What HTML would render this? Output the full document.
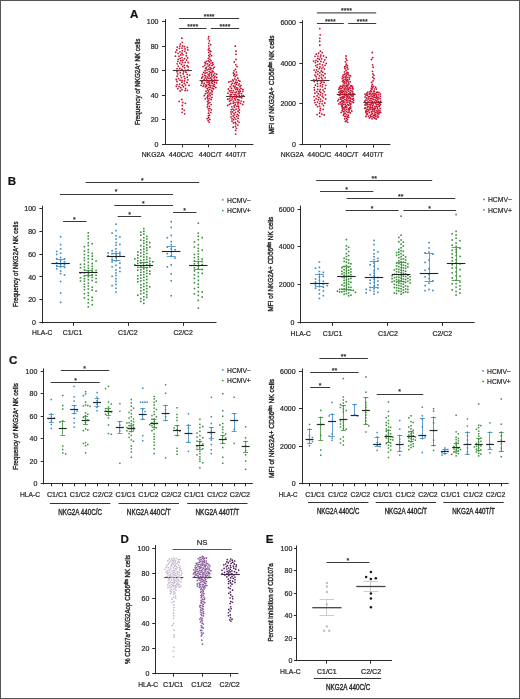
<!DOCTYPE html>
<html><head><meta charset="utf-8"><title>Figure</title>
<style>
html,body{margin:0;padding:0;background:#fff;}
svg{display:block;will-change:transform;font-family:"Liberation Sans", sans-serif;}
text{stroke:#2a2a2a;stroke-width:0.22px;}
text.v{stroke-width:0.4px;}
text.g{stroke-width:0.38px;}
text.b{stroke-width:0.1px;}
</style></head>
<body>
<svg width="520" height="699" viewBox="0 0 520 699">
<rect x="0" y="0" width="520" height="699" fill="#fff"/>
<text x="134.1" y="17.53" font-size="11.6" font-weight="bold" fill="#111" text-anchor="middle">A</text>
<line x1="165.5" y1="19" x2="165.5" y2="144.8" stroke="#2b2b2b" stroke-width="1"/>
<line x1="162" y1="144.5" x2="165" y2="144.5" stroke="#2b2b2b" stroke-width="1"/>
<text x="158.5" y="146.62" font-size="7" fill="#2a2a2a" text-anchor="end">0</text>
<line x1="162" y1="119.5" x2="165" y2="119.5" stroke="#2b2b2b" stroke-width="1"/>
<text x="158.5" y="122.18" font-size="7" fill="#2a2a2a" text-anchor="end">20</text>
<line x1="162" y1="95.5" x2="165" y2="95.5" stroke="#2b2b2b" stroke-width="1"/>
<text x="158.5" y="97.74" font-size="7" fill="#2a2a2a" text-anchor="end">40</text>
<line x1="162" y1="70.5" x2="165" y2="70.5" stroke="#2b2b2b" stroke-width="1"/>
<text x="158.5" y="73.3" font-size="7" fill="#2a2a2a" text-anchor="end">60</text>
<line x1="162" y1="46.5" x2="165" y2="46.5" stroke="#2b2b2b" stroke-width="1"/>
<text x="158.5" y="48.86" font-size="7" fill="#2a2a2a" text-anchor="end">80</text>
<line x1="162" y1="21.5" x2="165" y2="21.5" stroke="#2b2b2b" stroke-width="1"/>
<text x="158.5" y="24.42" font-size="7" fill="#2a2a2a" text-anchor="end">100</text>
<line x1="164.5" y1="144.5" x2="253.3" y2="144.5" stroke="#2b2b2b" stroke-width="1"/>
<line x1="182.5" y1="144.3" x2="182.5" y2="147.3" stroke="#2b2b2b" stroke-width="1"/>
<line x1="208.5" y1="144.3" x2="208.5" y2="147.3" stroke="#2b2b2b" stroke-width="1"/>
<line x1="235.5" y1="144.3" x2="235.5" y2="147.3" stroke="#2b2b2b" stroke-width="1"/>
<text x="141.7" y="157.25" font-size="6.8" font-weight="normal" fill="#2a2a2a" textLength="23.1" lengthAdjust="spacingAndGlyphs">NKG2A</text>
<text x="168.8" y="157.25" font-size="6.8" font-weight="normal" fill="#2a2a2a" textLength="24.5" lengthAdjust="spacingAndGlyphs">440C/C</text>
<text x="198.7" y="157.25" font-size="6.8" font-weight="normal" fill="#2a2a2a" textLength="23.3" lengthAdjust="spacingAndGlyphs">440C/T</text>
<text x="225.3" y="157.25" font-size="6.8" font-weight="normal" fill="#2a2a2a" textLength="21" lengthAdjust="spacingAndGlyphs">440T/T</text>
<text class="v" transform="translate(140.31,81.85) rotate(-90)" x="0" y="0" font-size="7.8" fill="#2a2a2a" text-anchor="middle" textLength="86.5" lengthAdjust="spacingAndGlyphs">Frequency of NKG2A<tspan font-size="4.5" dy="-2.2">+</tspan><tspan dy="2.2"> NK cells</tspan></text>
<line x1="179.1" y1="18.5" x2="239.2" y2="18.5" stroke="#3a3a3a" stroke-width="1"/>
<text x="209.15" y="18.66" font-size="7" fill="#2a2a2a" text-anchor="middle">****</text>
<line x1="179.1" y1="28.5" x2="206.5" y2="28.5" stroke="#3a3a3a" stroke-width="1"/>
<text x="192.8" y="29.26" font-size="7" fill="#2a2a2a" text-anchor="middle">****</text>
<line x1="210.8" y1="28.5" x2="239.2" y2="28.5" stroke="#3a3a3a" stroke-width="1"/>
<text x="225" y="29.26" font-size="7" fill="#2a2a2a" text-anchor="middle">****</text>
<line x1="172.8" y1="70.5" x2="191.8" y2="70.5" stroke="#3a4038" stroke-width="1.1"/>
<circle cx="179.9" cy="51.78" r="0.9" fill="#c4102e"/>
<circle cx="182.04" cy="57.55" r="0.9" fill="#c4102e"/>
<circle cx="181.92" cy="69.49" r="0.9" fill="#c4102e"/>
<circle cx="189.56" cy="75.22" r="0.9" fill="#c4102e"/>
<circle cx="181.95" cy="89.7" r="0.9" fill="#c4102e"/>
<circle cx="182.3" cy="50.83" r="0.9" fill="#c4102e"/>
<circle cx="181.83" cy="38.15" r="0.9" fill="#c4102e"/>
<circle cx="184.67" cy="67.79" r="0.9" fill="#c4102e"/>
<circle cx="182.31" cy="42.29" r="0.9" fill="#c4102e"/>
<circle cx="180.18" cy="72.72" r="0.9" fill="#c4102e"/>
<circle cx="179.19" cy="101.31" r="0.9" fill="#c4102e"/>
<circle cx="176.93" cy="81.49" r="0.9" fill="#c4102e"/>
<circle cx="188.29" cy="66.95" r="0.9" fill="#c4102e"/>
<circle cx="175.7" cy="52.18" r="0.9" fill="#c4102e"/>
<circle cx="176.84" cy="50" r="0.9" fill="#c4102e"/>
<circle cx="181.88" cy="53.21" r="0.9" fill="#c4102e"/>
<circle cx="180.08" cy="91" r="0.9" fill="#c4102e"/>
<circle cx="177.14" cy="76.19" r="0.9" fill="#c4102e"/>
<circle cx="186.39" cy="53.2" r="0.9" fill="#c4102e"/>
<circle cx="184.58" cy="113.78" r="0.9" fill="#c4102e"/>
<circle cx="181.44" cy="64.46" r="0.9" fill="#c4102e"/>
<circle cx="177.74" cy="73.92" r="0.9" fill="#c4102e"/>
<circle cx="185.95" cy="72.22" r="0.9" fill="#c4102e"/>
<circle cx="188.14" cy="62.49" r="0.9" fill="#c4102e"/>
<circle cx="182.64" cy="45.96" r="0.9" fill="#c4102e"/>
<circle cx="177.15" cy="84.62" r="0.9" fill="#c4102e"/>
<circle cx="177.83" cy="61.34" r="0.9" fill="#c4102e"/>
<circle cx="182.27" cy="85.2" r="0.9" fill="#c4102e"/>
<circle cx="178.97" cy="56.14" r="0.9" fill="#c4102e"/>
<circle cx="182.75" cy="66.54" r="0.9" fill="#c4102e"/>
<circle cx="183.2" cy="73.74" r="0.9" fill="#c4102e"/>
<circle cx="178.56" cy="78.53" r="0.9" fill="#c4102e"/>
<circle cx="187.32" cy="77.25" r="0.9" fill="#c4102e"/>
<circle cx="185.41" cy="103.31" r="0.9" fill="#c4102e"/>
<circle cx="178.26" cy="66.09" r="0.9" fill="#c4102e"/>
<circle cx="182.49" cy="62.3" r="0.9" fill="#c4102e"/>
<circle cx="179.4" cy="48.39" r="0.9" fill="#c4102e"/>
<circle cx="179.04" cy="86.59" r="0.9" fill="#c4102e"/>
<circle cx="186.32" cy="55.75" r="0.9" fill="#c4102e"/>
<circle cx="184.18" cy="110.29" r="0.9" fill="#c4102e"/>
<circle cx="182.28" cy="108.98" r="0.9" fill="#c4102e"/>
<circle cx="180.76" cy="87.7" r="0.9" fill="#c4102e"/>
<circle cx="184.51" cy="80.9" r="0.9" fill="#c4102e"/>
<circle cx="181.82" cy="82.13" r="0.9" fill="#c4102e"/>
<circle cx="184.89" cy="51.28" r="0.9" fill="#c4102e"/>
<circle cx="180.88" cy="60.76" r="0.9" fill="#c4102e"/>
<circle cx="182.06" cy="112.34" r="0.9" fill="#c4102e"/>
<circle cx="179.19" cy="70.46" r="0.9" fill="#c4102e"/>
<circle cx="184.53" cy="58.69" r="0.9" fill="#c4102e"/>
<circle cx="187.43" cy="47.39" r="0.9" fill="#c4102e"/>
<circle cx="180.38" cy="44.1" r="0.9" fill="#c4102e"/>
<circle cx="177.11" cy="68.72" r="0.9" fill="#c4102e"/>
<circle cx="187.69" cy="49.93" r="0.9" fill="#c4102e"/>
<circle cx="187.14" cy="74.34" r="0.9" fill="#c4102e"/>
<circle cx="181.52" cy="77.55" r="0.9" fill="#c4102e"/>
<circle cx="186.58" cy="60.13" r="0.9" fill="#c4102e"/>
<circle cx="185.59" cy="88.36" r="0.9" fill="#c4102e"/>
<circle cx="181.87" cy="99.52" r="0.9" fill="#c4102e"/>
<circle cx="180.14" cy="58.41" r="0.9" fill="#c4102e"/>
<circle cx="183.58" cy="71.81" r="0.9" fill="#c4102e"/>
<circle cx="184.28" cy="65.44" r="0.9" fill="#c4102e"/>
<circle cx="187.37" cy="90.37" r="0.9" fill="#c4102e"/>
<circle cx="184.88" cy="78.53" r="0.9" fill="#c4102e"/>
<circle cx="184.09" cy="76.51" r="0.9" fill="#c4102e"/>
<circle cx="179.87" cy="63.04" r="0.9" fill="#c4102e"/>
<circle cx="179.93" cy="46.06" r="0.9" fill="#c4102e"/>
<circle cx="182.95" cy="60.22" r="0.9" fill="#c4102e"/>
<circle cx="185.37" cy="70.43" r="0.9" fill="#c4102e"/>
<circle cx="182.12" cy="80.49" r="0.9" fill="#c4102e"/>
<circle cx="176.28" cy="79.52" r="0.9" fill="#c4102e"/>
<circle cx="185.25" cy="62.43" r="0.9" fill="#c4102e"/>
<circle cx="182.28" cy="105.48" r="0.9" fill="#c4102e"/>
<circle cx="177.18" cy="47.09" r="0.9" fill="#c4102e"/>
<circle cx="177.8" cy="88.67" r="0.9" fill="#c4102e"/>
<circle cx="182.67" cy="102.38" r="0.9" fill="#c4102e"/>
<circle cx="179.85" cy="68.37" r="0.9" fill="#c4102e"/>
<circle cx="185.21" cy="90.46" r="0.9" fill="#c4102e"/>
<circle cx="184.58" cy="46.69" r="0.9" fill="#c4102e"/>
<circle cx="181.95" cy="48.05" r="0.9" fill="#c4102e"/>
<circle cx="187.08" cy="82.49" r="0.9" fill="#c4102e"/>
<circle cx="178.21" cy="59.29" r="0.9" fill="#c4102e"/>
<circle cx="185.06" cy="49.02" r="0.9" fill="#c4102e"/>
<circle cx="185.46" cy="85.08" r="0.9" fill="#c4102e"/>
<circle cx="184.32" cy="83.46" r="0.9" fill="#c4102e"/>
<circle cx="187.84" cy="79.85" r="0.9" fill="#c4102e"/>
<circle cx="182.97" cy="54.84" r="0.9" fill="#c4102e"/>
<circle cx="180.07" cy="80.17" r="0.9" fill="#c4102e"/>
<circle cx="180.52" cy="75.56" r="0.9" fill="#c4102e"/>
<circle cx="189.06" cy="85.43" r="0.9" fill="#c4102e"/>
<circle cx="178" cy="53.35" r="0.9" fill="#c4102e"/>
<circle cx="179.55" cy="84.06" r="0.9" fill="#c4102e"/>
<circle cx="188.05" cy="69.9" r="0.9" fill="#c4102e"/>
<circle cx="176.25" cy="86.34" r="0.9" fill="#c4102e"/>
<circle cx="187.6" cy="57.92" r="0.9" fill="#c4102e"/>
<circle cx="177.25" cy="63.78" r="0.9" fill="#c4102e"/>
<circle cx="175.5" cy="56.13" r="0.9" fill="#c4102e"/>
<circle cx="183.48" cy="86.76" r="0.9" fill="#c4102e"/>
<circle cx="187.08" cy="65.75" r="0.9" fill="#c4102e"/>
<circle cx="180.82" cy="54.91" r="0.9" fill="#c4102e"/>
<circle cx="177.03" cy="71.76" r="0.9" fill="#c4102e"/>
<line x1="199.5" y1="80.5" x2="218.5" y2="80.5" stroke="#3a4038" stroke-width="1.1"/>
<circle cx="208.76" cy="52.45" r="0.9" fill="#c4102e"/>
<circle cx="208.32" cy="38.79" r="0.9" fill="#c4102e"/>
<circle cx="213.18" cy="71.69" r="0.9" fill="#c4102e"/>
<circle cx="205.77" cy="63.71" r="0.9" fill="#c4102e"/>
<circle cx="211.92" cy="65.6" r="0.9" fill="#c4102e"/>
<circle cx="208.14" cy="120.48" r="0.9" fill="#c4102e"/>
<circle cx="208.33" cy="103.14" r="0.9" fill="#c4102e"/>
<circle cx="204.91" cy="62.48" r="0.9" fill="#c4102e"/>
<circle cx="205.35" cy="93.77" r="0.9" fill="#c4102e"/>
<circle cx="206.16" cy="80.86" r="0.9" fill="#c4102e"/>
<circle cx="207.13" cy="82.38" r="0.9" fill="#c4102e"/>
<circle cx="210.36" cy="87.43" r="0.9" fill="#c4102e"/>
<circle cx="216.61" cy="74.2" r="0.9" fill="#c4102e"/>
<circle cx="202.51" cy="81.13" r="0.9" fill="#c4102e"/>
<circle cx="208.79" cy="117.77" r="0.9" fill="#c4102e"/>
<circle cx="213.25" cy="68.61" r="0.9" fill="#c4102e"/>
<circle cx="208.88" cy="87.6" r="0.9" fill="#c4102e"/>
<circle cx="214.53" cy="82.25" r="0.9" fill="#c4102e"/>
<circle cx="208.3" cy="80.96" r="0.9" fill="#c4102e"/>
<circle cx="208.35" cy="115.8" r="0.9" fill="#c4102e"/>
<circle cx="211.03" cy="60.63" r="0.9" fill="#c4102e"/>
<circle cx="211.73" cy="79.2" r="0.9" fill="#c4102e"/>
<circle cx="211.15" cy="104.56" r="0.9" fill="#c4102e"/>
<circle cx="209.46" cy="73.8" r="0.9" fill="#c4102e"/>
<circle cx="209.17" cy="94.02" r="0.9" fill="#c4102e"/>
<circle cx="209.3" cy="85.52" r="0.9" fill="#c4102e"/>
<circle cx="209.04" cy="48.27" r="0.9" fill="#c4102e"/>
<circle cx="213.6" cy="75.18" r="0.9" fill="#c4102e"/>
<circle cx="209.37" cy="61.76" r="0.9" fill="#c4102e"/>
<circle cx="212.77" cy="81.43" r="0.9" fill="#c4102e"/>
<circle cx="210.74" cy="51.51" r="0.9" fill="#c4102e"/>
<circle cx="214.2" cy="67.13" r="0.9" fill="#c4102e"/>
<circle cx="205.26" cy="73.13" r="0.9" fill="#c4102e"/>
<circle cx="211.41" cy="74.94" r="0.9" fill="#c4102e"/>
<circle cx="208.32" cy="49.85" r="0.9" fill="#c4102e"/>
<circle cx="201.99" cy="83.34" r="0.9" fill="#c4102e"/>
<circle cx="208.93" cy="110.79" r="0.9" fill="#c4102e"/>
<circle cx="205.11" cy="70.65" r="0.9" fill="#c4102e"/>
<circle cx="209.63" cy="98.38" r="0.9" fill="#c4102e"/>
<circle cx="203.74" cy="72.45" r="0.9" fill="#c4102e"/>
<circle cx="206.05" cy="91.19" r="0.9" fill="#c4102e"/>
<circle cx="210.03" cy="67.52" r="0.9" fill="#c4102e"/>
<circle cx="208.81" cy="69.17" r="0.9" fill="#c4102e"/>
<circle cx="203.06" cy="66.6" r="0.9" fill="#c4102e"/>
<circle cx="216.99" cy="80.41" r="0.9" fill="#c4102e"/>
<circle cx="207.95" cy="96.62" r="0.9" fill="#c4102e"/>
<circle cx="216.48" cy="82.92" r="0.9" fill="#c4102e"/>
<circle cx="209.62" cy="83.68" r="0.9" fill="#c4102e"/>
<circle cx="207.65" cy="104.7" r="0.9" fill="#c4102e"/>
<circle cx="209.42" cy="40.93" r="0.9" fill="#c4102e"/>
<circle cx="210.64" cy="93.06" r="0.9" fill="#c4102e"/>
<circle cx="208.85" cy="43.35" r="0.9" fill="#c4102e"/>
<circle cx="209.42" cy="106.37" r="0.9" fill="#c4102e"/>
<circle cx="209.53" cy="56.83" r="0.9" fill="#c4102e"/>
<circle cx="210.71" cy="112.4" r="0.9" fill="#c4102e"/>
<circle cx="211.36" cy="109.83" r="0.9" fill="#c4102e"/>
<circle cx="207.52" cy="101.56" r="0.9" fill="#c4102e"/>
<circle cx="208" cy="90.25" r="0.9" fill="#c4102e"/>
<circle cx="204.82" cy="65.33" r="0.9" fill="#c4102e"/>
<circle cx="205.85" cy="84.85" r="0.9" fill="#c4102e"/>
<circle cx="207.12" cy="69.93" r="0.9" fill="#c4102e"/>
<circle cx="208.92" cy="78.3" r="0.9" fill="#c4102e"/>
<circle cx="205.21" cy="77.81" r="0.9" fill="#c4102e"/>
<circle cx="209.87" cy="119.36" r="0.9" fill="#c4102e"/>
<circle cx="212.16" cy="88.14" r="0.9" fill="#c4102e"/>
<circle cx="209.67" cy="65.02" r="0.9" fill="#c4102e"/>
<circle cx="207.4" cy="106.91" r="0.9" fill="#c4102e"/>
<circle cx="209.62" cy="80.75" r="0.9" fill="#c4102e"/>
<circle cx="212.12" cy="70.97" r="0.9" fill="#c4102e"/>
<circle cx="211" cy="63.08" r="0.9" fill="#c4102e"/>
<circle cx="214.2" cy="86.44" r="0.9" fill="#c4102e"/>
<circle cx="211.37" cy="82.11" r="0.9" fill="#c4102e"/>
<circle cx="213.05" cy="85.89" r="0.9" fill="#c4102e"/>
<circle cx="204.3" cy="95.67" r="0.9" fill="#c4102e"/>
<circle cx="209.42" cy="115.15" r="0.9" fill="#c4102e"/>
<circle cx="207" cy="72.63" r="0.9" fill="#c4102e"/>
<circle cx="214.65" cy="73.47" r="0.9" fill="#c4102e"/>
<circle cx="208.91" cy="55.46" r="0.9" fill="#c4102e"/>
<circle cx="206.36" cy="61.4" r="0.9" fill="#c4102e"/>
<circle cx="204.13" cy="79.47" r="0.9" fill="#c4102e"/>
<circle cx="203.01" cy="86.34" r="0.9" fill="#c4102e"/>
<circle cx="208.21" cy="84.28" r="0.9" fill="#c4102e"/>
<circle cx="208.21" cy="60.66" r="0.9" fill="#c4102e"/>
<circle cx="208.5" cy="100.51" r="0.9" fill="#c4102e"/>
<circle cx="213.53" cy="89" r="0.9" fill="#c4102e"/>
<circle cx="204.22" cy="83.14" r="0.9" fill="#c4102e"/>
<circle cx="209.98" cy="59.28" r="0.9" fill="#c4102e"/>
<circle cx="208.98" cy="82.44" r="0.9" fill="#c4102e"/>
<circle cx="208.16" cy="66.09" r="0.9" fill="#c4102e"/>
<circle cx="208.75" cy="91.79" r="0.9" fill="#c4102e"/>
<circle cx="206.46" cy="67.48" r="0.9" fill="#c4102e"/>
<circle cx="202.75" cy="76.74" r="0.9" fill="#c4102e"/>
<circle cx="208.72" cy="45.81" r="0.9" fill="#c4102e"/>
<circle cx="207.18" cy="92.9" r="0.9" fill="#c4102e"/>
<circle cx="208.24" cy="74.68" r="0.9" fill="#c4102e"/>
<circle cx="211.11" cy="68.46" r="0.9" fill="#c4102e"/>
<circle cx="209.13" cy="122.04" r="0.9" fill="#c4102e"/>
<circle cx="210.2" cy="95.77" r="0.9" fill="#c4102e"/>
<circle cx="209.88" cy="108.61" r="0.9" fill="#c4102e"/>
<circle cx="209.76" cy="89.57" r="0.9" fill="#c4102e"/>
<circle cx="207.79" cy="95.44" r="0.9" fill="#c4102e"/>
<circle cx="214.04" cy="84.5" r="0.9" fill="#c4102e"/>
<circle cx="207.18" cy="88.5" r="0.9" fill="#c4102e"/>
<circle cx="214.72" cy="79.82" r="0.9" fill="#c4102e"/>
<circle cx="212.63" cy="62.77" r="0.9" fill="#c4102e"/>
<circle cx="208.51" cy="113.19" r="0.9" fill="#c4102e"/>
<circle cx="205.58" cy="68.52" r="0.9" fill="#c4102e"/>
<circle cx="210.24" cy="69.56" r="0.9" fill="#c4102e"/>
<circle cx="200.97" cy="85.34" r="0.9" fill="#c4102e"/>
<circle cx="209.63" cy="50.6" r="0.9" fill="#c4102e"/>
<circle cx="208.35" cy="58.3" r="0.9" fill="#c4102e"/>
<circle cx="211.9" cy="97.28" r="0.9" fill="#c4102e"/>
<circle cx="207.12" cy="118.61" r="0.9" fill="#c4102e"/>
<circle cx="207.74" cy="98.85" r="0.9" fill="#c4102e"/>
<circle cx="215.83" cy="87.53" r="0.9" fill="#c4102e"/>
<circle cx="203.85" cy="85.08" r="0.9" fill="#c4102e"/>
<circle cx="201.71" cy="78" r="0.9" fill="#c4102e"/>
<circle cx="210.62" cy="78" r="0.9" fill="#c4102e"/>
<circle cx="207.58" cy="77.24" r="0.9" fill="#c4102e"/>
<circle cx="210.66" cy="44.66" r="0.9" fill="#c4102e"/>
<circle cx="205.28" cy="98.83" r="0.9" fill="#c4102e"/>
<circle cx="214.95" cy="76.52" r="0.9" fill="#c4102e"/>
<circle cx="213.01" cy="64.4" r="0.9" fill="#c4102e"/>
<circle cx="211.69" cy="90.47" r="0.9" fill="#c4102e"/>
<circle cx="204.69" cy="75.3" r="0.9" fill="#c4102e"/>
<circle cx="208.27" cy="108.84" r="0.9" fill="#c4102e"/>
<circle cx="212" cy="76.5" r="0.9" fill="#c4102e"/>
<circle cx="212.15" cy="91.77" r="0.9" fill="#c4102e"/>
<circle cx="216.68" cy="77.51" r="0.9" fill="#c4102e"/>
<circle cx="211.18" cy="99.51" r="0.9" fill="#c4102e"/>
<circle cx="213.99" cy="77.94" r="0.9" fill="#c4102e"/>
<circle cx="205.89" cy="76.12" r="0.9" fill="#c4102e"/>
<circle cx="210.72" cy="72.43" r="0.9" fill="#c4102e"/>
<circle cx="208.69" cy="36.76" r="0.9" fill="#c4102e"/>
<circle cx="212.17" cy="83.49" r="0.9" fill="#c4102e"/>
<circle cx="211.87" cy="72.93" r="0.9" fill="#c4102e"/>
<circle cx="210.88" cy="85.58" r="0.9" fill="#c4102e"/>
<circle cx="212.01" cy="94.45" r="0.9" fill="#c4102e"/>
<circle cx="207.74" cy="63.95" r="0.9" fill="#c4102e"/>
<circle cx="210.14" cy="54.05" r="0.9" fill="#c4102e"/>
<circle cx="201.73" cy="81.78" r="0.9" fill="#c4102e"/>
<circle cx="206.72" cy="78.9" r="0.9" fill="#c4102e"/>
<circle cx="205.38" cy="86.91" r="0.9" fill="#c4102e"/>
<circle cx="209.22" cy="75.99" r="0.9" fill="#c4102e"/>
<circle cx="207.13" cy="97.37" r="0.9" fill="#c4102e"/>
<circle cx="202.55" cy="74.34" r="0.9" fill="#c4102e"/>
<circle cx="206.64" cy="85.98" r="0.9" fill="#c4102e"/>
<circle cx="211.57" cy="55.65" r="0.9" fill="#c4102e"/>
<circle cx="209.23" cy="71.61" r="0.9" fill="#c4102e"/>
<circle cx="209.82" cy="102.6" r="0.9" fill="#c4102e"/>
<line x1="226.1" y1="96.5" x2="245.1" y2="96.5" stroke="#3a4038" stroke-width="1.1"/>
<circle cx="235.25" cy="46.22" r="0.9" fill="#c4102e"/>
<circle cx="237.18" cy="82.45" r="0.9" fill="#c4102e"/>
<circle cx="229.41" cy="101.21" r="0.9" fill="#c4102e"/>
<circle cx="230.98" cy="81.28" r="0.9" fill="#c4102e"/>
<circle cx="236.07" cy="51.26" r="0.9" fill="#c4102e"/>
<circle cx="227.75" cy="99.15" r="0.9" fill="#c4102e"/>
<circle cx="237.84" cy="78.13" r="0.9" fill="#c4102e"/>
<circle cx="234.64" cy="83.5" r="0.9" fill="#c4102e"/>
<circle cx="239.83" cy="81.14" r="0.9" fill="#c4102e"/>
<circle cx="240.25" cy="91.16" r="0.9" fill="#c4102e"/>
<circle cx="228.41" cy="88.99" r="0.9" fill="#c4102e"/>
<circle cx="235.56" cy="112.28" r="0.9" fill="#c4102e"/>
<circle cx="234.52" cy="107.2" r="0.9" fill="#c4102e"/>
<circle cx="240.96" cy="88.39" r="0.9" fill="#c4102e"/>
<circle cx="235.37" cy="104.72" r="0.9" fill="#c4102e"/>
<circle cx="236.44" cy="72.11" r="0.9" fill="#c4102e"/>
<circle cx="235.28" cy="99.92" r="0.9" fill="#c4102e"/>
<circle cx="237.04" cy="66.71" r="0.9" fill="#c4102e"/>
<circle cx="243.69" cy="101.84" r="0.9" fill="#c4102e"/>
<circle cx="234.67" cy="74.21" r="0.9" fill="#c4102e"/>
<circle cx="229.63" cy="98.65" r="0.9" fill="#c4102e"/>
<circle cx="237.38" cy="114.33" r="0.9" fill="#c4102e"/>
<circle cx="234.54" cy="87.74" r="0.9" fill="#c4102e"/>
<circle cx="230.19" cy="94.92" r="0.9" fill="#c4102e"/>
<circle cx="236.26" cy="97.53" r="0.9" fill="#c4102e"/>
<circle cx="238.98" cy="122.3" r="0.9" fill="#c4102e"/>
<circle cx="232.91" cy="109.05" r="0.9" fill="#c4102e"/>
<circle cx="237.99" cy="111.15" r="0.9" fill="#c4102e"/>
<circle cx="242.88" cy="89.45" r="0.9" fill="#c4102e"/>
<circle cx="241.5" cy="93.67" r="0.9" fill="#c4102e"/>
<circle cx="231.35" cy="109.58" r="0.9" fill="#c4102e"/>
<circle cx="236.82" cy="74.96" r="0.9" fill="#c4102e"/>
<circle cx="241.21" cy="101.05" r="0.9" fill="#c4102e"/>
<circle cx="242.86" cy="91.39" r="0.9" fill="#c4102e"/>
<circle cx="237.13" cy="102.07" r="0.9" fill="#c4102e"/>
<circle cx="240.04" cy="86.64" r="0.9" fill="#c4102e"/>
<circle cx="239.62" cy="92.93" r="0.9" fill="#c4102e"/>
<circle cx="238.2" cy="93.68" r="0.9" fill="#c4102e"/>
<circle cx="239.28" cy="112.61" r="0.9" fill="#c4102e"/>
<circle cx="228" cy="93.17" r="0.9" fill="#c4102e"/>
<circle cx="241.04" cy="85.35" r="0.9" fill="#c4102e"/>
<circle cx="233.47" cy="122.98" r="0.9" fill="#c4102e"/>
<circle cx="236.48" cy="128.3" r="0.9" fill="#c4102e"/>
<circle cx="236.66" cy="116.35" r="0.9" fill="#c4102e"/>
<circle cx="237.25" cy="89.67" r="0.9" fill="#c4102e"/>
<circle cx="242.71" cy="104.49" r="0.9" fill="#c4102e"/>
<circle cx="232.69" cy="79.85" r="0.9" fill="#c4102e"/>
<circle cx="238.94" cy="99.99" r="0.9" fill="#c4102e"/>
<circle cx="235.81" cy="64.85" r="0.9" fill="#c4102e"/>
<circle cx="234.08" cy="105.58" r="0.9" fill="#c4102e"/>
<circle cx="234.2" cy="61.95" r="0.9" fill="#c4102e"/>
<circle cx="238.46" cy="85.3" r="0.9" fill="#c4102e"/>
<circle cx="236.67" cy="95.88" r="0.9" fill="#c4102e"/>
<circle cx="237.92" cy="103.88" r="0.9" fill="#c4102e"/>
<circle cx="241.75" cy="97.97" r="0.9" fill="#c4102e"/>
<circle cx="231.35" cy="84.87" r="0.9" fill="#c4102e"/>
<circle cx="239.46" cy="89.67" r="0.9" fill="#c4102e"/>
<circle cx="232.28" cy="83.18" r="0.9" fill="#c4102e"/>
<circle cx="232.03" cy="121.14" r="0.9" fill="#c4102e"/>
<circle cx="235.64" cy="130.4" r="0.9" fill="#c4102e"/>
<circle cx="237.49" cy="99.71" r="0.9" fill="#c4102e"/>
<circle cx="233.2" cy="127.23" r="0.9" fill="#c4102e"/>
<circle cx="231.34" cy="114.04" r="0.9" fill="#c4102e"/>
<circle cx="231.1" cy="90.6" r="0.9" fill="#c4102e"/>
<circle cx="235.11" cy="92.29" r="0.9" fill="#c4102e"/>
<circle cx="238.05" cy="96.96" r="0.9" fill="#c4102e"/>
<circle cx="233.28" cy="90.65" r="0.9" fill="#c4102e"/>
<circle cx="236.17" cy="79.88" r="0.9" fill="#c4102e"/>
<circle cx="238.53" cy="80.35" r="0.9" fill="#c4102e"/>
<circle cx="241.83" cy="95.91" r="0.9" fill="#c4102e"/>
<circle cx="229.44" cy="90.92" r="0.9" fill="#c4102e"/>
<circle cx="235.3" cy="76.47" r="0.9" fill="#c4102e"/>
<circle cx="231.03" cy="116.84" r="0.9" fill="#c4102e"/>
<circle cx="231.98" cy="118.66" r="0.9" fill="#c4102e"/>
<circle cx="231.49" cy="94.63" r="0.9" fill="#c4102e"/>
<circle cx="234.78" cy="96.33" r="0.9" fill="#c4102e"/>
<circle cx="232.72" cy="92.66" r="0.9" fill="#c4102e"/>
<circle cx="238.76" cy="102.26" r="0.9" fill="#c4102e"/>
<circle cx="243.29" cy="95.69" r="0.9" fill="#c4102e"/>
<circle cx="233.81" cy="113.36" r="0.9" fill="#c4102e"/>
<circle cx="234.04" cy="70.82" r="0.9" fill="#c4102e"/>
<circle cx="239.93" cy="97.19" r="0.9" fill="#c4102e"/>
<circle cx="230.94" cy="92.46" r="0.9" fill="#c4102e"/>
<circle cx="233.95" cy="110.19" r="0.9" fill="#c4102e"/>
<circle cx="237.71" cy="88.1" r="0.9" fill="#c4102e"/>
<circle cx="235.97" cy="59.49" r="0.9" fill="#c4102e"/>
<circle cx="236.08" cy="109.13" r="0.9" fill="#c4102e"/>
<circle cx="235.23" cy="86.04" r="0.9" fill="#c4102e"/>
<circle cx="235.29" cy="122.37" r="0.9" fill="#c4102e"/>
<circle cx="233.88" cy="75.43" r="0.9" fill="#c4102e"/>
<circle cx="232.08" cy="98.92" r="0.9" fill="#c4102e"/>
<circle cx="237.74" cy="121.05" r="0.9" fill="#c4102e"/>
<circle cx="233.16" cy="116" r="0.9" fill="#c4102e"/>
<circle cx="238.62" cy="91.48" r="0.9" fill="#c4102e"/>
<circle cx="239.37" cy="109.93" r="0.9" fill="#c4102e"/>
<circle cx="235.64" cy="134.12" r="0.9" fill="#c4102e"/>
<circle cx="230.21" cy="86.87" r="0.9" fill="#c4102e"/>
<circle cx="235.69" cy="89.36" r="0.9" fill="#c4102e"/>
<circle cx="232.71" cy="97" r="0.9" fill="#c4102e"/>
<circle cx="234.7" cy="114.87" r="0.9" fill="#c4102e"/>
<circle cx="227.66" cy="105.39" r="0.9" fill="#c4102e"/>
<circle cx="235.92" cy="123.95" r="0.9" fill="#c4102e"/>
<circle cx="236.3" cy="87.8" r="0.9" fill="#c4102e"/>
<circle cx="235.96" cy="54.28" r="0.9" fill="#c4102e"/>
<circle cx="233.38" cy="80.89" r="0.9" fill="#c4102e"/>
<circle cx="230.85" cy="96.78" r="0.9" fill="#c4102e"/>
<circle cx="228.94" cy="82.02" r="0.9" fill="#c4102e"/>
<circle cx="237.88" cy="125.04" r="0.9" fill="#c4102e"/>
<circle cx="233.29" cy="101.03" r="0.9" fill="#c4102e"/>
<circle cx="236.36" cy="84.26" r="0.9" fill="#c4102e"/>
<circle cx="235.47" cy="69.43" r="0.9" fill="#c4102e"/>
<circle cx="230.9" cy="100.35" r="0.9" fill="#c4102e"/>
<circle cx="234.7" cy="98.52" r="0.9" fill="#c4102e"/>
<circle cx="240.53" cy="103.45" r="0.9" fill="#c4102e"/>
<circle cx="233.64" cy="119.64" r="0.9" fill="#c4102e"/>
<circle cx="234.39" cy="117.68" r="0.9" fill="#c4102e"/>
<circle cx="229.39" cy="104.28" r="0.9" fill="#c4102e"/>
<circle cx="235.43" cy="126.51" r="0.9" fill="#c4102e"/>
<circle cx="233.45" cy="73.01" r="0.9" fill="#c4102e"/>
<circle cx="234.93" cy="102.67" r="0.9" fill="#c4102e"/>
<circle cx="234.05" cy="94.6" r="0.9" fill="#c4102e"/>
<circle cx="236.95" cy="106.16" r="0.9" fill="#c4102e"/>
<circle cx="238.5" cy="106.27" r="0.9" fill="#c4102e"/>
<circle cx="230.92" cy="111.9" r="0.9" fill="#c4102e"/>
<circle cx="238.55" cy="115.67" r="0.9" fill="#c4102e"/>
<circle cx="233.45" cy="86" r="0.9" fill="#c4102e"/>
<circle cx="230.76" cy="103.48" r="0.9" fill="#c4102e"/>
<circle cx="232.52" cy="111.87" r="0.9" fill="#c4102e"/>
<circle cx="235.8" cy="119.05" r="0.9" fill="#c4102e"/>
<circle cx="231.91" cy="106.78" r="0.9" fill="#c4102e"/>
<circle cx="238.64" cy="108.04" r="0.9" fill="#c4102e"/>
<circle cx="239.26" cy="83.89" r="0.9" fill="#c4102e"/>
<circle cx="239.25" cy="95.15" r="0.9" fill="#c4102e"/>
<circle cx="238.01" cy="118.14" r="0.9" fill="#c4102e"/>
<circle cx="236.48" cy="91.93" r="0.9" fill="#c4102e"/>
<circle cx="231.52" cy="88.43" r="0.9" fill="#c4102e"/>
<circle cx="234.64" cy="78.81" r="0.9" fill="#c4102e"/>
<circle cx="235.74" cy="82.2" r="0.9" fill="#c4102e"/>
<circle cx="233.14" cy="103.14" r="0.9" fill="#c4102e"/>
<circle cx="235.75" cy="94.42" r="0.9" fill="#c4102e"/>
<line x1="302.5" y1="20.2" x2="302.5" y2="145.1" stroke="#2b2b2b" stroke-width="1"/>
<line x1="299.4" y1="144.5" x2="302.4" y2="144.5" stroke="#2b2b2b" stroke-width="1"/>
<text x="296" y="146.92" font-size="7" fill="#2a2a2a" text-anchor="end">0</text>
<line x1="299.4" y1="103.5" x2="302.4" y2="103.5" stroke="#2b2b2b" stroke-width="1"/>
<text x="296" y="106.39" font-size="7" fill="#2a2a2a" text-anchor="end">2000</text>
<line x1="299.4" y1="63.5" x2="302.4" y2="63.5" stroke="#2b2b2b" stroke-width="1"/>
<text x="296" y="65.85" font-size="7" fill="#2a2a2a" text-anchor="end">4000</text>
<line x1="299.4" y1="22.5" x2="302.4" y2="22.5" stroke="#2b2b2b" stroke-width="1"/>
<text x="296" y="25.32" font-size="7" fill="#2a2a2a" text-anchor="end">6000</text>
<line x1="301.9" y1="144.5" x2="390.4" y2="144.5" stroke="#2b2b2b" stroke-width="1"/>
<line x1="320.5" y1="144.6" x2="320.5" y2="147.6" stroke="#2b2b2b" stroke-width="1"/>
<line x1="346.5" y1="144.6" x2="346.5" y2="147.6" stroke="#2b2b2b" stroke-width="1"/>
<line x1="373.5" y1="144.6" x2="373.5" y2="147.6" stroke="#2b2b2b" stroke-width="1"/>
<text x="280.8" y="157.05" font-size="6.8" font-weight="normal" fill="#2a2a2a" textLength="23" lengthAdjust="spacingAndGlyphs">NKG2A</text>
<text x="307.3" y="157.05" font-size="6.8" font-weight="normal" fill="#2a2a2a" textLength="24.2" lengthAdjust="spacingAndGlyphs">440C/C</text>
<text x="334.5" y="157.05" font-size="6.8" font-weight="normal" fill="#2a2a2a" textLength="24" lengthAdjust="spacingAndGlyphs">440C/T</text>
<text x="362.2" y="157.05" font-size="6.8" font-weight="normal" fill="#2a2a2a" textLength="21.3" lengthAdjust="spacingAndGlyphs">440T/T</text>
<text class="v" transform="translate(274.41,84.9) rotate(-90)" x="0" y="0" font-size="7.8" fill="#2a2a2a" text-anchor="middle" textLength="99.2" lengthAdjust="spacingAndGlyphs">MFI of NKG2A+ CD56<tspan font-size="4.5" dy="-2.2">dim</tspan><tspan dy="2.2"> NK cells</tspan></text>
<line x1="316.9" y1="12.8" x2="376.2" y2="12.8" stroke="#555" stroke-width="1.3"/>
<text x="346.55" y="12.96" font-size="7" fill="#2a2a2a" text-anchor="middle">****</text>
<line x1="316.9" y1="23.5" x2="343.8" y2="23.5" stroke="#3a3a3a" stroke-width="1"/>
<text x="330.35" y="23.76" font-size="7" fill="#2a2a2a" text-anchor="middle">****</text>
<line x1="348.2" y1="23.5" x2="376.2" y2="23.5" stroke="#3a3a3a" stroke-width="1"/>
<text x="362.2" y="23.76" font-size="7" fill="#2a2a2a" text-anchor="middle">****</text>
<line x1="310.5" y1="80.5" x2="329.5" y2="80.5" stroke="#3a4038" stroke-width="1.1"/>
<circle cx="315.4" cy="62.51" r="0.9" fill="#c4102e"/>
<circle cx="323.1" cy="109.41" r="0.9" fill="#c4102e"/>
<circle cx="325.43" cy="94.97" r="0.9" fill="#c4102e"/>
<circle cx="320.35" cy="108.42" r="0.9" fill="#c4102e"/>
<circle cx="325.04" cy="88.46" r="0.9" fill="#c4102e"/>
<circle cx="322.32" cy="86.82" r="0.9" fill="#c4102e"/>
<circle cx="322.37" cy="64.83" r="0.9" fill="#c4102e"/>
<circle cx="320.17" cy="110.45" r="0.9" fill="#c4102e"/>
<circle cx="320.56" cy="99.05" r="0.9" fill="#c4102e"/>
<circle cx="325.76" cy="98.98" r="0.9" fill="#c4102e"/>
<circle cx="319.5" cy="103.62" r="0.9" fill="#c4102e"/>
<circle cx="317.68" cy="106.65" r="0.9" fill="#c4102e"/>
<circle cx="320.42" cy="51.2" r="0.9" fill="#c4102e"/>
<circle cx="319.58" cy="91.27" r="0.9" fill="#c4102e"/>
<circle cx="317.75" cy="89.44" r="0.9" fill="#c4102e"/>
<circle cx="314.13" cy="96.53" r="0.9" fill="#c4102e"/>
<circle cx="316.28" cy="54.15" r="0.9" fill="#c4102e"/>
<circle cx="322.7" cy="84.59" r="0.9" fill="#c4102e"/>
<circle cx="323.48" cy="62.12" r="0.9" fill="#c4102e"/>
<circle cx="320.83" cy="55.03" r="0.9" fill="#c4102e"/>
<circle cx="315.85" cy="65.67" r="0.9" fill="#c4102e"/>
<circle cx="314.23" cy="87.61" r="0.9" fill="#c4102e"/>
<circle cx="315.99" cy="60.3" r="0.9" fill="#c4102e"/>
<circle cx="313.91" cy="79.98" r="0.9" fill="#c4102e"/>
<circle cx="323.47" cy="55.97" r="0.9" fill="#c4102e"/>
<circle cx="326.26" cy="57.47" r="0.9" fill="#c4102e"/>
<circle cx="317.13" cy="95.95" r="0.9" fill="#c4102e"/>
<circle cx="319.89" cy="72.8" r="0.9" fill="#c4102e"/>
<circle cx="320.19" cy="34.8" r="0.9" fill="#c4102e"/>
<circle cx="317.37" cy="81.35" r="0.9" fill="#c4102e"/>
<circle cx="322.68" cy="72.19" r="0.9" fill="#c4102e"/>
<circle cx="319.56" cy="75.83" r="0.9" fill="#c4102e"/>
<circle cx="322.23" cy="52.67" r="0.9" fill="#c4102e"/>
<circle cx="315.03" cy="56.36" r="0.9" fill="#c4102e"/>
<circle cx="316.14" cy="76.63" r="0.9" fill="#c4102e"/>
<circle cx="317.57" cy="74.15" r="0.9" fill="#c4102e"/>
<circle cx="324.08" cy="82.44" r="0.9" fill="#c4102e"/>
<circle cx="323.41" cy="75.77" r="0.9" fill="#c4102e"/>
<circle cx="316.46" cy="79.12" r="0.9" fill="#c4102e"/>
<circle cx="319.59" cy="113.01" r="0.9" fill="#c4102e"/>
<circle cx="320.25" cy="94.96" r="0.9" fill="#c4102e"/>
<circle cx="324.47" cy="69.1" r="0.9" fill="#c4102e"/>
<circle cx="319.88" cy="116.4" r="0.9" fill="#c4102e"/>
<circle cx="324.96" cy="73.67" r="0.9" fill="#c4102e"/>
<circle cx="319.28" cy="68.67" r="0.9" fill="#c4102e"/>
<circle cx="321.39" cy="77.28" r="0.9" fill="#c4102e"/>
<circle cx="317.1" cy="114.58" r="0.9" fill="#c4102e"/>
<circle cx="319.78" cy="38.35" r="0.9" fill="#c4102e"/>
<circle cx="317.98" cy="56.03" r="0.9" fill="#c4102e"/>
<circle cx="317.72" cy="86.33" r="0.9" fill="#c4102e"/>
<circle cx="315.74" cy="72.24" r="0.9" fill="#c4102e"/>
<circle cx="323.43" cy="97.57" r="0.9" fill="#c4102e"/>
<circle cx="321.69" cy="68.54" r="0.9" fill="#c4102e"/>
<circle cx="316.08" cy="104.76" r="0.9" fill="#c4102e"/>
<circle cx="323.5" cy="105.59" r="0.9" fill="#c4102e"/>
<circle cx="319.3" cy="59.25" r="0.9" fill="#c4102e"/>
<circle cx="314.97" cy="102.58" r="0.9" fill="#c4102e"/>
<circle cx="320.42" cy="80.8" r="0.9" fill="#c4102e"/>
<circle cx="319.81" cy="28.58" r="0.9" fill="#c4102e"/>
<circle cx="318.96" cy="97.41" r="0.9" fill="#c4102e"/>
<circle cx="318.39" cy="99.66" r="0.9" fill="#c4102e"/>
<circle cx="322.11" cy="78.87" r="0.9" fill="#c4102e"/>
<circle cx="320.79" cy="92.44" r="0.9" fill="#c4102e"/>
<circle cx="314.47" cy="89.98" r="0.9" fill="#c4102e"/>
<circle cx="319.8" cy="63.94" r="0.9" fill="#c4102e"/>
<circle cx="316.87" cy="91.8" r="0.9" fill="#c4102e"/>
<circle cx="324.77" cy="103" r="0.9" fill="#c4102e"/>
<circle cx="319.71" cy="106.12" r="0.9" fill="#c4102e"/>
<circle cx="325.03" cy="65.28" r="0.9" fill="#c4102e"/>
<circle cx="323.19" cy="80.6" r="0.9" fill="#c4102e"/>
<circle cx="326.25" cy="63.42" r="0.9" fill="#c4102e"/>
<circle cx="316.11" cy="98.81" r="0.9" fill="#c4102e"/>
<circle cx="317.25" cy="67.28" r="0.9" fill="#c4102e"/>
<circle cx="317.44" cy="83.67" r="0.9" fill="#c4102e"/>
<circle cx="322.09" cy="103.84" r="0.9" fill="#c4102e"/>
<circle cx="322.5" cy="100.92" r="0.9" fill="#c4102e"/>
<circle cx="316.58" cy="69.8" r="0.9" fill="#c4102e"/>
<circle cx="317.81" cy="61.48" r="0.9" fill="#c4102e"/>
<circle cx="320.42" cy="83.54" r="0.9" fill="#c4102e"/>
<circle cx="318.25" cy="93.75" r="0.9" fill="#c4102e"/>
<circle cx="321.55" cy="82.13" r="0.9" fill="#c4102e"/>
<circle cx="317.68" cy="58.38" r="0.9" fill="#c4102e"/>
<circle cx="322.59" cy="93.83" r="0.9" fill="#c4102e"/>
<circle cx="323.1" cy="67.08" r="0.9" fill="#c4102e"/>
<circle cx="320.27" cy="89.35" r="0.9" fill="#c4102e"/>
<circle cx="313.59" cy="61.06" r="0.9" fill="#c4102e"/>
<circle cx="314.93" cy="93.25" r="0.9" fill="#c4102e"/>
<circle cx="319.82" cy="45.27" r="0.9" fill="#c4102e"/>
<circle cx="317.59" cy="102.09" r="0.9" fill="#c4102e"/>
<circle cx="317.55" cy="64.53" r="0.9" fill="#c4102e"/>
<circle cx="315.44" cy="85.24" r="0.9" fill="#c4102e"/>
<circle cx="324.22" cy="114.98" r="0.9" fill="#c4102e"/>
<circle cx="324.76" cy="59.9" r="0.9" fill="#c4102e"/>
<circle cx="324.24" cy="91.83" r="0.9" fill="#c4102e"/>
<circle cx="321.21" cy="70.99" r="0.9" fill="#c4102e"/>
<circle cx="321.58" cy="74.56" r="0.9" fill="#c4102e"/>
<circle cx="320.32" cy="101.47" r="0.9" fill="#c4102e"/>
<circle cx="323.02" cy="89.97" r="0.9" fill="#c4102e"/>
<circle cx="319.71" cy="41.27" r="0.9" fill="#c4102e"/>
<circle cx="318.01" cy="71.38" r="0.9" fill="#c4102e"/>
<circle cx="325.12" cy="77.79" r="0.9" fill="#c4102e"/>
<circle cx="314.28" cy="81.6" r="0.9" fill="#c4102e"/>
<circle cx="321.54" cy="58.92" r="0.9" fill="#c4102e"/>
<circle cx="314.13" cy="70.04" r="0.9" fill="#c4102e"/>
<circle cx="325.68" cy="85.37" r="0.9" fill="#c4102e"/>
<circle cx="314.39" cy="100.36" r="0.9" fill="#c4102e"/>
<circle cx="320.49" cy="56.81" r="0.9" fill="#c4102e"/>
<circle cx="320.36" cy="85.89" r="0.9" fill="#c4102e"/>
<circle cx="318.61" cy="53.27" r="0.9" fill="#c4102e"/>
<circle cx="322.29" cy="96.27" r="0.9" fill="#c4102e"/>
<circle cx="321.85" cy="114.19" r="0.9" fill="#c4102e"/>
<circle cx="318.89" cy="78.32" r="0.9" fill="#c4102e"/>
<circle cx="320.84" cy="61.47" r="0.9" fill="#c4102e"/>
<circle cx="315.01" cy="75.23" r="0.9" fill="#c4102e"/>
<circle cx="320.03" cy="66.89" r="0.9" fill="#c4102e"/>
<line x1="336.7" y1="94.5" x2="355.7" y2="94.5" stroke="#3a4038" stroke-width="1.1"/>
<circle cx="348.02" cy="96.08" r="0.9" fill="#c4102e"/>
<circle cx="346.25" cy="80.21" r="0.9" fill="#c4102e"/>
<circle cx="342.53" cy="98.62" r="0.9" fill="#c4102e"/>
<circle cx="343.88" cy="96.5" r="0.9" fill="#c4102e"/>
<circle cx="352.71" cy="91.94" r="0.9" fill="#c4102e"/>
<circle cx="350.7" cy="106.9" r="0.9" fill="#c4102e"/>
<circle cx="340.35" cy="86.26" r="0.9" fill="#c4102e"/>
<circle cx="352.56" cy="86.99" r="0.9" fill="#c4102e"/>
<circle cx="342.46" cy="81.22" r="0.9" fill="#c4102e"/>
<circle cx="346.67" cy="96.36" r="0.9" fill="#c4102e"/>
<circle cx="348.8" cy="98.24" r="0.9" fill="#c4102e"/>
<circle cx="348.33" cy="94" r="0.9" fill="#c4102e"/>
<circle cx="347.14" cy="67.5" r="0.9" fill="#c4102e"/>
<circle cx="348.37" cy="109.97" r="0.9" fill="#c4102e"/>
<circle cx="345.92" cy="78.01" r="0.9" fill="#c4102e"/>
<circle cx="346.49" cy="114.61" r="0.9" fill="#c4102e"/>
<circle cx="343.81" cy="91.69" r="0.9" fill="#c4102e"/>
<circle cx="349.55" cy="87.63" r="0.9" fill="#c4102e"/>
<circle cx="352.07" cy="101.97" r="0.9" fill="#c4102e"/>
<circle cx="347.44" cy="119.5" r="0.9" fill="#c4102e"/>
<circle cx="345.72" cy="116.53" r="0.9" fill="#c4102e"/>
<circle cx="349.76" cy="100.55" r="0.9" fill="#c4102e"/>
<circle cx="342.66" cy="76.34" r="0.9" fill="#c4102e"/>
<circle cx="353.86" cy="93.82" r="0.9" fill="#c4102e"/>
<circle cx="353.17" cy="95.8" r="0.9" fill="#c4102e"/>
<circle cx="353.47" cy="102.49" r="0.9" fill="#c4102e"/>
<circle cx="350.53" cy="86" r="0.9" fill="#c4102e"/>
<circle cx="344.71" cy="118.92" r="0.9" fill="#c4102e"/>
<circle cx="353.66" cy="100.08" r="0.9" fill="#c4102e"/>
<circle cx="346.39" cy="75.77" r="0.9" fill="#c4102e"/>
<circle cx="349.32" cy="79.3" r="0.9" fill="#c4102e"/>
<circle cx="349.59" cy="96.96" r="0.9" fill="#c4102e"/>
<circle cx="347.47" cy="116.82" r="0.9" fill="#c4102e"/>
<circle cx="342.12" cy="110.56" r="0.9" fill="#c4102e"/>
<circle cx="344.99" cy="68.56" r="0.9" fill="#c4102e"/>
<circle cx="351.79" cy="110.99" r="0.9" fill="#c4102e"/>
<circle cx="341.27" cy="90.94" r="0.9" fill="#c4102e"/>
<circle cx="343.14" cy="102.31" r="0.9" fill="#c4102e"/>
<circle cx="345.12" cy="104.2" r="0.9" fill="#c4102e"/>
<circle cx="347.87" cy="100.12" r="0.9" fill="#c4102e"/>
<circle cx="352.92" cy="88.99" r="0.9" fill="#c4102e"/>
<circle cx="347.29" cy="97.32" r="0.9" fill="#c4102e"/>
<circle cx="343.42" cy="111.61" r="0.9" fill="#c4102e"/>
<circle cx="340.19" cy="91.19" r="0.9" fill="#c4102e"/>
<circle cx="345.37" cy="107.35" r="0.9" fill="#c4102e"/>
<circle cx="339.01" cy="92.24" r="0.9" fill="#c4102e"/>
<circle cx="339.43" cy="87.69" r="0.9" fill="#c4102e"/>
<circle cx="341.15" cy="112.46" r="0.9" fill="#c4102e"/>
<circle cx="343.62" cy="77.59" r="0.9" fill="#c4102e"/>
<circle cx="348.48" cy="82.94" r="0.9" fill="#c4102e"/>
<circle cx="352.31" cy="99.25" r="0.9" fill="#c4102e"/>
<circle cx="345.46" cy="61.93" r="0.9" fill="#c4102e"/>
<circle cx="349.77" cy="103.01" r="0.9" fill="#c4102e"/>
<circle cx="347" cy="102.72" r="0.9" fill="#c4102e"/>
<circle cx="347.06" cy="89.95" r="0.9" fill="#c4102e"/>
<circle cx="344.77" cy="81.75" r="0.9" fill="#c4102e"/>
<circle cx="346.17" cy="105.75" r="0.9" fill="#c4102e"/>
<circle cx="346.01" cy="88.79" r="0.9" fill="#c4102e"/>
<circle cx="350.95" cy="103.9" r="0.9" fill="#c4102e"/>
<circle cx="352.39" cy="88.32" r="0.9" fill="#c4102e"/>
<circle cx="343.43" cy="74.97" r="0.9" fill="#c4102e"/>
<circle cx="340.05" cy="88.69" r="0.9" fill="#c4102e"/>
<circle cx="347.14" cy="84.88" r="0.9" fill="#c4102e"/>
<circle cx="343.65" cy="94.31" r="0.9" fill="#c4102e"/>
<circle cx="352.47" cy="94" r="0.9" fill="#c4102e"/>
<circle cx="346.12" cy="73.79" r="0.9" fill="#c4102e"/>
<circle cx="344.15" cy="88.87" r="0.9" fill="#c4102e"/>
<circle cx="341.71" cy="106.23" r="0.9" fill="#c4102e"/>
<circle cx="344.14" cy="111.82" r="0.9" fill="#c4102e"/>
<circle cx="346.42" cy="120.92" r="0.9" fill="#c4102e"/>
<circle cx="340.38" cy="94.74" r="0.9" fill="#c4102e"/>
<circle cx="343.34" cy="107.59" r="0.9" fill="#c4102e"/>
<circle cx="343.5" cy="80.24" r="0.9" fill="#c4102e"/>
<circle cx="351.77" cy="86.01" r="0.9" fill="#c4102e"/>
<circle cx="344.12" cy="86.02" r="0.9" fill="#c4102e"/>
<circle cx="350.73" cy="98.12" r="0.9" fill="#c4102e"/>
<circle cx="339.18" cy="95.15" r="0.9" fill="#c4102e"/>
<circle cx="346.8" cy="92.24" r="0.9" fill="#c4102e"/>
<circle cx="342.36" cy="92.42" r="0.9" fill="#c4102e"/>
<circle cx="341.38" cy="88.63" r="0.9" fill="#c4102e"/>
<circle cx="345.37" cy="121.39" r="0.9" fill="#c4102e"/>
<circle cx="346.8" cy="107.14" r="0.9" fill="#c4102e"/>
<circle cx="350.56" cy="90.53" r="0.9" fill="#c4102e"/>
<circle cx="341.06" cy="104.36" r="0.9" fill="#c4102e"/>
<circle cx="346.07" cy="85.35" r="0.9" fill="#c4102e"/>
<circle cx="346.86" cy="95.11" r="0.9" fill="#c4102e"/>
<circle cx="345.96" cy="58.42" r="0.9" fill="#c4102e"/>
<circle cx="348.71" cy="91.2" r="0.9" fill="#c4102e"/>
<circle cx="338.73" cy="99.4" r="0.9" fill="#c4102e"/>
<circle cx="347.67" cy="74.22" r="0.9" fill="#c4102e"/>
<circle cx="340.18" cy="102.52" r="0.9" fill="#c4102e"/>
<circle cx="347.91" cy="87.99" r="0.9" fill="#c4102e"/>
<circle cx="346.74" cy="98.88" r="0.9" fill="#c4102e"/>
<circle cx="346.83" cy="60.21" r="0.9" fill="#c4102e"/>
<circle cx="344.56" cy="89.65" r="0.9" fill="#c4102e"/>
<circle cx="346.78" cy="86.5" r="0.9" fill="#c4102e"/>
<circle cx="343.07" cy="85.17" r="0.9" fill="#c4102e"/>
<circle cx="350.22" cy="104.8" r="0.9" fill="#c4102e"/>
<circle cx="352.1" cy="96.2" r="0.9" fill="#c4102e"/>
<circle cx="344.88" cy="116.3" r="0.9" fill="#c4102e"/>
<circle cx="338.89" cy="103.91" r="0.9" fill="#c4102e"/>
<circle cx="337.84" cy="100.84" r="0.9" fill="#c4102e"/>
<circle cx="346.57" cy="111.57" r="0.9" fill="#c4102e"/>
<circle cx="340.35" cy="93.31" r="0.9" fill="#c4102e"/>
<circle cx="348.83" cy="105.18" r="0.9" fill="#c4102e"/>
<circle cx="346.28" cy="64.24" r="0.9" fill="#c4102e"/>
<circle cx="351.96" cy="90.92" r="0.9" fill="#c4102e"/>
<circle cx="350.16" cy="81.75" r="0.9" fill="#c4102e"/>
<circle cx="349.21" cy="111.91" r="0.9" fill="#c4102e"/>
<circle cx="344.86" cy="93.24" r="0.9" fill="#c4102e"/>
<circle cx="342.24" cy="108.01" r="0.9" fill="#c4102e"/>
<circle cx="348.67" cy="108.54" r="0.9" fill="#c4102e"/>
<circle cx="347.43" cy="77.36" r="0.9" fill="#c4102e"/>
<circle cx="347.86" cy="101.98" r="0.9" fill="#c4102e"/>
<circle cx="344.71" cy="74.19" r="0.9" fill="#c4102e"/>
<circle cx="340.96" cy="99.15" r="0.9" fill="#c4102e"/>
<circle cx="346.1" cy="55.99" r="0.9" fill="#c4102e"/>
<circle cx="342.37" cy="94.26" r="0.9" fill="#c4102e"/>
<circle cx="343.43" cy="82.52" r="0.9" fill="#c4102e"/>
<circle cx="345.15" cy="76.76" r="0.9" fill="#c4102e"/>
<circle cx="345.98" cy="70.13" r="0.9" fill="#c4102e"/>
<circle cx="348.25" cy="115.13" r="0.9" fill="#c4102e"/>
<circle cx="349.49" cy="109.63" r="0.9" fill="#c4102e"/>
<circle cx="344.98" cy="99.58" r="0.9" fill="#c4102e"/>
<circle cx="349" cy="75.43" r="0.9" fill="#c4102e"/>
<circle cx="349.33" cy="77.69" r="0.9" fill="#c4102e"/>
<circle cx="338.71" cy="89.35" r="0.9" fill="#c4102e"/>
<circle cx="342.74" cy="90.64" r="0.9" fill="#c4102e"/>
<circle cx="343.42" cy="115.26" r="0.9" fill="#c4102e"/>
<circle cx="349.01" cy="94.64" r="0.9" fill="#c4102e"/>
<circle cx="344.79" cy="102.08" r="0.9" fill="#c4102e"/>
<circle cx="350.36" cy="101.2" r="0.9" fill="#c4102e"/>
<circle cx="340.28" cy="97.69" r="0.9" fill="#c4102e"/>
<circle cx="350.74" cy="93.05" r="0.9" fill="#c4102e"/>
<circle cx="349.73" cy="107.55" r="0.9" fill="#c4102e"/>
<circle cx="350.92" cy="95.23" r="0.9" fill="#c4102e"/>
<circle cx="346.45" cy="94.08" r="0.9" fill="#c4102e"/>
<circle cx="349.89" cy="92.74" r="0.9" fill="#c4102e"/>
<circle cx="348.04" cy="81.05" r="0.9" fill="#c4102e"/>
<circle cx="348.54" cy="89.23" r="0.9" fill="#c4102e"/>
<circle cx="342.3" cy="105.75" r="0.9" fill="#c4102e"/>
<circle cx="343.49" cy="104.41" r="0.9" fill="#c4102e"/>
<circle cx="346.91" cy="72.19" r="0.9" fill="#c4102e"/>
<circle cx="345.42" cy="91.05" r="0.9" fill="#c4102e"/>
<circle cx="342.84" cy="109.55" r="0.9" fill="#c4102e"/>
<circle cx="346.6" cy="109.37" r="0.9" fill="#c4102e"/>
<circle cx="346.17" cy="82.95" r="0.9" fill="#c4102e"/>
<circle cx="348.62" cy="117.22" r="0.9" fill="#c4102e"/>
<circle cx="343.5" cy="97.96" r="0.9" fill="#c4102e"/>
<circle cx="350.54" cy="75.92" r="0.9" fill="#c4102e"/>
<circle cx="344.33" cy="108.65" r="0.9" fill="#c4102e"/>
<circle cx="345.2" cy="113.35" r="0.9" fill="#c4102e"/>
<circle cx="346.37" cy="100.65" r="0.9" fill="#c4102e"/>
<circle cx="342.91" cy="101" r="0.9" fill="#c4102e"/>
<circle cx="347.47" cy="65.61" r="0.9" fill="#c4102e"/>
<circle cx="350.5" cy="98.73" r="0.9" fill="#c4102e"/>
<circle cx="345.1" cy="79.31" r="0.9" fill="#c4102e"/>
<circle cx="345.31" cy="87.38" r="0.9" fill="#c4102e"/>
<circle cx="341.54" cy="101.25" r="0.9" fill="#c4102e"/>
<circle cx="344.5" cy="71.84" r="0.9" fill="#c4102e"/>
<circle cx="344.65" cy="67.01" r="0.9" fill="#c4102e"/>
<circle cx="342.39" cy="96.93" r="0.9" fill="#c4102e"/>
<circle cx="341.88" cy="86.32" r="0.9" fill="#c4102e"/>
<circle cx="345.74" cy="66.04" r="0.9" fill="#c4102e"/>
<circle cx="347.34" cy="79.67" r="0.9" fill="#c4102e"/>
<circle cx="344.57" cy="83.69" r="0.9" fill="#c4102e"/>
<circle cx="341.36" cy="92.46" r="0.9" fill="#c4102e"/>
<circle cx="344.71" cy="97.36" r="0.9" fill="#c4102e"/>
<circle cx="353.31" cy="98.33" r="0.9" fill="#c4102e"/>
<circle cx="348.03" cy="69.03" r="0.9" fill="#c4102e"/>
<circle cx="343.47" cy="100.71" r="0.9" fill="#c4102e"/>
<circle cx="347.78" cy="104.64" r="0.9" fill="#c4102e"/>
<circle cx="347.98" cy="112.45" r="0.9" fill="#c4102e"/>
<circle cx="348.88" cy="84.06" r="0.9" fill="#c4102e"/>
<circle cx="345.08" cy="110.12" r="0.9" fill="#c4102e"/>
<circle cx="350.35" cy="112.96" r="0.9" fill="#c4102e"/>
<circle cx="342.26" cy="78.49" r="0.9" fill="#c4102e"/>
<circle cx="343.97" cy="113.93" r="0.9" fill="#c4102e"/>
<circle cx="348.08" cy="72.95" r="0.9" fill="#c4102e"/>
<circle cx="350.22" cy="88.32" r="0.9" fill="#c4102e"/>
<circle cx="350.7" cy="108.53" r="0.9" fill="#c4102e"/>
<circle cx="346.5" cy="118.29" r="0.9" fill="#c4102e"/>
<circle cx="341.04" cy="97.44" r="0.9" fill="#c4102e"/>
<circle cx="342.77" cy="87.48" r="0.9" fill="#c4102e"/>
<circle cx="347.6" cy="122.33" r="0.9" fill="#c4102e"/>
<circle cx="347.06" cy="81.27" r="0.9" fill="#c4102e"/>
<circle cx="345.1" cy="95.19" r="0.9" fill="#c4102e"/>
<circle cx="347.97" cy="85.83" r="0.9" fill="#c4102e"/>
<circle cx="342.03" cy="103.7" r="0.9" fill="#c4102e"/>
<circle cx="345.19" cy="106.51" r="0.9" fill="#c4102e"/>
<line x1="363.3" y1="102.5" x2="382.3" y2="102.5" stroke="#3a4038" stroke-width="1.1"/>
<circle cx="375.81" cy="116.54" r="0.9" fill="#c4102e"/>
<circle cx="372.49" cy="110.94" r="0.9" fill="#c4102e"/>
<circle cx="372.93" cy="73.9" r="0.9" fill="#c4102e"/>
<circle cx="374.64" cy="102.01" r="0.9" fill="#c4102e"/>
<circle cx="374.06" cy="78.69" r="0.9" fill="#c4102e"/>
<circle cx="372.1" cy="103.32" r="0.9" fill="#c4102e"/>
<circle cx="369.73" cy="107.93" r="0.9" fill="#c4102e"/>
<circle cx="374.87" cy="106.36" r="0.9" fill="#c4102e"/>
<circle cx="376.45" cy="89.07" r="0.9" fill="#c4102e"/>
<circle cx="372.64" cy="96.39" r="0.9" fill="#c4102e"/>
<circle cx="377.79" cy="117.36" r="0.9" fill="#c4102e"/>
<circle cx="376.76" cy="98.23" r="0.9" fill="#c4102e"/>
<circle cx="379.89" cy="110.71" r="0.9" fill="#c4102e"/>
<circle cx="372.04" cy="89.5" r="0.9" fill="#c4102e"/>
<circle cx="366.11" cy="105.17" r="0.9" fill="#c4102e"/>
<circle cx="367.19" cy="111.54" r="0.9" fill="#c4102e"/>
<circle cx="379.42" cy="112.32" r="0.9" fill="#c4102e"/>
<circle cx="377.83" cy="111.15" r="0.9" fill="#c4102e"/>
<circle cx="371.67" cy="114.31" r="0.9" fill="#c4102e"/>
<circle cx="370.23" cy="98.45" r="0.9" fill="#c4102e"/>
<circle cx="365.97" cy="116.49" r="0.9" fill="#c4102e"/>
<circle cx="367.85" cy="92.26" r="0.9" fill="#c4102e"/>
<circle cx="373.14" cy="109.41" r="0.9" fill="#c4102e"/>
<circle cx="368.37" cy="116.03" r="0.9" fill="#c4102e"/>
<circle cx="376.14" cy="119.01" r="0.9" fill="#c4102e"/>
<circle cx="373.73" cy="115.44" r="0.9" fill="#c4102e"/>
<circle cx="370" cy="109.51" r="0.9" fill="#c4102e"/>
<circle cx="373.94" cy="75.32" r="0.9" fill="#c4102e"/>
<circle cx="377.04" cy="113" r="0.9" fill="#c4102e"/>
<circle cx="371.34" cy="88.29" r="0.9" fill="#c4102e"/>
<circle cx="368.25" cy="98.81" r="0.9" fill="#c4102e"/>
<circle cx="374.59" cy="95.43" r="0.9" fill="#c4102e"/>
<circle cx="379.47" cy="103.47" r="0.9" fill="#c4102e"/>
<circle cx="380.41" cy="93.93" r="0.9" fill="#c4102e"/>
<circle cx="371.48" cy="59.52" r="0.9" fill="#c4102e"/>
<circle cx="374.24" cy="111.51" r="0.9" fill="#c4102e"/>
<circle cx="376.28" cy="110.8" r="0.9" fill="#c4102e"/>
<circle cx="377.66" cy="92.27" r="0.9" fill="#c4102e"/>
<circle cx="369.37" cy="112.62" r="0.9" fill="#c4102e"/>
<circle cx="378.74" cy="101.28" r="0.9" fill="#c4102e"/>
<circle cx="371.57" cy="102.28" r="0.9" fill="#c4102e"/>
<circle cx="378.92" cy="113.98" r="0.9" fill="#c4102e"/>
<circle cx="370.9" cy="107.73" r="0.9" fill="#c4102e"/>
<circle cx="365.61" cy="107.91" r="0.9" fill="#c4102e"/>
<circle cx="369.15" cy="96.62" r="0.9" fill="#c4102e"/>
<circle cx="377.97" cy="97.15" r="0.9" fill="#c4102e"/>
<circle cx="379.14" cy="106.61" r="0.9" fill="#c4102e"/>
<circle cx="380.17" cy="98.67" r="0.9" fill="#c4102e"/>
<circle cx="368.06" cy="106.32" r="0.9" fill="#c4102e"/>
<circle cx="375.62" cy="87.13" r="0.9" fill="#c4102e"/>
<circle cx="374.01" cy="97.26" r="0.9" fill="#c4102e"/>
<circle cx="375.29" cy="108.26" r="0.9" fill="#c4102e"/>
<circle cx="377.39" cy="107.05" r="0.9" fill="#c4102e"/>
<circle cx="368.31" cy="96.77" r="0.9" fill="#c4102e"/>
<circle cx="367.01" cy="100.11" r="0.9" fill="#c4102e"/>
<circle cx="372.7" cy="57.62" r="0.9" fill="#c4102e"/>
<circle cx="373.16" cy="67.25" r="0.9" fill="#c4102e"/>
<circle cx="375.26" cy="97.62" r="0.9" fill="#c4102e"/>
<circle cx="371.55" cy="98.29" r="0.9" fill="#c4102e"/>
<circle cx="367.36" cy="94.98" r="0.9" fill="#c4102e"/>
<circle cx="365.69" cy="111.14" r="0.9" fill="#c4102e"/>
<circle cx="378.93" cy="92.7" r="0.9" fill="#c4102e"/>
<circle cx="376.66" cy="104.66" r="0.9" fill="#c4102e"/>
<circle cx="364.75" cy="101.3" r="0.9" fill="#c4102e"/>
<circle cx="366.08" cy="95.16" r="0.9" fill="#c4102e"/>
<circle cx="365.08" cy="94.12" r="0.9" fill="#c4102e"/>
<circle cx="372.26" cy="105.74" r="0.9" fill="#c4102e"/>
<circle cx="377.86" cy="99.58" r="0.9" fill="#c4102e"/>
<circle cx="375.51" cy="103.58" r="0.9" fill="#c4102e"/>
<circle cx="364.74" cy="108.14" r="0.9" fill="#c4102e"/>
<circle cx="377.35" cy="108.79" r="0.9" fill="#c4102e"/>
<circle cx="366.68" cy="114.48" r="0.9" fill="#c4102e"/>
<circle cx="376.33" cy="106.3" r="0.9" fill="#c4102e"/>
<circle cx="374.7" cy="109.86" r="0.9" fill="#c4102e"/>
<circle cx="372.53" cy="87.49" r="0.9" fill="#c4102e"/>
<circle cx="376.1" cy="102.38" r="0.9" fill="#c4102e"/>
<circle cx="370.29" cy="102.34" r="0.9" fill="#c4102e"/>
<circle cx="371.98" cy="94.14" r="0.9" fill="#c4102e"/>
<circle cx="372.78" cy="77.16" r="0.9" fill="#c4102e"/>
<circle cx="374.55" cy="93.38" r="0.9" fill="#c4102e"/>
<circle cx="378.21" cy="104.49" r="0.9" fill="#c4102e"/>
<circle cx="370.69" cy="90.54" r="0.9" fill="#c4102e"/>
<circle cx="373.51" cy="86.35" r="0.9" fill="#c4102e"/>
<circle cx="366.64" cy="109.74" r="0.9" fill="#c4102e"/>
<circle cx="367.51" cy="107.38" r="0.9" fill="#c4102e"/>
<circle cx="366" cy="112.64" r="0.9" fill="#c4102e"/>
<circle cx="375.42" cy="112.57" r="0.9" fill="#c4102e"/>
<circle cx="369.85" cy="91.81" r="0.9" fill="#c4102e"/>
<circle cx="374.59" cy="115.57" r="0.9" fill="#c4102e"/>
<circle cx="367.99" cy="109.33" r="0.9" fill="#c4102e"/>
<circle cx="376.59" cy="92.31" r="0.9" fill="#c4102e"/>
<circle cx="374.74" cy="118.21" r="0.9" fill="#c4102e"/>
<circle cx="378.73" cy="110.08" r="0.9" fill="#c4102e"/>
<circle cx="377.17" cy="115.09" r="0.9" fill="#c4102e"/>
<circle cx="365.98" cy="103.58" r="0.9" fill="#c4102e"/>
<circle cx="371.09" cy="95.99" r="0.9" fill="#c4102e"/>
<circle cx="376.58" cy="96.59" r="0.9" fill="#c4102e"/>
<circle cx="370.56" cy="116.73" r="0.9" fill="#c4102e"/>
<circle cx="380.61" cy="104.31" r="0.9" fill="#c4102e"/>
<circle cx="366.55" cy="97.98" r="0.9" fill="#c4102e"/>
<circle cx="369.6" cy="100.38" r="0.9" fill="#c4102e"/>
<circle cx="370.12" cy="105.99" r="0.9" fill="#c4102e"/>
<circle cx="374.33" cy="91.25" r="0.9" fill="#c4102e"/>
<circle cx="370.95" cy="100.35" r="0.9" fill="#c4102e"/>
<circle cx="372.33" cy="52.51" r="0.9" fill="#c4102e"/>
<circle cx="372.4" cy="101.31" r="0.9" fill="#c4102e"/>
<circle cx="375.85" cy="93.99" r="0.9" fill="#c4102e"/>
<circle cx="375.22" cy="114.8" r="0.9" fill="#c4102e"/>
<circle cx="369.42" cy="117.94" r="0.9" fill="#c4102e"/>
<circle cx="371.59" cy="82.44" r="0.9" fill="#c4102e"/>
<circle cx="373.74" cy="99.71" r="0.9" fill="#c4102e"/>
<circle cx="370.42" cy="115.08" r="0.9" fill="#c4102e"/>
<circle cx="373.57" cy="117.36" r="0.9" fill="#c4102e"/>
<circle cx="367.58" cy="113.83" r="0.9" fill="#c4102e"/>
<circle cx="373.63" cy="102.94" r="0.9" fill="#c4102e"/>
<circle cx="368.12" cy="102.02" r="0.9" fill="#c4102e"/>
<circle cx="376.68" cy="100.99" r="0.9" fill="#c4102e"/>
<circle cx="373.71" cy="95.04" r="0.9" fill="#c4102e"/>
<circle cx="377.59" cy="102.38" r="0.9" fill="#c4102e"/>
<circle cx="371.32" cy="91.8" r="0.9" fill="#c4102e"/>
<circle cx="366.88" cy="93.24" r="0.9" fill="#c4102e"/>
<circle cx="370.2" cy="93.75" r="0.9" fill="#c4102e"/>
<circle cx="380.61" cy="101.23" r="0.9" fill="#c4102e"/>
<circle cx="367.3" cy="103.06" r="0.9" fill="#c4102e"/>
<circle cx="374.16" cy="108.22" r="0.9" fill="#c4102e"/>
<circle cx="372.6" cy="64.81" r="0.9" fill="#c4102e"/>
<circle cx="372.34" cy="84.45" r="0.9" fill="#c4102e"/>
<circle cx="372.15" cy="109.18" r="0.9" fill="#c4102e"/>
<circle cx="372.43" cy="113.37" r="0.9" fill="#c4102e"/>
<circle cx="373.04" cy="80.91" r="0.9" fill="#c4102e"/>
<circle cx="375.54" cy="99.9" r="0.9" fill="#c4102e"/>
<circle cx="380.19" cy="108.34" r="0.9" fill="#c4102e"/>
<circle cx="370.97" cy="104.26" r="0.9" fill="#c4102e"/>
<circle cx="374.67" cy="114.13" r="0.9" fill="#c4102e"/>
<circle cx="378.66" cy="97.97" r="0.9" fill="#c4102e"/>
<circle cx="372.04" cy="116.49" r="0.9" fill="#c4102e"/>
<circle cx="376.58" cy="94.96" r="0.9" fill="#c4102e"/>
<circle cx="379.7" cy="105.58" r="0.9" fill="#c4102e"/>
<circle cx="371.72" cy="86.23" r="0.9" fill="#c4102e"/>
<circle cx="373.16" cy="104.9" r="0.9" fill="#c4102e"/>
<circle cx="378.28" cy="116.37" r="0.9" fill="#c4102e"/>
<circle cx="372.04" cy="118.67" r="0.9" fill="#c4102e"/>
<circle cx="380.23" cy="96.24" r="0.9" fill="#c4102e"/>
<circle cx="372.49" cy="71.29" r="0.9" fill="#c4102e"/>
<circle cx="371.36" cy="111.97" r="0.9" fill="#c4102e"/>
<circle cx="378.46" cy="94.72" r="0.9" fill="#c4102e"/>
<circle cx="380.71" cy="112.45" r="0.9" fill="#c4102e"/>
<circle cx="365.46" cy="100.04" r="0.9" fill="#c4102e"/>
<circle cx="373.03" cy="93.29" r="0.9" fill="#c4102e"/>
<circle cx="368.66" cy="110.8" r="0.9" fill="#c4102e"/>
<circle cx="367.58" cy="104.59" r="0.9" fill="#c4102e"/>
<circle cx="372.62" cy="107.33" r="0.9" fill="#c4102e"/>
<circle cx="372.64" cy="98.85" r="0.9" fill="#c4102e"/>
<circle cx="377.99" cy="112.95" r="0.9" fill="#c4102e"/>
<circle cx="369.24" cy="104.33" r="0.9" fill="#c4102e"/>
<circle cx="373.63" cy="91.43" r="0.9" fill="#c4102e"/>
<circle cx="364.97" cy="105.02" r="0.9" fill="#c4102e"/>
<circle cx="374.61" cy="88.8" r="0.9" fill="#c4102e"/>
<circle cx="369.33" cy="94.17" r="0.9" fill="#c4102e"/>
<circle cx="365.09" cy="96.94" r="0.9" fill="#c4102e"/>
<text x="12" y="185.43" font-size="11.6" font-weight="bold" fill="#111" text-anchor="middle">B</text>
<line x1="42.5" y1="205.7" x2="42.5" y2="323.4" stroke="#2b2b2b" stroke-width="1"/>
<line x1="39.4" y1="322.5" x2="42.4" y2="322.5" stroke="#2b2b2b" stroke-width="1"/>
<text x="36" y="325.22" font-size="7" fill="#2a2a2a" text-anchor="end">0</text>
<line x1="39.4" y1="299.5" x2="42.4" y2="299.5" stroke="#2b2b2b" stroke-width="1"/>
<text x="36" y="302.36" font-size="7" fill="#2a2a2a" text-anchor="end">20</text>
<line x1="39.4" y1="276.5" x2="42.4" y2="276.5" stroke="#2b2b2b" stroke-width="1"/>
<text x="36" y="279.5" font-size="7" fill="#2a2a2a" text-anchor="end">40</text>
<line x1="39.4" y1="254.5" x2="42.4" y2="254.5" stroke="#2b2b2b" stroke-width="1"/>
<text x="36" y="256.64" font-size="7" fill="#2a2a2a" text-anchor="end">60</text>
<line x1="39.4" y1="231.5" x2="42.4" y2="231.5" stroke="#2b2b2b" stroke-width="1"/>
<text x="36" y="233.78" font-size="7" fill="#2a2a2a" text-anchor="end">80</text>
<line x1="39.4" y1="208.5" x2="42.4" y2="208.5" stroke="#2b2b2b" stroke-width="1"/>
<text x="36" y="210.92" font-size="7" fill="#2a2a2a" text-anchor="end">100</text>
<line x1="41.9" y1="322.5" x2="216.5" y2="322.5" stroke="#2b2b2b" stroke-width="1"/>
<line x1="73.5" y1="322.9" x2="73.5" y2="325.9" stroke="#2b2b2b" stroke-width="1"/>
<line x1="128.5" y1="322.9" x2="128.5" y2="325.9" stroke="#2b2b2b" stroke-width="1"/>
<line x1="183.5" y1="322.9" x2="183.5" y2="325.9" stroke="#2b2b2b" stroke-width="1"/>
<text x="32" y="335.45" font-size="6.8" font-weight="normal" fill="#2a2a2a" textLength="20.3" lengthAdjust="spacingAndGlyphs">HLA-C</text>
<text x="62.7" y="335.45" font-size="6.8" font-weight="normal" fill="#2a2a2a" textLength="19.6" lengthAdjust="spacingAndGlyphs">C1/C1</text>
<text x="118" y="335.45" font-size="6.8" font-weight="normal" fill="#2a2a2a" textLength="19.7" lengthAdjust="spacingAndGlyphs">C1/C2</text>
<text x="173.4" y="335.45" font-size="6.8" font-weight="normal" fill="#2a2a2a" textLength="19.4" lengthAdjust="spacingAndGlyphs">C2/C2</text>
<text class="v" transform="translate(18.11,264.15) rotate(-90)" x="0" y="0" font-size="7.8" fill="#2a2a2a" text-anchor="middle" textLength="85.5" lengthAdjust="spacingAndGlyphs">Frequency of NKG2A<tspan font-size="4.5" dy="-2.2">+</tspan><tspan dy="2.2"> NK cells</tspan></text>
<line x1="85.7" y1="182.5" x2="199.2" y2="182.5" stroke="#3a3a3a" stroke-width="1"/>
<text x="142.45" y="183.06" font-size="7" fill="#2a2a2a" text-anchor="middle">*</text>
<line x1="60" y1="194.5" x2="173" y2="194.5" stroke="#3a3a3a" stroke-width="1"/>
<text x="116.2" y="194.26" font-size="7" fill="#2a2a2a" text-anchor="middle">*</text>
<line x1="114.3" y1="205.5" x2="173" y2="205.5" stroke="#3a3a3a" stroke-width="1"/>
<text x="143.4" y="205.86" font-size="7" fill="#2a2a2a" text-anchor="middle">*</text>
<line x1="117.7" y1="216.5" x2="141.2" y2="216.5" stroke="#3a3a3a" stroke-width="1"/>
<text x="129.5" y="216.76" font-size="7" fill="#2a2a2a" text-anchor="middle">*</text>
<line x1="173" y1="212.5" x2="196.5" y2="212.5" stroke="#3a3a3a" stroke-width="1"/>
<text x="184.6" y="212.96" font-size="7" fill="#2a2a2a" text-anchor="middle">*</text>
<line x1="63.1" y1="221.5" x2="86.5" y2="221.5" stroke="#3a3a3a" stroke-width="1"/>
<text x="74.3" y="221.76" font-size="7" fill="#2a2a2a" text-anchor="middle">*</text>
<circle cx="222.8" cy="199.8" r="0.9" fill="#3a88c4"/>
<circle cx="222.8" cy="210.6" r="0.9" fill="#3b8e3b"/>
<text x="227.1" y="202.54" font-size="7.6" font-weight="normal" fill="#2a2a2a" textLength="23.7" lengthAdjust="spacingAndGlyphs">HCMV&#8722;</text>
<text x="227.1" y="213.34" font-size="7.6" font-weight="normal" fill="#2a2a2a" textLength="23.7" lengthAdjust="spacingAndGlyphs">HCMV+</text>
<rect x="63.7" y="263.93" width="1.6" height="1.6" fill="#3a88c4"/>
<rect x="59.8" y="272.86" width="1.6" height="1.6" fill="#3a88c4"/>
<rect x="55.9" y="262.06" width="1.6" height="1.6" fill="#3a88c4"/>
<rect x="59.8" y="248.17" width="1.6" height="1.6" fill="#3a88c4"/>
<rect x="63.7" y="258.03" width="1.6" height="1.6" fill="#3a88c4"/>
<rect x="55.9" y="264.78" width="1.6" height="1.6" fill="#3a88c4"/>
<rect x="55.9" y="257.81" width="1.6" height="1.6" fill="#3a88c4"/>
<rect x="63.7" y="266.6" width="1.6" height="1.6" fill="#3a88c4"/>
<rect x="59.8" y="266.18" width="1.6" height="1.6" fill="#3a88c4"/>
<rect x="59.8" y="252.47" width="1.6" height="1.6" fill="#3a88c4"/>
<rect x="59.8" y="301.55" width="1.6" height="1.6" fill="#3a88c4"/>
<rect x="59.8" y="243.82" width="1.6" height="1.6" fill="#3a88c4"/>
<rect x="59.8" y="259.83" width="1.6" height="1.6" fill="#3a88c4"/>
<rect x="63.7" y="274.17" width="1.6" height="1.6" fill="#3a88c4"/>
<rect x="59.8" y="280.72" width="1.6" height="1.6" fill="#3a88c4"/>
<rect x="59.8" y="263.45" width="1.6" height="1.6" fill="#3a88c4"/>
<rect x="59.8" y="270.36" width="1.6" height="1.6" fill="#3a88c4"/>
<rect x="55.9" y="250.65" width="1.6" height="1.6" fill="#3a88c4"/>
<rect x="59.8" y="292.23" width="1.6" height="1.6" fill="#3a88c4"/>
<rect x="59.8" y="256.71" width="1.6" height="1.6" fill="#3a88c4"/>
<rect x="55.9" y="253.62" width="1.6" height="1.6" fill="#3a88c4"/>
<rect x="63.7" y="260.98" width="1.6" height="1.6" fill="#3a88c4"/>
<rect x="59.8" y="235.95" width="1.6" height="1.6" fill="#3a88c4"/>
<rect x="55.9" y="267.94" width="1.6" height="1.6" fill="#3a88c4"/>
<line x1="60.5" y1="259.83" x2="60.5" y2="266.69" stroke="#3a88c4" stroke-width="0.8"/>
<line x1="56.1" y1="259.5" x2="65.1" y2="259.5" stroke="#3a88c4" stroke-width="0.8"/>
<line x1="56.1" y1="266.5" x2="65.1" y2="266.5" stroke="#3a88c4" stroke-width="0.8"/>
<line x1="51.35" y1="263.5" x2="69.85" y2="263.5" stroke="#222" stroke-width="1.1"/>
<rect x="83.6" y="283.47" width="1.6" height="1.6" fill="#3b8e3b"/>
<rect x="87.5" y="267.48" width="1.6" height="1.6" fill="#3b8e3b"/>
<rect x="87.5" y="294.66" width="1.6" height="1.6" fill="#3b8e3b"/>
<rect x="91.4" y="242.94" width="1.6" height="1.6" fill="#3b8e3b"/>
<rect x="91.4" y="262.81" width="1.6" height="1.6" fill="#3b8e3b"/>
<rect x="95.3" y="281.35" width="1.6" height="1.6" fill="#3b8e3b"/>
<rect x="87.5" y="254.91" width="1.6" height="1.6" fill="#3b8e3b"/>
<rect x="95.3" y="274.47" width="1.6" height="1.6" fill="#3b8e3b"/>
<rect x="91.4" y="299.56" width="1.6" height="1.6" fill="#3b8e3b"/>
<rect x="87.5" y="270.24" width="1.6" height="1.6" fill="#3b8e3b"/>
<rect x="79.7" y="280.23" width="1.6" height="1.6" fill="#3b8e3b"/>
<rect x="83.6" y="259.59" width="1.6" height="1.6" fill="#3b8e3b"/>
<rect x="83.6" y="272.04" width="1.6" height="1.6" fill="#3b8e3b"/>
<rect x="87.5" y="288.16" width="1.6" height="1.6" fill="#3b8e3b"/>
<rect x="87.5" y="242.05" width="1.6" height="1.6" fill="#3b8e3b"/>
<rect x="87.5" y="257.89" width="1.6" height="1.6" fill="#3b8e3b"/>
<rect x="87.5" y="264.74" width="1.6" height="1.6" fill="#3b8e3b"/>
<rect x="87.5" y="251.54" width="1.6" height="1.6" fill="#3b8e3b"/>
<rect x="91.4" y="270.91" width="1.6" height="1.6" fill="#3b8e3b"/>
<rect x="87.5" y="248.76" width="1.6" height="1.6" fill="#3b8e3b"/>
<rect x="87.5" y="261.58" width="1.6" height="1.6" fill="#3b8e3b"/>
<rect x="87.5" y="282.36" width="1.6" height="1.6" fill="#3b8e3b"/>
<rect x="87.5" y="298.71" width="1.6" height="1.6" fill="#3b8e3b"/>
<rect x="83.6" y="266.22" width="1.6" height="1.6" fill="#3b8e3b"/>
<rect x="87.5" y="244.81" width="1.6" height="1.6" fill="#3b8e3b"/>
<rect x="87.5" y="285.13" width="1.6" height="1.6" fill="#3b8e3b"/>
<rect x="91.4" y="258.35" width="1.6" height="1.6" fill="#3b8e3b"/>
<rect x="87.5" y="302.03" width="1.6" height="1.6" fill="#3b8e3b"/>
<rect x="87.5" y="291.95" width="1.6" height="1.6" fill="#3b8e3b"/>
<rect x="91.4" y="289.38" width="1.6" height="1.6" fill="#3b8e3b"/>
<rect x="79.7" y="272.25" width="1.6" height="1.6" fill="#3b8e3b"/>
<rect x="91.4" y="276.55" width="1.6" height="1.6" fill="#3b8e3b"/>
<rect x="91.4" y="252.58" width="1.6" height="1.6" fill="#3b8e3b"/>
<rect x="83.6" y="297.09" width="1.6" height="1.6" fill="#3b8e3b"/>
<rect x="95.3" y="277.76" width="1.6" height="1.6" fill="#3b8e3b"/>
<rect x="87.5" y="235.38" width="1.6" height="1.6" fill="#3b8e3b"/>
<rect x="91.4" y="286.47" width="1.6" height="1.6" fill="#3b8e3b"/>
<rect x="79.7" y="277.1" width="1.6" height="1.6" fill="#3b8e3b"/>
<rect x="83.6" y="280.43" width="1.6" height="1.6" fill="#3b8e3b"/>
<rect x="95.3" y="290.33" width="1.6" height="1.6" fill="#3b8e3b"/>
<rect x="83.6" y="245.96" width="1.6" height="1.6" fill="#3b8e3b"/>
<rect x="79.7" y="263.65" width="1.6" height="1.6" fill="#3b8e3b"/>
<rect x="91.4" y="296.5" width="1.6" height="1.6" fill="#3b8e3b"/>
<rect x="91.4" y="303.88" width="1.6" height="1.6" fill="#3b8e3b"/>
<rect x="91.4" y="273.95" width="1.6" height="1.6" fill="#3b8e3b"/>
<rect x="87.5" y="306.01" width="1.6" height="1.6" fill="#3b8e3b"/>
<rect x="83.6" y="286.03" width="1.6" height="1.6" fill="#3b8e3b"/>
<rect x="91.4" y="268.08" width="1.6" height="1.6" fill="#3b8e3b"/>
<rect x="83.6" y="253.67" width="1.6" height="1.6" fill="#3b8e3b"/>
<rect x="83.6" y="250.24" width="1.6" height="1.6" fill="#3b8e3b"/>
<rect x="79.7" y="267" width="1.6" height="1.6" fill="#3b8e3b"/>
<rect x="91.4" y="279.67" width="1.6" height="1.6" fill="#3b8e3b"/>
<rect x="91.4" y="265.56" width="1.6" height="1.6" fill="#3b8e3b"/>
<rect x="83.6" y="268.92" width="1.6" height="1.6" fill="#3b8e3b"/>
<rect x="83.6" y="292.91" width="1.6" height="1.6" fill="#3b8e3b"/>
<rect x="87.5" y="273.23" width="1.6" height="1.6" fill="#3b8e3b"/>
<rect x="91.4" y="255.36" width="1.6" height="1.6" fill="#3b8e3b"/>
<rect x="83.6" y="256.91" width="1.6" height="1.6" fill="#3b8e3b"/>
<rect x="83.6" y="288.84" width="1.6" height="1.6" fill="#3b8e3b"/>
<rect x="87.5" y="279.01" width="1.6" height="1.6" fill="#3b8e3b"/>
<rect x="83.6" y="263.3" width="1.6" height="1.6" fill="#3b8e3b"/>
<rect x="95.3" y="269.64" width="1.6" height="1.6" fill="#3b8e3b"/>
<rect x="83.6" y="277.9" width="1.6" height="1.6" fill="#3b8e3b"/>
<rect x="95.3" y="260.26" width="1.6" height="1.6" fill="#3b8e3b"/>
<rect x="87.5" y="275.9" width="1.6" height="1.6" fill="#3b8e3b"/>
<rect x="83.6" y="275.28" width="1.6" height="1.6" fill="#3b8e3b"/>
<rect x="87.5" y="238.06" width="1.6" height="1.6" fill="#3b8e3b"/>
<rect x="87.5" y="231.95" width="1.6" height="1.6" fill="#3b8e3b"/>
<line x1="88.5" y1="270.12" x2="88.5" y2="275.84" stroke="#3b8e3b" stroke-width="0.8"/>
<line x1="83.8" y1="270.5" x2="92.8" y2="270.5" stroke="#3b8e3b" stroke-width="0.8"/>
<line x1="83.8" y1="275.5" x2="92.8" y2="275.5" stroke="#3b8e3b" stroke-width="0.8"/>
<line x1="79.05" y1="272.5" x2="97.55" y2="272.5" stroke="#222" stroke-width="1.1"/>
<rect x="119.1" y="262.31" width="1.6" height="1.6" fill="#3a88c4"/>
<rect x="115.2" y="272.23" width="1.6" height="1.6" fill="#3a88c4"/>
<rect x="111.3" y="249.92" width="1.6" height="1.6" fill="#3a88c4"/>
<rect x="115.2" y="250.91" width="1.6" height="1.6" fill="#3a88c4"/>
<rect x="115.2" y="256.83" width="1.6" height="1.6" fill="#3a88c4"/>
<rect x="119.1" y="270.68" width="1.6" height="1.6" fill="#3a88c4"/>
<rect x="111.3" y="265.99" width="1.6" height="1.6" fill="#3a88c4"/>
<rect x="115.2" y="274.76" width="1.6" height="1.6" fill="#3a88c4"/>
<rect x="115.2" y="264.52" width="1.6" height="1.6" fill="#3a88c4"/>
<rect x="115.2" y="260.15" width="1.6" height="1.6" fill="#3a88c4"/>
<rect x="115.2" y="229.83" width="1.6" height="1.6" fill="#3a88c4"/>
<rect x="115.2" y="277.84" width="1.6" height="1.6" fill="#3a88c4"/>
<rect x="115.2" y="235.13" width="1.6" height="1.6" fill="#3a88c4"/>
<rect x="111.3" y="275.55" width="1.6" height="1.6" fill="#3a88c4"/>
<rect x="111.3" y="261.21" width="1.6" height="1.6" fill="#3a88c4"/>
<rect x="115.2" y="223.37" width="1.6" height="1.6" fill="#3a88c4"/>
<rect x="115.2" y="269.24" width="1.6" height="1.6" fill="#3a88c4"/>
<rect x="115.2" y="238.26" width="1.6" height="1.6" fill="#3a88c4"/>
<rect x="111.3" y="232.29" width="1.6" height="1.6" fill="#3a88c4"/>
<rect x="115.2" y="280.58" width="1.6" height="1.6" fill="#3a88c4"/>
<rect x="111.3" y="284.77" width="1.6" height="1.6" fill="#3a88c4"/>
<rect x="115.2" y="244.35" width="1.6" height="1.6" fill="#3a88c4"/>
<rect x="111.3" y="258.61" width="1.6" height="1.6" fill="#3a88c4"/>
<rect x="119.1" y="243.6" width="1.6" height="1.6" fill="#3a88c4"/>
<rect x="111.3" y="252.88" width="1.6" height="1.6" fill="#3a88c4"/>
<rect x="107.4" y="255.01" width="1.6" height="1.6" fill="#3a88c4"/>
<rect x="115.2" y="241.73" width="1.6" height="1.6" fill="#3a88c4"/>
<rect x="115.2" y="287.49" width="1.6" height="1.6" fill="#3a88c4"/>
<rect x="115.2" y="248.03" width="1.6" height="1.6" fill="#3a88c4"/>
<rect x="115.2" y="283.6" width="1.6" height="1.6" fill="#3a88c4"/>
<rect x="119.1" y="254.27" width="1.6" height="1.6" fill="#3a88c4"/>
<rect x="119.1" y="266.96" width="1.6" height="1.6" fill="#3a88c4"/>
<rect x="107.4" y="252.17" width="1.6" height="1.6" fill="#3a88c4"/>
<rect x="119.1" y="251.73" width="1.6" height="1.6" fill="#3a88c4"/>
<rect x="111.3" y="256" width="1.6" height="1.6" fill="#3a88c4"/>
<rect x="119.1" y="236.18" width="1.6" height="1.6" fill="#3a88c4"/>
<rect x="115.2" y="253.79" width="1.6" height="1.6" fill="#3a88c4"/>
<rect x="115.2" y="291.27" width="1.6" height="1.6" fill="#3a88c4"/>
<line x1="116.5" y1="253.55" x2="116.5" y2="260.41" stroke="#3a88c4" stroke-width="0.8"/>
<line x1="111.5" y1="253.5" x2="120.5" y2="253.5" stroke="#3a88c4" stroke-width="0.8"/>
<line x1="111.5" y1="260.5" x2="120.5" y2="260.5" stroke="#3a88c4" stroke-width="0.8"/>
<line x1="106.75" y1="256.5" x2="125.25" y2="256.5" stroke="#222" stroke-width="1.1"/>
<rect x="140" y="231.37" width="1.6" height="1.6" fill="#3b8e3b"/>
<rect x="143" y="239.87" width="1.6" height="1.6" fill="#3b8e3b"/>
<rect x="140" y="244.86" width="1.6" height="1.6" fill="#3b8e3b"/>
<rect x="149" y="246.23" width="1.6" height="1.6" fill="#3b8e3b"/>
<rect x="146" y="296.51" width="1.6" height="1.6" fill="#3b8e3b"/>
<rect x="146" y="249.55" width="1.6" height="1.6" fill="#3b8e3b"/>
<rect x="143" y="289.1" width="1.6" height="1.6" fill="#3b8e3b"/>
<rect x="146" y="238.12" width="1.6" height="1.6" fill="#3b8e3b"/>
<rect x="137" y="278.07" width="1.6" height="1.6" fill="#3b8e3b"/>
<rect x="143" y="253.67" width="1.6" height="1.6" fill="#3b8e3b"/>
<rect x="137" y="269.4" width="1.6" height="1.6" fill="#3b8e3b"/>
<rect x="143" y="264.93" width="1.6" height="1.6" fill="#3b8e3b"/>
<rect x="140" y="274.3" width="1.6" height="1.6" fill="#3b8e3b"/>
<rect x="140" y="293.05" width="1.6" height="1.6" fill="#3b8e3b"/>
<rect x="137" y="294.46" width="1.6" height="1.6" fill="#3b8e3b"/>
<rect x="143" y="295.98" width="1.6" height="1.6" fill="#3b8e3b"/>
<rect x="146" y="281.81" width="1.6" height="1.6" fill="#3b8e3b"/>
<rect x="146" y="252.69" width="1.6" height="1.6" fill="#3b8e3b"/>
<rect x="140" y="300.58" width="1.6" height="1.6" fill="#3b8e3b"/>
<rect x="146" y="278.65" width="1.6" height="1.6" fill="#3b8e3b"/>
<rect x="146" y="241.11" width="1.6" height="1.6" fill="#3b8e3b"/>
<rect x="149" y="241.79" width="1.6" height="1.6" fill="#3b8e3b"/>
<rect x="146" y="258.64" width="1.6" height="1.6" fill="#3b8e3b"/>
<rect x="140" y="297.69" width="1.6" height="1.6" fill="#3b8e3b"/>
<rect x="140" y="290.2" width="1.6" height="1.6" fill="#3b8e3b"/>
<rect x="143" y="242.5" width="1.6" height="1.6" fill="#3b8e3b"/>
<rect x="149" y="260.52" width="1.6" height="1.6" fill="#3b8e3b"/>
<rect x="146" y="244.08" width="1.6" height="1.6" fill="#3b8e3b"/>
<rect x="143" y="268.13" width="1.6" height="1.6" fill="#3b8e3b"/>
<rect x="149" y="270.4" width="1.6" height="1.6" fill="#3b8e3b"/>
<rect x="143" y="276.48" width="1.6" height="1.6" fill="#3b8e3b"/>
<rect x="140" y="255.5" width="1.6" height="1.6" fill="#3b8e3b"/>
<rect x="143" y="273.77" width="1.6" height="1.6" fill="#3b8e3b"/>
<rect x="146" y="235.5" width="1.6" height="1.6" fill="#3b8e3b"/>
<rect x="146" y="247.04" width="1.6" height="1.6" fill="#3b8e3b"/>
<rect x="143" y="302.58" width="1.6" height="1.6" fill="#3b8e3b"/>
<rect x="146" y="264.12" width="1.6" height="1.6" fill="#3b8e3b"/>
<rect x="149" y="266.16" width="1.6" height="1.6" fill="#3b8e3b"/>
<rect x="137" y="262.62" width="1.6" height="1.6" fill="#3b8e3b"/>
<rect x="149" y="273.12" width="1.6" height="1.6" fill="#3b8e3b"/>
<rect x="137" y="254.4" width="1.6" height="1.6" fill="#3b8e3b"/>
<rect x="149" y="286.01" width="1.6" height="1.6" fill="#3b8e3b"/>
<rect x="140" y="234.37" width="1.6" height="1.6" fill="#3b8e3b"/>
<rect x="146" y="293.94" width="1.6" height="1.6" fill="#3b8e3b"/>
<rect x="140" y="268.86" width="1.6" height="1.6" fill="#3b8e3b"/>
<rect x="143" y="271.13" width="1.6" height="1.6" fill="#3b8e3b"/>
<rect x="146" y="284.87" width="1.6" height="1.6" fill="#3b8e3b"/>
<rect x="137" y="266.57" width="1.6" height="1.6" fill="#3b8e3b"/>
<rect x="146" y="275.59" width="1.6" height="1.6" fill="#3b8e3b"/>
<rect x="143" y="256.33" width="1.6" height="1.6" fill="#3b8e3b"/>
<rect x="140" y="265.31" width="1.6" height="1.6" fill="#3b8e3b"/>
<rect x="146" y="269.73" width="1.6" height="1.6" fill="#3b8e3b"/>
<rect x="140" y="277.23" width="1.6" height="1.6" fill="#3b8e3b"/>
<rect x="146" y="287.81" width="1.6" height="1.6" fill="#3b8e3b"/>
<rect x="137" y="260.01" width="1.6" height="1.6" fill="#3b8e3b"/>
<rect x="137" y="274.91" width="1.6" height="1.6" fill="#3b8e3b"/>
<rect x="137" y="257.13" width="1.6" height="1.6" fill="#3b8e3b"/>
<rect x="152" y="260.99" width="1.6" height="1.6" fill="#3b8e3b"/>
<rect x="146" y="290.88" width="1.6" height="1.6" fill="#3b8e3b"/>
<rect x="140" y="259.62" width="1.6" height="1.6" fill="#3b8e3b"/>
<rect x="143" y="227.83" width="1.6" height="1.6" fill="#3b8e3b"/>
<rect x="146" y="272.59" width="1.6" height="1.6" fill="#3b8e3b"/>
<rect x="149" y="257.54" width="1.6" height="1.6" fill="#3b8e3b"/>
<rect x="143" y="261.87" width="1.6" height="1.6" fill="#3b8e3b"/>
<rect x="140" y="252.13" width="1.6" height="1.6" fill="#3b8e3b"/>
<rect x="143" y="292.25" width="1.6" height="1.6" fill="#3b8e3b"/>
<rect x="143" y="236.92" width="1.6" height="1.6" fill="#3b8e3b"/>
<rect x="137" y="281.01" width="1.6" height="1.6" fill="#3b8e3b"/>
<rect x="140" y="262.38" width="1.6" height="1.6" fill="#3b8e3b"/>
<rect x="146" y="256.13" width="1.6" height="1.6" fill="#3b8e3b"/>
<rect x="143" y="248.2" width="1.6" height="1.6" fill="#3b8e3b"/>
<rect x="146" y="261.53" width="1.6" height="1.6" fill="#3b8e3b"/>
<rect x="143" y="299.02" width="1.6" height="1.6" fill="#3b8e3b"/>
<rect x="143" y="233.24" width="1.6" height="1.6" fill="#3b8e3b"/>
<rect x="137" y="251.11" width="1.6" height="1.6" fill="#3b8e3b"/>
<rect x="140" y="249.02" width="1.6" height="1.6" fill="#3b8e3b"/>
<rect x="143" y="250.88" width="1.6" height="1.6" fill="#3b8e3b"/>
<rect x="143" y="259.04" width="1.6" height="1.6" fill="#3b8e3b"/>
<rect x="140" y="271.63" width="1.6" height="1.6" fill="#3b8e3b"/>
<rect x="143" y="285.68" width="1.6" height="1.6" fill="#3b8e3b"/>
<rect x="140" y="280.08" width="1.6" height="1.6" fill="#3b8e3b"/>
<rect x="143" y="245.7" width="1.6" height="1.6" fill="#3b8e3b"/>
<rect x="146" y="267.14" width="1.6" height="1.6" fill="#3b8e3b"/>
<rect x="143" y="230.53" width="1.6" height="1.6" fill="#3b8e3b"/>
<rect x="140" y="286.82" width="1.6" height="1.6" fill="#3b8e3b"/>
<rect x="140" y="283.9" width="1.6" height="1.6" fill="#3b8e3b"/>
<rect x="149" y="263.21" width="1.6" height="1.6" fill="#3b8e3b"/>
<rect x="134" y="263.97" width="1.6" height="1.6" fill="#3b8e3b"/>
<rect x="140" y="239.3" width="1.6" height="1.6" fill="#3b8e3b"/>
<rect x="143" y="279.51" width="1.6" height="1.6" fill="#3b8e3b"/>
<rect x="134" y="257.97" width="1.6" height="1.6" fill="#3b8e3b"/>
<rect x="143" y="282.85" width="1.6" height="1.6" fill="#3b8e3b"/>
<line x1="143.5" y1="262.69" x2="143.5" y2="267.84" stroke="#3b8e3b" stroke-width="0.8"/>
<line x1="139.3" y1="262.5" x2="148.3" y2="262.5" stroke="#3b8e3b" stroke-width="0.8"/>
<line x1="139.3" y1="267.5" x2="148.3" y2="267.5" stroke="#3b8e3b" stroke-width="0.8"/>
<line x1="134.55" y1="265.5" x2="153.05" y2="265.5" stroke="#222" stroke-width="1.1"/>
<rect x="174.3" y="248.91" width="1.6" height="1.6" fill="#3a88c4"/>
<rect x="170.4" y="250.98" width="1.6" height="1.6" fill="#3a88c4"/>
<rect x="170.4" y="264.04" width="1.6" height="1.6" fill="#3a88c4"/>
<rect x="170.4" y="240.87" width="1.6" height="1.6" fill="#3a88c4"/>
<rect x="170.4" y="255.11" width="1.6" height="1.6" fill="#3a88c4"/>
<rect x="170.4" y="273.07" width="1.6" height="1.6" fill="#3a88c4"/>
<rect x="170.4" y="243.85" width="1.6" height="1.6" fill="#3a88c4"/>
<rect x="170.4" y="279.93" width="1.6" height="1.6" fill="#3a88c4"/>
<rect x="166.5" y="236.98" width="1.6" height="1.6" fill="#3a88c4"/>
<rect x="166.5" y="266.07" width="1.6" height="1.6" fill="#3a88c4"/>
<rect x="170.4" y="226.65" width="1.6" height="1.6" fill="#3a88c4"/>
<rect x="170.4" y="220.97" width="1.6" height="1.6" fill="#3a88c4"/>
<rect x="166.5" y="252.9" width="1.6" height="1.6" fill="#3a88c4"/>
<rect x="170.4" y="248.2" width="1.6" height="1.6" fill="#3a88c4"/>
<rect x="174.3" y="257.22" width="1.6" height="1.6" fill="#3a88c4"/>
<rect x="170.4" y="294.93" width="1.6" height="1.6" fill="#3a88c4"/>
<rect x="166.5" y="246.31" width="1.6" height="1.6" fill="#3a88c4"/>
<rect x="170.4" y="234.63" width="1.6" height="1.6" fill="#3a88c4"/>
<line x1="171.5" y1="246.12" x2="171.5" y2="256.41" stroke="#3a88c4" stroke-width="0.8"/>
<line x1="166.7" y1="246.5" x2="175.7" y2="246.5" stroke="#3a88c4" stroke-width="0.8"/>
<line x1="166.7" y1="256.5" x2="175.7" y2="256.5" stroke="#3a88c4" stroke-width="0.8"/>
<line x1="161.95" y1="251.5" x2="180.45" y2="251.5" stroke="#222" stroke-width="1.1"/>
<rect x="193.6" y="253.64" width="1.6" height="1.6" fill="#3b8e3b"/>
<rect x="193.6" y="287.79" width="1.6" height="1.6" fill="#3b8e3b"/>
<rect x="197.5" y="258.6" width="1.6" height="1.6" fill="#3b8e3b"/>
<rect x="197.5" y="250.34" width="1.6" height="1.6" fill="#3b8e3b"/>
<rect x="201.4" y="260.79" width="1.6" height="1.6" fill="#3b8e3b"/>
<rect x="193.6" y="260.12" width="1.6" height="1.6" fill="#3b8e3b"/>
<rect x="197.5" y="271.99" width="1.6" height="1.6" fill="#3b8e3b"/>
<rect x="197.5" y="299.59" width="1.6" height="1.6" fill="#3b8e3b"/>
<rect x="197.5" y="283.44" width="1.6" height="1.6" fill="#3b8e3b"/>
<rect x="197.5" y="247.67" width="1.6" height="1.6" fill="#3b8e3b"/>
<rect x="193.6" y="266.96" width="1.6" height="1.6" fill="#3b8e3b"/>
<rect x="193.6" y="256.84" width="1.6" height="1.6" fill="#3b8e3b"/>
<rect x="197.5" y="256.01" width="1.6" height="1.6" fill="#3b8e3b"/>
<rect x="197.5" y="262.28" width="1.6" height="1.6" fill="#3b8e3b"/>
<rect x="197.5" y="265.19" width="1.6" height="1.6" fill="#3b8e3b"/>
<rect x="197.5" y="290.85" width="1.6" height="1.6" fill="#3b8e3b"/>
<rect x="193.6" y="274.07" width="1.6" height="1.6" fill="#3b8e3b"/>
<rect x="197.5" y="294.61" width="1.6" height="1.6" fill="#3b8e3b"/>
<rect x="201.4" y="296.28" width="1.6" height="1.6" fill="#3b8e3b"/>
<rect x="197.5" y="286.42" width="1.6" height="1.6" fill="#3b8e3b"/>
<rect x="197.5" y="222.46" width="1.6" height="1.6" fill="#3b8e3b"/>
<rect x="201.4" y="236.91" width="1.6" height="1.6" fill="#3b8e3b"/>
<rect x="197.5" y="238.88" width="1.6" height="1.6" fill="#3b8e3b"/>
<rect x="197.5" y="232.39" width="1.6" height="1.6" fill="#3b8e3b"/>
<rect x="201.4" y="249.33" width="1.6" height="1.6" fill="#3b8e3b"/>
<rect x="193.6" y="277.55" width="1.6" height="1.6" fill="#3b8e3b"/>
<rect x="197.5" y="243.98" width="1.6" height="1.6" fill="#3b8e3b"/>
<rect x="197.5" y="307.38" width="1.6" height="1.6" fill="#3b8e3b"/>
<rect x="193.6" y="270.12" width="1.6" height="1.6" fill="#3b8e3b"/>
<rect x="201.4" y="263.77" width="1.6" height="1.6" fill="#3b8e3b"/>
<rect x="193.6" y="246.19" width="1.6" height="1.6" fill="#3b8e3b"/>
<rect x="193.6" y="262.98" width="1.6" height="1.6" fill="#3b8e3b"/>
<rect x="193.6" y="241.09" width="1.6" height="1.6" fill="#3b8e3b"/>
<rect x="193.6" y="293.08" width="1.6" height="1.6" fill="#3b8e3b"/>
<rect x="197.5" y="279.6" width="1.6" height="1.6" fill="#3b8e3b"/>
<rect x="193.6" y="281.92" width="1.6" height="1.6" fill="#3b8e3b"/>
<rect x="197.5" y="275.69" width="1.6" height="1.6" fill="#3b8e3b"/>
<rect x="197.5" y="267.96" width="1.6" height="1.6" fill="#3b8e3b"/>
<rect x="201.4" y="272.56" width="1.6" height="1.6" fill="#3b8e3b"/>
<rect x="201.4" y="291.22" width="1.6" height="1.6" fill="#3b8e3b"/>
<rect x="201.4" y="258.24" width="1.6" height="1.6" fill="#3b8e3b"/>
<rect x="201.4" y="268.69" width="1.6" height="1.6" fill="#3b8e3b"/>
<rect x="197.5" y="253.23" width="1.6" height="1.6" fill="#3b8e3b"/>
<rect x="197.5" y="235.45" width="1.6" height="1.6" fill="#3b8e3b"/>
<line x1="198.5" y1="261.55" x2="198.5" y2="269.55" stroke="#3b8e3b" stroke-width="0.8"/>
<line x1="193.8" y1="261.5" x2="202.8" y2="261.5" stroke="#3b8e3b" stroke-width="0.8"/>
<line x1="193.8" y1="269.5" x2="202.8" y2="269.5" stroke="#3b8e3b" stroke-width="0.8"/>
<line x1="189.05" y1="265.5" x2="207.55" y2="265.5" stroke="#222" stroke-width="1.1"/>
<line x1="300.5" y1="205.6" x2="300.5" y2="323.4" stroke="#2b2b2b" stroke-width="1"/>
<line x1="297.6" y1="322.5" x2="300.6" y2="322.5" stroke="#2b2b2b" stroke-width="1"/>
<text x="294.4" y="325.22" font-size="7" fill="#2a2a2a" text-anchor="end">0</text>
<line x1="297.6" y1="284.5" x2="300.6" y2="284.5" stroke="#2b2b2b" stroke-width="1"/>
<text x="294.4" y="287.32" font-size="7" fill="#2a2a2a" text-anchor="end">2000</text>
<line x1="297.6" y1="246.5" x2="300.6" y2="246.5" stroke="#2b2b2b" stroke-width="1"/>
<text x="294.4" y="249.42" font-size="7" fill="#2a2a2a" text-anchor="end">4000</text>
<line x1="297.6" y1="209.5" x2="300.6" y2="209.5" stroke="#2b2b2b" stroke-width="1"/>
<text x="294.4" y="211.52" font-size="7" fill="#2a2a2a" text-anchor="end">6000</text>
<line x1="300.1" y1="322.5" x2="474.7" y2="322.5" stroke="#2b2b2b" stroke-width="1"/>
<line x1="332.5" y1="322.9" x2="332.5" y2="325.9" stroke="#2b2b2b" stroke-width="1"/>
<line x1="387.5" y1="322.9" x2="387.5" y2="325.9" stroke="#2b2b2b" stroke-width="1"/>
<line x1="442.5" y1="322.9" x2="442.5" y2="325.9" stroke="#2b2b2b" stroke-width="1"/>
<text x="290.6" y="335.55" font-size="6.8" font-weight="normal" fill="#2a2a2a" textLength="20.2" lengthAdjust="spacingAndGlyphs">HLA-C</text>
<text x="322.7" y="335.55" font-size="6.8" font-weight="normal" fill="#2a2a2a" textLength="19.8" lengthAdjust="spacingAndGlyphs">C1/C1</text>
<text x="378" y="335.55" font-size="6.8" font-weight="normal" fill="#2a2a2a" textLength="19.9" lengthAdjust="spacingAndGlyphs">C1/C2</text>
<text x="432.4" y="335.55" font-size="6.8" font-weight="normal" fill="#2a2a2a" textLength="19.7" lengthAdjust="spacingAndGlyphs">C2/C2</text>
<text class="v" transform="translate(273.11,264.1) rotate(-90)" x="0" y="0" font-size="7.8" fill="#2a2a2a" text-anchor="middle" textLength="94.8" lengthAdjust="spacingAndGlyphs">MFI of NKG2A+ CD56<tspan font-size="4.5" dy="-2.2">dim</tspan><tspan dy="2.2"> NK cells</tspan></text>
<line x1="316.2" y1="180.5" x2="432.2" y2="180.5" stroke="#3a3a3a" stroke-width="1"/>
<text x="374.3" y="181.06" font-size="7" fill="#2a2a2a" text-anchor="middle">**</text>
<line x1="320" y1="191.5" x2="373.3" y2="191.5" stroke="#3a3a3a" stroke-width="1"/>
<text x="346.6" y="191.86" font-size="7" fill="#2a2a2a" text-anchor="middle">*</text>
<line x1="346.6" y1="198.5" x2="455.3" y2="198.5" stroke="#3a3a3a" stroke-width="1"/>
<text x="400.8" y="199.06" font-size="7" fill="#2a2a2a" text-anchor="middle">**</text>
<line x1="345.7" y1="210.5" x2="398.7" y2="210.5" stroke="#3a3a3a" stroke-width="1"/>
<text x="372.2" y="210.86" font-size="7" fill="#2a2a2a" text-anchor="middle">*</text>
<line x1="403.4" y1="210.5" x2="456.1" y2="210.5" stroke="#3a3a3a" stroke-width="1"/>
<text x="429.6" y="210.96" font-size="7" fill="#2a2a2a" text-anchor="middle">*</text>
<circle cx="483.9" cy="199.4" r="0.9" fill="#3a88c4"/>
<circle cx="483.9" cy="209.8" r="0.9" fill="#3b8e3b"/>
<text x="487.9" y="202.14" font-size="7.6" font-weight="normal" fill="#2a2a2a" textLength="24" lengthAdjust="spacingAndGlyphs">HCMV&#8722;</text>
<text x="487.9" y="212.54" font-size="7.6" font-weight="normal" fill="#2a2a2a" textLength="24" lengthAdjust="spacingAndGlyphs">HCMV+</text>
<rect x="314.7" y="281.33" width="1.6" height="1.6" fill="#3a88c4"/>
<rect x="326.4" y="284.83" width="1.6" height="1.6" fill="#3a88c4"/>
<rect x="318.6" y="285.81" width="1.6" height="1.6" fill="#3a88c4"/>
<rect x="318.6" y="279.52" width="1.6" height="1.6" fill="#3a88c4"/>
<rect x="318.6" y="266.57" width="1.6" height="1.6" fill="#3a88c4"/>
<rect x="322.5" y="283.31" width="1.6" height="1.6" fill="#3a88c4"/>
<rect x="314.7" y="284.19" width="1.6" height="1.6" fill="#3a88c4"/>
<rect x="322.5" y="271.56" width="1.6" height="1.6" fill="#3a88c4"/>
<rect x="314.7" y="287.38" width="1.6" height="1.6" fill="#3a88c4"/>
<rect x="318.6" y="273.35" width="1.6" height="1.6" fill="#3a88c4"/>
<rect x="318.6" y="276.23" width="1.6" height="1.6" fill="#3a88c4"/>
<rect x="322.5" y="280.49" width="1.6" height="1.6" fill="#3a88c4"/>
<rect x="318.6" y="270.65" width="1.6" height="1.6" fill="#3a88c4"/>
<rect x="314.7" y="267.46" width="1.6" height="1.6" fill="#3a88c4"/>
<rect x="322.5" y="294.91" width="1.6" height="1.6" fill="#3a88c4"/>
<rect x="322.5" y="290.3" width="1.6" height="1.6" fill="#3a88c4"/>
<rect x="318.6" y="297.64" width="1.6" height="1.6" fill="#3a88c4"/>
<rect x="322.5" y="275.57" width="1.6" height="1.6" fill="#3a88c4"/>
<rect x="318.6" y="289.17" width="1.6" height="1.6" fill="#3a88c4"/>
<rect x="314.7" y="278.21" width="1.6" height="1.6" fill="#3a88c4"/>
<rect x="318.6" y="282.65" width="1.6" height="1.6" fill="#3a88c4"/>
<rect x="318.6" y="293.02" width="1.6" height="1.6" fill="#3a88c4"/>
<rect x="322.5" y="286.44" width="1.6" height="1.6" fill="#3a88c4"/>
<rect x="318.6" y="261.26" width="1.6" height="1.6" fill="#3a88c4"/>
<line x1="319.5" y1="274.95" x2="319.5" y2="286.32" stroke="#3a88c4" stroke-width="0.8"/>
<line x1="314.9" y1="274.5" x2="323.9" y2="274.5" stroke="#3a88c4" stroke-width="0.8"/>
<line x1="314.9" y1="286.5" x2="323.9" y2="286.5" stroke="#3a88c4" stroke-width="0.8"/>
<line x1="310.15" y1="283.5" x2="328.65" y2="283.5" stroke="#222" stroke-width="1.1"/>
<rect x="347.85" y="254.73" width="1.6" height="1.6" fill="#3b8e3b"/>
<rect x="343.35" y="268.87" width="1.6" height="1.6" fill="#3b8e3b"/>
<rect x="343.35" y="282.32" width="1.6" height="1.6" fill="#3b8e3b"/>
<rect x="350.1" y="271.16" width="1.6" height="1.6" fill="#3b8e3b"/>
<rect x="338.85" y="291.12" width="1.6" height="1.6" fill="#3b8e3b"/>
<rect x="350.1" y="281.48" width="1.6" height="1.6" fill="#3b8e3b"/>
<rect x="350.1" y="268.18" width="1.6" height="1.6" fill="#3b8e3b"/>
<rect x="352.35" y="289.59" width="1.6" height="1.6" fill="#3b8e3b"/>
<rect x="350.1" y="294.32" width="1.6" height="1.6" fill="#3b8e3b"/>
<rect x="345.6" y="245.04" width="1.6" height="1.6" fill="#3b8e3b"/>
<rect x="347.85" y="278.27" width="1.6" height="1.6" fill="#3b8e3b"/>
<rect x="347.85" y="292.04" width="1.6" height="1.6" fill="#3b8e3b"/>
<rect x="341.1" y="284.09" width="1.6" height="1.6" fill="#3b8e3b"/>
<rect x="350.1" y="286.56" width="1.6" height="1.6" fill="#3b8e3b"/>
<rect x="345.6" y="290" width="1.6" height="1.6" fill="#3b8e3b"/>
<rect x="341.1" y="276.09" width="1.6" height="1.6" fill="#3b8e3b"/>
<rect x="347.85" y="294.99" width="1.6" height="1.6" fill="#3b8e3b"/>
<rect x="345.6" y="287.39" width="1.6" height="1.6" fill="#3b8e3b"/>
<rect x="345.6" y="264.68" width="1.6" height="1.6" fill="#3b8e3b"/>
<rect x="345.6" y="270.06" width="1.6" height="1.6" fill="#3b8e3b"/>
<rect x="341.1" y="273.19" width="1.6" height="1.6" fill="#3b8e3b"/>
<rect x="343.35" y="279.63" width="1.6" height="1.6" fill="#3b8e3b"/>
<rect x="345.6" y="272.75" width="1.6" height="1.6" fill="#3b8e3b"/>
<rect x="350.1" y="289.41" width="1.6" height="1.6" fill="#3b8e3b"/>
<rect x="343.35" y="293.55" width="1.6" height="1.6" fill="#3b8e3b"/>
<rect x="347.85" y="286.37" width="1.6" height="1.6" fill="#3b8e3b"/>
<rect x="343.35" y="257.42" width="1.6" height="1.6" fill="#3b8e3b"/>
<rect x="345.6" y="284.56" width="1.6" height="1.6" fill="#3b8e3b"/>
<rect x="345.6" y="238.8" width="1.6" height="1.6" fill="#3b8e3b"/>
<rect x="345.6" y="252.89" width="1.6" height="1.6" fill="#3b8e3b"/>
<rect x="347.85" y="259.14" width="1.6" height="1.6" fill="#3b8e3b"/>
<rect x="347.85" y="266.36" width="1.6" height="1.6" fill="#3b8e3b"/>
<rect x="341.1" y="291.03" width="1.6" height="1.6" fill="#3b8e3b"/>
<rect x="345.6" y="292.95" width="1.6" height="1.6" fill="#3b8e3b"/>
<rect x="354.6" y="291.51" width="1.6" height="1.6" fill="#3b8e3b"/>
<rect x="347.85" y="262.29" width="1.6" height="1.6" fill="#3b8e3b"/>
<rect x="343.35" y="277.06" width="1.6" height="1.6" fill="#3b8e3b"/>
<rect x="345.6" y="267.4" width="1.6" height="1.6" fill="#3b8e3b"/>
<rect x="338.85" y="288.57" width="1.6" height="1.6" fill="#3b8e3b"/>
<rect x="347.85" y="283.51" width="1.6" height="1.6" fill="#3b8e3b"/>
<rect x="350.1" y="263.04" width="1.6" height="1.6" fill="#3b8e3b"/>
<rect x="341.1" y="270.54" width="1.6" height="1.6" fill="#3b8e3b"/>
<rect x="347.85" y="250.67" width="1.6" height="1.6" fill="#3b8e3b"/>
<rect x="350.1" y="273.91" width="1.6" height="1.6" fill="#3b8e3b"/>
<rect x="341.1" y="266.96" width="1.6" height="1.6" fill="#3b8e3b"/>
<rect x="347.85" y="246.52" width="1.6" height="1.6" fill="#3b8e3b"/>
<rect x="347.85" y="275.13" width="1.6" height="1.6" fill="#3b8e3b"/>
<rect x="341.1" y="288.27" width="1.6" height="1.6" fill="#3b8e3b"/>
<rect x="345.6" y="248.39" width="1.6" height="1.6" fill="#3b8e3b"/>
<rect x="343.35" y="288.04" width="1.6" height="1.6" fill="#3b8e3b"/>
<rect x="336.6" y="290.39" width="1.6" height="1.6" fill="#3b8e3b"/>
<rect x="345.6" y="279.09" width="1.6" height="1.6" fill="#3b8e3b"/>
<rect x="345.6" y="261.3" width="1.6" height="1.6" fill="#3b8e3b"/>
<rect x="345.6" y="282.02" width="1.6" height="1.6" fill="#3b8e3b"/>
<rect x="350.1" y="277.63" width="1.6" height="1.6" fill="#3b8e3b"/>
<rect x="343.35" y="271.85" width="1.6" height="1.6" fill="#3b8e3b"/>
<rect x="347.85" y="289.03" width="1.6" height="1.6" fill="#3b8e3b"/>
<rect x="343.35" y="285.18" width="1.6" height="1.6" fill="#3b8e3b"/>
<rect x="347.85" y="269.39" width="1.6" height="1.6" fill="#3b8e3b"/>
<rect x="343.35" y="260.68" width="1.6" height="1.6" fill="#3b8e3b"/>
<rect x="343.35" y="274.39" width="1.6" height="1.6" fill="#3b8e3b"/>
<rect x="345.6" y="255.84" width="1.6" height="1.6" fill="#3b8e3b"/>
<rect x="345.6" y="258.64" width="1.6" height="1.6" fill="#3b8e3b"/>
<rect x="347.85" y="280.78" width="1.6" height="1.6" fill="#3b8e3b"/>
<rect x="343.35" y="290.6" width="1.6" height="1.6" fill="#3b8e3b"/>
<rect x="345.6" y="275.81" width="1.6" height="1.6" fill="#3b8e3b"/>
<rect x="343.35" y="265.75" width="1.6" height="1.6" fill="#3b8e3b"/>
<rect x="347.85" y="272.09" width="1.6" height="1.6" fill="#3b8e3b"/>
<line x1="346.5" y1="266.99" x2="346.5" y2="289.35" stroke="#3b8e3b" stroke-width="0.8"/>
<line x1="341.9" y1="266.5" x2="350.9" y2="266.5" stroke="#3b8e3b" stroke-width="0.8"/>
<line x1="341.9" y1="289.5" x2="350.9" y2="289.5" stroke="#3b8e3b" stroke-width="0.8"/>
<line x1="337.15" y1="276.5" x2="355.65" y2="276.5" stroke="#222" stroke-width="1.1"/>
<rect x="373.2" y="281.63" width="1.6" height="1.6" fill="#3a88c4"/>
<rect x="377.1" y="287.13" width="1.6" height="1.6" fill="#3a88c4"/>
<rect x="373.2" y="293.29" width="1.6" height="1.6" fill="#3a88c4"/>
<rect x="369.3" y="282.47" width="1.6" height="1.6" fill="#3a88c4"/>
<rect x="373.2" y="249.23" width="1.6" height="1.6" fill="#3a88c4"/>
<rect x="373.2" y="243.76" width="1.6" height="1.6" fill="#3a88c4"/>
<rect x="373.2" y="265.56" width="1.6" height="1.6" fill="#3a88c4"/>
<rect x="369.3" y="286.64" width="1.6" height="1.6" fill="#3a88c4"/>
<rect x="373.2" y="278.57" width="1.6" height="1.6" fill="#3a88c4"/>
<rect x="377.1" y="280.27" width="1.6" height="1.6" fill="#3a88c4"/>
<rect x="373.2" y="275.01" width="1.6" height="1.6" fill="#3a88c4"/>
<rect x="373.2" y="252.96" width="1.6" height="1.6" fill="#3a88c4"/>
<rect x="369.3" y="273.87" width="1.6" height="1.6" fill="#3a88c4"/>
<rect x="373.2" y="285.2" width="1.6" height="1.6" fill="#3a88c4"/>
<rect x="373.2" y="258.83" width="1.6" height="1.6" fill="#3a88c4"/>
<rect x="365.4" y="291.98" width="1.6" height="1.6" fill="#3a88c4"/>
<rect x="377.1" y="251.05" width="1.6" height="1.6" fill="#3a88c4"/>
<rect x="377.1" y="291.58" width="1.6" height="1.6" fill="#3a88c4"/>
<rect x="369.3" y="289.56" width="1.6" height="1.6" fill="#3a88c4"/>
<rect x="365.4" y="288.61" width="1.6" height="1.6" fill="#3a88c4"/>
<rect x="373.2" y="255.96" width="1.6" height="1.6" fill="#3a88c4"/>
<rect x="377.1" y="267.94" width="1.6" height="1.6" fill="#3a88c4"/>
<rect x="377.1" y="276.73" width="1.6" height="1.6" fill="#3a88c4"/>
<rect x="373.2" y="262.21" width="1.6" height="1.6" fill="#3a88c4"/>
<rect x="377.1" y="284.11" width="1.6" height="1.6" fill="#3a88c4"/>
<rect x="369.3" y="263.96" width="1.6" height="1.6" fill="#3a88c4"/>
<rect x="373.2" y="269.82" width="1.6" height="1.6" fill="#3a88c4"/>
<rect x="377.1" y="260.2" width="1.6" height="1.6" fill="#3a88c4"/>
<rect x="369.3" y="279.45" width="1.6" height="1.6" fill="#3a88c4"/>
<rect x="373.2" y="272.44" width="1.6" height="1.6" fill="#3a88c4"/>
<rect x="377.1" y="257.65" width="1.6" height="1.6" fill="#3a88c4"/>
<rect x="373.2" y="239.66" width="1.6" height="1.6" fill="#3a88c4"/>
<rect x="373.2" y="290.58" width="1.6" height="1.6" fill="#3a88c4"/>
<rect x="373.2" y="288.02" width="1.6" height="1.6" fill="#3a88c4"/>
<line x1="374.5" y1="261.21" x2="374.5" y2="287.17" stroke="#3a88c4" stroke-width="0.8"/>
<line x1="369.5" y1="261.5" x2="378.5" y2="261.5" stroke="#3a88c4" stroke-width="0.8"/>
<line x1="369.5" y1="287.5" x2="378.5" y2="287.5" stroke="#3a88c4" stroke-width="0.8"/>
<line x1="364.75" y1="277.5" x2="383.25" y2="277.5" stroke="#222" stroke-width="1.1"/>
<rect x="395.8" y="281.4" width="1.6" height="1.6" fill="#3b8e3b"/>
<rect x="393.55" y="276.85" width="1.6" height="1.6" fill="#3b8e3b"/>
<rect x="398.05" y="282.18" width="1.6" height="1.6" fill="#3b8e3b"/>
<rect x="400.3" y="269.54" width="1.6" height="1.6" fill="#3b8e3b"/>
<rect x="404.8" y="288.29" width="1.6" height="1.6" fill="#3b8e3b"/>
<rect x="400.3" y="282.8" width="1.6" height="1.6" fill="#3b8e3b"/>
<rect x="400.3" y="234.48" width="1.6" height="1.6" fill="#3b8e3b"/>
<rect x="393.55" y="286.74" width="1.6" height="1.6" fill="#3b8e3b"/>
<rect x="404.8" y="281.74" width="1.6" height="1.6" fill="#3b8e3b"/>
<rect x="395.8" y="251.82" width="1.6" height="1.6" fill="#3b8e3b"/>
<rect x="398.05" y="248.62" width="1.6" height="1.6" fill="#3b8e3b"/>
<rect x="402.55" y="261.48" width="1.6" height="1.6" fill="#3b8e3b"/>
<rect x="398.05" y="262.76" width="1.6" height="1.6" fill="#3b8e3b"/>
<rect x="393.55" y="283.52" width="1.6" height="1.6" fill="#3b8e3b"/>
<rect x="391.3" y="277.83" width="1.6" height="1.6" fill="#3b8e3b"/>
<rect x="404.8" y="261.79" width="1.6" height="1.6" fill="#3b8e3b"/>
<rect x="393.55" y="292.07" width="1.6" height="1.6" fill="#3b8e3b"/>
<rect x="404.8" y="291.11" width="1.6" height="1.6" fill="#3b8e3b"/>
<rect x="402.55" y="283.42" width="1.6" height="1.6" fill="#3b8e3b"/>
<rect x="402.55" y="272.46" width="1.6" height="1.6" fill="#3b8e3b"/>
<rect x="404.8" y="278.66" width="1.6" height="1.6" fill="#3b8e3b"/>
<rect x="395.8" y="254.64" width="1.6" height="1.6" fill="#3b8e3b"/>
<rect x="404.8" y="267.43" width="1.6" height="1.6" fill="#3b8e3b"/>
<rect x="395.8" y="273.49" width="1.6" height="1.6" fill="#3b8e3b"/>
<rect x="395.8" y="270.85" width="1.6" height="1.6" fill="#3b8e3b"/>
<rect x="395.8" y="278.87" width="1.6" height="1.6" fill="#3b8e3b"/>
<rect x="398.05" y="284.71" width="1.6" height="1.6" fill="#3b8e3b"/>
<rect x="402.55" y="280.84" width="1.6" height="1.6" fill="#3b8e3b"/>
<rect x="398.05" y="265.86" width="1.6" height="1.6" fill="#3b8e3b"/>
<rect x="400.3" y="279.93" width="1.6" height="1.6" fill="#3b8e3b"/>
<rect x="400.3" y="274.67" width="1.6" height="1.6" fill="#3b8e3b"/>
<rect x="398.05" y="276.59" width="1.6" height="1.6" fill="#3b8e3b"/>
<rect x="395.8" y="265.14" width="1.6" height="1.6" fill="#3b8e3b"/>
<rect x="404.8" y="259.15" width="1.6" height="1.6" fill="#3b8e3b"/>
<rect x="398.05" y="256.89" width="1.6" height="1.6" fill="#3b8e3b"/>
<rect x="402.55" y="264.38" width="1.6" height="1.6" fill="#3b8e3b"/>
<rect x="404.8" y="272.96" width="1.6" height="1.6" fill="#3b8e3b"/>
<rect x="402.55" y="291.91" width="1.6" height="1.6" fill="#3b8e3b"/>
<rect x="400.3" y="261.04" width="1.6" height="1.6" fill="#3b8e3b"/>
<rect x="409.3" y="275.98" width="1.6" height="1.6" fill="#3b8e3b"/>
<rect x="409.3" y="282.24" width="1.6" height="1.6" fill="#3b8e3b"/>
<rect x="400.3" y="290.65" width="1.6" height="1.6" fill="#3b8e3b"/>
<rect x="398.05" y="290.26" width="1.6" height="1.6" fill="#3b8e3b"/>
<rect x="400.3" y="252.77" width="1.6" height="1.6" fill="#3b8e3b"/>
<rect x="395.8" y="292.63" width="1.6" height="1.6" fill="#3b8e3b"/>
<rect x="400.3" y="258.47" width="1.6" height="1.6" fill="#3b8e3b"/>
<rect x="400.3" y="287.99" width="1.6" height="1.6" fill="#3b8e3b"/>
<rect x="402.55" y="269.74" width="1.6" height="1.6" fill="#3b8e3b"/>
<rect x="395.8" y="289.77" width="1.6" height="1.6" fill="#3b8e3b"/>
<rect x="402.55" y="278.15" width="1.6" height="1.6" fill="#3b8e3b"/>
<rect x="398.05" y="287.56" width="1.6" height="1.6" fill="#3b8e3b"/>
<rect x="404.8" y="270.41" width="1.6" height="1.6" fill="#3b8e3b"/>
<rect x="398.05" y="236.63" width="1.6" height="1.6" fill="#3b8e3b"/>
<rect x="398.05" y="241.02" width="1.6" height="1.6" fill="#3b8e3b"/>
<rect x="404.8" y="285.12" width="1.6" height="1.6" fill="#3b8e3b"/>
<rect x="395.8" y="284.28" width="1.6" height="1.6" fill="#3b8e3b"/>
<rect x="400.3" y="249.9" width="1.6" height="1.6" fill="#3b8e3b"/>
<rect x="402.55" y="275.37" width="1.6" height="1.6" fill="#3b8e3b"/>
<rect x="404.8" y="256.17" width="1.6" height="1.6" fill="#3b8e3b"/>
<rect x="400.3" y="239.19" width="1.6" height="1.6" fill="#3b8e3b"/>
<rect x="407.05" y="263.14" width="1.6" height="1.6" fill="#3b8e3b"/>
<rect x="400.3" y="255.81" width="1.6" height="1.6" fill="#3b8e3b"/>
<rect x="402.55" y="245.29" width="1.6" height="1.6" fill="#3b8e3b"/>
<rect x="398.05" y="260.14" width="1.6" height="1.6" fill="#3b8e3b"/>
<rect x="391.3" y="274.95" width="1.6" height="1.6" fill="#3b8e3b"/>
<rect x="402.55" y="267.05" width="1.6" height="1.6" fill="#3b8e3b"/>
<rect x="398.05" y="273.99" width="1.6" height="1.6" fill="#3b8e3b"/>
<rect x="402.55" y="241.36" width="1.6" height="1.6" fill="#3b8e3b"/>
<rect x="400.3" y="293.29" width="1.6" height="1.6" fill="#3b8e3b"/>
<rect x="400.3" y="285.35" width="1.6" height="1.6" fill="#3b8e3b"/>
<rect x="398.05" y="268.69" width="1.6" height="1.6" fill="#3b8e3b"/>
<rect x="400.3" y="277.31" width="1.6" height="1.6" fill="#3b8e3b"/>
<rect x="407.05" y="277.53" width="1.6" height="1.6" fill="#3b8e3b"/>
<rect x="395.8" y="287.02" width="1.6" height="1.6" fill="#3b8e3b"/>
<rect x="400.3" y="266.81" width="1.6" height="1.6" fill="#3b8e3b"/>
<rect x="398.05" y="251.27" width="1.6" height="1.6" fill="#3b8e3b"/>
<rect x="395.8" y="262.42" width="1.6" height="1.6" fill="#3b8e3b"/>
<rect x="402.55" y="254.38" width="1.6" height="1.6" fill="#3b8e3b"/>
<rect x="402.55" y="286.41" width="1.6" height="1.6" fill="#3b8e3b"/>
<rect x="393.55" y="280.19" width="1.6" height="1.6" fill="#3b8e3b"/>
<rect x="398.05" y="271.28" width="1.6" height="1.6" fill="#3b8e3b"/>
<rect x="400.3" y="247.02" width="1.6" height="1.6" fill="#3b8e3b"/>
<rect x="393.55" y="273.62" width="1.6" height="1.6" fill="#3b8e3b"/>
<rect x="398.05" y="279.43" width="1.6" height="1.6" fill="#3b8e3b"/>
<rect x="402.55" y="250.58" width="1.6" height="1.6" fill="#3b8e3b"/>
<rect x="402.55" y="289.21" width="1.6" height="1.6" fill="#3b8e3b"/>
<rect x="393.55" y="269.13" width="1.6" height="1.6" fill="#3b8e3b"/>
<rect x="404.8" y="264.88" width="1.6" height="1.6" fill="#3b8e3b"/>
<rect x="391.3" y="280.95" width="1.6" height="1.6" fill="#3b8e3b"/>
<rect x="398.05" y="253.78" width="1.6" height="1.6" fill="#3b8e3b"/>
<rect x="407.05" y="291.46" width="1.6" height="1.6" fill="#3b8e3b"/>
<rect x="407.05" y="280.51" width="1.6" height="1.6" fill="#3b8e3b"/>
<rect x="404.8" y="275.75" width="1.6" height="1.6" fill="#3b8e3b"/>
<rect x="395.8" y="268.12" width="1.6" height="1.6" fill="#3b8e3b"/>
<rect x="407.05" y="266.17" width="1.6" height="1.6" fill="#3b8e3b"/>
<rect x="400.3" y="243.51" width="1.6" height="1.6" fill="#3b8e3b"/>
<rect x="407.05" y="285.69" width="1.6" height="1.6" fill="#3b8e3b"/>
<rect x="400.3" y="263.7" width="1.6" height="1.6" fill="#3b8e3b"/>
<rect x="409.3" y="279.08" width="1.6" height="1.6" fill="#3b8e3b"/>
<rect x="407.05" y="288.61" width="1.6" height="1.6" fill="#3b8e3b"/>
<rect x="400.3" y="215.4" width="1.6" height="1.6" fill="#3b8e3b"/>
<rect x="395.8" y="276.28" width="1.6" height="1.6" fill="#3b8e3b"/>
<rect x="402.55" y="258.03" width="1.6" height="1.6" fill="#3b8e3b"/>
<rect x="407.05" y="274.45" width="1.6" height="1.6" fill="#3b8e3b"/>
<rect x="400.3" y="272.07" width="1.6" height="1.6" fill="#3b8e3b"/>
<line x1="401.5" y1="262.06" x2="401.5" y2="281.1" stroke="#3b8e3b" stroke-width="0.8"/>
<line x1="396.6" y1="262.5" x2="405.6" y2="262.5" stroke="#3b8e3b" stroke-width="0.8"/>
<line x1="396.6" y1="281.5" x2="405.6" y2="281.5" stroke="#3b8e3b" stroke-width="0.8"/>
<line x1="391.85" y1="274.5" x2="410.35" y2="274.5" stroke="#222" stroke-width="1.1"/>
<rect x="424.3" y="276.07" width="1.6" height="1.6" fill="#3a88c4"/>
<rect x="424.3" y="251.98" width="1.6" height="1.6" fill="#3a88c4"/>
<rect x="432.1" y="289.72" width="1.6" height="1.6" fill="#3a88c4"/>
<rect x="424.3" y="269.52" width="1.6" height="1.6" fill="#3a88c4"/>
<rect x="428.2" y="277.7" width="1.6" height="1.6" fill="#3a88c4"/>
<rect x="424.3" y="284.77" width="1.6" height="1.6" fill="#3a88c4"/>
<rect x="428.2" y="259.25" width="1.6" height="1.6" fill="#3a88c4"/>
<rect x="428.2" y="273.82" width="1.6" height="1.6" fill="#3a88c4"/>
<rect x="428.2" y="268" width="1.6" height="1.6" fill="#3a88c4"/>
<rect x="428.2" y="251.24" width="1.6" height="1.6" fill="#3a88c4"/>
<rect x="432.1" y="280.08" width="1.6" height="1.6" fill="#3a88c4"/>
<rect x="428.2" y="241.93" width="1.6" height="1.6" fill="#3a88c4"/>
<rect x="428.2" y="247.18" width="1.6" height="1.6" fill="#3a88c4"/>
<rect x="424.3" y="289.87" width="1.6" height="1.6" fill="#3a88c4"/>
<rect x="424.3" y="261.59" width="1.6" height="1.6" fill="#3a88c4"/>
<rect x="428.2" y="282.37" width="1.6" height="1.6" fill="#3a88c4"/>
<rect x="432.1" y="253.31" width="1.6" height="1.6" fill="#3a88c4"/>
<rect x="428.2" y="288.66" width="1.6" height="1.6" fill="#3a88c4"/>
<line x1="429.5" y1="253.82" x2="429.5" y2="281.96" stroke="#3a88c4" stroke-width="0.8"/>
<line x1="424.5" y1="253.5" x2="433.5" y2="253.5" stroke="#3a88c4" stroke-width="0.8"/>
<line x1="424.5" y1="281.5" x2="433.5" y2="281.5" stroke="#3a88c4" stroke-width="0.8"/>
<line x1="419.75" y1="273.5" x2="438.25" y2="273.5" stroke="#222" stroke-width="1.1"/>
<rect x="451.4" y="267.26" width="1.6" height="1.6" fill="#3b8e3b"/>
<rect x="455.3" y="213.7" width="1.6" height="1.6" fill="#3b8e3b"/>
<rect x="455.3" y="248.78" width="1.6" height="1.6" fill="#3b8e3b"/>
<rect x="455.3" y="274.92" width="1.6" height="1.6" fill="#3b8e3b"/>
<rect x="455.3" y="282.8" width="1.6" height="1.6" fill="#3b8e3b"/>
<rect x="455.3" y="230.56" width="1.6" height="1.6" fill="#3b8e3b"/>
<rect x="455.3" y="242.33" width="1.6" height="1.6" fill="#3b8e3b"/>
<rect x="455.3" y="237.42" width="1.6" height="1.6" fill="#3b8e3b"/>
<rect x="459.2" y="284.99" width="1.6" height="1.6" fill="#3b8e3b"/>
<rect x="455.3" y="254.77" width="1.6" height="1.6" fill="#3b8e3b"/>
<rect x="455.3" y="271.1" width="1.6" height="1.6" fill="#3b8e3b"/>
<rect x="451.4" y="260.09" width="1.6" height="1.6" fill="#3b8e3b"/>
<rect x="451.4" y="272.15" width="1.6" height="1.6" fill="#3b8e3b"/>
<rect x="451.4" y="263.95" width="1.6" height="1.6" fill="#3b8e3b"/>
<rect x="455.3" y="251.37" width="1.6" height="1.6" fill="#3b8e3b"/>
<rect x="459.2" y="292.32" width="1.6" height="1.6" fill="#3b8e3b"/>
<rect x="459.2" y="268.83" width="1.6" height="1.6" fill="#3b8e3b"/>
<rect x="451.4" y="253.18" width="1.6" height="1.6" fill="#3b8e3b"/>
<rect x="451.4" y="256.83" width="1.6" height="1.6" fill="#3b8e3b"/>
<rect x="451.4" y="249.57" width="1.6" height="1.6" fill="#3b8e3b"/>
<rect x="459.2" y="281.29" width="1.6" height="1.6" fill="#3b8e3b"/>
<rect x="459.2" y="255.65" width="1.6" height="1.6" fill="#3b8e3b"/>
<rect x="455.3" y="261.93" width="1.6" height="1.6" fill="#3b8e3b"/>
<rect x="455.3" y="294.23" width="1.6" height="1.6" fill="#3b8e3b"/>
<rect x="455.3" y="234.19" width="1.6" height="1.6" fill="#3b8e3b"/>
<rect x="455.3" y="286.54" width="1.6" height="1.6" fill="#3b8e3b"/>
<rect x="455.3" y="245.61" width="1.6" height="1.6" fill="#3b8e3b"/>
<rect x="451.4" y="244.38" width="1.6" height="1.6" fill="#3b8e3b"/>
<rect x="451.4" y="289.01" width="1.6" height="1.6" fill="#3b8e3b"/>
<rect x="459.2" y="247.56" width="1.6" height="1.6" fill="#3b8e3b"/>
<rect x="455.3" y="290.74" width="1.6" height="1.6" fill="#3b8e3b"/>
<rect x="459.2" y="275.51" width="1.6" height="1.6" fill="#3b8e3b"/>
<rect x="455.3" y="279.5" width="1.6" height="1.6" fill="#3b8e3b"/>
<rect x="451.4" y="239.25" width="1.6" height="1.6" fill="#3b8e3b"/>
<rect x="451.4" y="277.16" width="1.6" height="1.6" fill="#3b8e3b"/>
<rect x="459.2" y="239.88" width="1.6" height="1.6" fill="#3b8e3b"/>
<rect x="455.3" y="259.15" width="1.6" height="1.6" fill="#3b8e3b"/>
<rect x="451.4" y="283.05" width="1.6" height="1.6" fill="#3b8e3b"/>
<rect x="455.3" y="266.86" width="1.6" height="1.6" fill="#3b8e3b"/>
<rect x="459.2" y="288.38" width="1.6" height="1.6" fill="#3b8e3b"/>
<rect x="459.2" y="263.05" width="1.6" height="1.6" fill="#3b8e3b"/>
<rect x="451.4" y="232.93" width="1.6" height="1.6" fill="#3b8e3b"/>
<line x1="456.5" y1="247.66" x2="456.5" y2="280.54" stroke="#3b8e3b" stroke-width="0.8"/>
<line x1="451.6" y1="247.5" x2="460.6" y2="247.5" stroke="#3b8e3b" stroke-width="0.8"/>
<line x1="451.6" y1="280.5" x2="460.6" y2="280.5" stroke="#3b8e3b" stroke-width="0.8"/>
<line x1="446.85" y1="263.5" x2="465.35" y2="263.5" stroke="#222" stroke-width="1.1"/>
<text x="13.1" y="363.83" font-size="11.6" font-weight="bold" fill="#111" text-anchor="middle">C</text>
<line x1="43.5" y1="368.4" x2="43.5" y2="484.3" stroke="#2b2b2b" stroke-width="1"/>
<line x1="40.7" y1="483.5" x2="43.7" y2="483.5" stroke="#2b2b2b" stroke-width="1"/>
<text x="37.3" y="486.12" font-size="7" fill="#2a2a2a" text-anchor="end">0</text>
<line x1="40.7" y1="461.5" x2="43.7" y2="461.5" stroke="#2b2b2b" stroke-width="1"/>
<text x="37.3" y="463.64" font-size="7" fill="#2a2a2a" text-anchor="end">20</text>
<line x1="40.7" y1="438.5" x2="43.7" y2="438.5" stroke="#2b2b2b" stroke-width="1"/>
<text x="37.3" y="441.16" font-size="7" fill="#2a2a2a" text-anchor="end">40</text>
<line x1="40.7" y1="416.5" x2="43.7" y2="416.5" stroke="#2b2b2b" stroke-width="1"/>
<text x="37.3" y="418.68" font-size="7" fill="#2a2a2a" text-anchor="end">60</text>
<line x1="40.7" y1="393.5" x2="43.7" y2="393.5" stroke="#2b2b2b" stroke-width="1"/>
<text x="37.3" y="396.2" font-size="7" fill="#2a2a2a" text-anchor="end">80</text>
<line x1="40.7" y1="371.5" x2="43.7" y2="371.5" stroke="#2b2b2b" stroke-width="1"/>
<text x="37.3" y="373.72" font-size="7" fill="#2a2a2a" text-anchor="end">100</text>
<line x1="43.2" y1="483.5" x2="252.8" y2="483.5" stroke="#2b2b2b" stroke-width="1"/>
<line x1="51.5" y1="483.8" x2="51.5" y2="486.3" stroke="#2b2b2b" stroke-width="1"/>
<line x1="62.5" y1="483.8" x2="62.5" y2="486.3" stroke="#2b2b2b" stroke-width="1"/>
<line x1="74.5" y1="483.8" x2="74.5" y2="486.3" stroke="#2b2b2b" stroke-width="1"/>
<line x1="85.5" y1="483.8" x2="85.5" y2="486.3" stroke="#2b2b2b" stroke-width="1"/>
<line x1="97.5" y1="483.8" x2="97.5" y2="486.3" stroke="#2b2b2b" stroke-width="1"/>
<line x1="108.5" y1="483.8" x2="108.5" y2="486.3" stroke="#2b2b2b" stroke-width="1"/>
<line x1="119.5" y1="483.8" x2="119.5" y2="486.3" stroke="#2b2b2b" stroke-width="1"/>
<line x1="131.5" y1="483.8" x2="131.5" y2="486.3" stroke="#2b2b2b" stroke-width="1"/>
<line x1="142.5" y1="483.8" x2="142.5" y2="486.3" stroke="#2b2b2b" stroke-width="1"/>
<line x1="154.5" y1="483.8" x2="154.5" y2="486.3" stroke="#2b2b2b" stroke-width="1"/>
<line x1="165.5" y1="483.8" x2="165.5" y2="486.3" stroke="#2b2b2b" stroke-width="1"/>
<line x1="177.5" y1="483.8" x2="177.5" y2="486.3" stroke="#2b2b2b" stroke-width="1"/>
<line x1="188.5" y1="483.8" x2="188.5" y2="486.3" stroke="#2b2b2b" stroke-width="1"/>
<line x1="199.5" y1="483.8" x2="199.5" y2="486.3" stroke="#2b2b2b" stroke-width="1"/>
<line x1="211.5" y1="483.8" x2="211.5" y2="486.3" stroke="#2b2b2b" stroke-width="1"/>
<line x1="222.5" y1="483.8" x2="222.5" y2="486.3" stroke="#2b2b2b" stroke-width="1"/>
<line x1="234.5" y1="483.8" x2="234.5" y2="486.3" stroke="#2b2b2b" stroke-width="1"/>
<line x1="245.5" y1="483.8" x2="245.5" y2="486.3" stroke="#2b2b2b" stroke-width="1"/>
<text x="19.9" y="496.65" font-size="6.8" font-weight="normal" fill="#2a2a2a" textLength="20.2" lengthAdjust="spacingAndGlyphs">HLA-C</text>
<text x="57.02" y="496.65" font-size="6.8" font-weight="normal" fill="#2a2a2a" text-anchor="middle" textLength="20.2" lengthAdjust="spacingAndGlyphs">C1/C1</text>
<text x="79.88" y="496.65" font-size="6.8" font-weight="normal" fill="#2a2a2a" text-anchor="middle" textLength="20.2" lengthAdjust="spacingAndGlyphs">C1/C2</text>
<text x="102.73" y="496.65" font-size="6.8" font-weight="normal" fill="#2a2a2a" text-anchor="middle" textLength="20.2" lengthAdjust="spacingAndGlyphs">C2/C2</text>
<text x="125.59" y="496.65" font-size="6.8" font-weight="normal" fill="#2a2a2a" text-anchor="middle" textLength="20.2" lengthAdjust="spacingAndGlyphs">C1/C1</text>
<text x="148.46" y="496.65" font-size="6.8" font-weight="normal" fill="#2a2a2a" text-anchor="middle" textLength="20.2" lengthAdjust="spacingAndGlyphs">C1/C2</text>
<text x="171.31" y="496.65" font-size="6.8" font-weight="normal" fill="#2a2a2a" text-anchor="middle" textLength="20.2" lengthAdjust="spacingAndGlyphs">C2/C2</text>
<text x="194.17" y="496.65" font-size="6.8" font-weight="normal" fill="#2a2a2a" text-anchor="middle" textLength="20.2" lengthAdjust="spacingAndGlyphs">C1/C1</text>
<text x="217.03" y="496.65" font-size="6.8" font-weight="normal" fill="#2a2a2a" text-anchor="middle" textLength="20.2" lengthAdjust="spacingAndGlyphs">C1/C2</text>
<text x="239.9" y="496.65" font-size="6.8" font-weight="normal" fill="#2a2a2a" text-anchor="middle" textLength="20.2" lengthAdjust="spacingAndGlyphs">C2/C2</text>
<line x1="50" y1="503.5" x2="110.35" y2="503.5" stroke="#333" stroke-width="1"/>
<text class="g" x="80.17" y="514.6" font-size="8.6" font-weight="normal" fill="#1a1a1a" text-anchor="middle" textLength="43.8" lengthAdjust="spacingAndGlyphs">NKG2A 440C/C</text>
<line x1="118.58" y1="503.5" x2="178.93" y2="503.5" stroke="#333" stroke-width="1"/>
<text class="g" x="148.75" y="514.6" font-size="8.6" font-weight="normal" fill="#1a1a1a" text-anchor="middle" textLength="43.8" lengthAdjust="spacingAndGlyphs">NKG2A 440C/T</text>
<line x1="187.16" y1="503.5" x2="247.51" y2="503.5" stroke="#333" stroke-width="1"/>
<text class="g" x="217.33" y="514.6" font-size="8.6" font-weight="normal" fill="#1a1a1a" text-anchor="middle" textLength="43.8" lengthAdjust="spacingAndGlyphs">NKG2A 440T/T</text>
<text class="v" transform="translate(17.91,426.45) rotate(-90)" x="0" y="0" font-size="7.8" fill="#2a2a2a" text-anchor="middle" textLength="86.5" lengthAdjust="spacingAndGlyphs">Frequency of NKG2A<tspan font-size="4.5" dy="-2.2">+</tspan><tspan dy="2.2"> NK cells</tspan></text>
<line x1="60.8" y1="370.5" x2="109.2" y2="370.5" stroke="#3a3a3a" stroke-width="1"/>
<text x="84.6" y="370.86" font-size="7" fill="#2a2a2a" text-anchor="middle">*</text>
<line x1="50.7" y1="382.5" x2="99.7" y2="382.5" stroke="#3a3a3a" stroke-width="1"/>
<text x="75.5" y="383.26" font-size="7" fill="#2a2a2a" text-anchor="middle">*</text>
<circle cx="222.8" cy="369.8" r="0.9" fill="#3a88c4"/>
<circle cx="222.8" cy="380.6" r="0.9" fill="#3b8e3b"/>
<text x="227.1" y="372.54" font-size="7.6" font-weight="normal" fill="#2a2a2a" textLength="23.7" lengthAdjust="spacingAndGlyphs">HCMV&#8722;</text>
<text x="227.1" y="383.34" font-size="7.6" font-weight="normal" fill="#2a2a2a" textLength="23.7" lengthAdjust="spacingAndGlyphs">HCMV+</text>
<rect x="50.55" y="398.75" width="1.5" height="1.5" fill="#3a88c4"/>
<rect x="50.55" y="413.25" width="1.5" height="1.5" fill="#3a88c4"/>
<rect x="50.55" y="416.25" width="1.5" height="1.5" fill="#3a88c4"/>
<rect x="53.45" y="417.25" width="1.5" height="1.5" fill="#3a88c4"/>
<rect x="47.65" y="417.75" width="1.5" height="1.5" fill="#3a88c4"/>
<rect x="50.55" y="420.25" width="1.5" height="1.5" fill="#3a88c4"/>
<rect x="50.55" y="423.75" width="1.5" height="1.5" fill="#3a88c4"/>
<rect x="50.55" y="427.75" width="1.5" height="1.5" fill="#3a88c4"/>
<line x1="51.5" y1="422" x2="51.5" y2="414" stroke="#3a88c4" stroke-width="0.8"/>
<line x1="48.8" y1="422.5" x2="53.8" y2="422.5" stroke="#3a88c4" stroke-width="0.8"/>
<line x1="48.8" y1="414.5" x2="53.8" y2="414.5" stroke="#3a88c4" stroke-width="0.8"/>
<line x1="47.3" y1="418.5" x2="55.3" y2="418.5" stroke="#1e2a33" stroke-width="1.2"/>
<rect x="61.98" y="394.75" width="1.5" height="1.5" fill="#3b8e3b"/>
<rect x="61.98" y="404.75" width="1.5" height="1.5" fill="#3b8e3b"/>
<rect x="61.98" y="408.25" width="1.5" height="1.5" fill="#3b8e3b"/>
<rect x="61.98" y="420.25" width="1.5" height="1.5" fill="#3b8e3b"/>
<rect x="59.08" y="421.25" width="1.5" height="1.5" fill="#3b8e3b"/>
<rect x="61.98" y="445.25" width="1.5" height="1.5" fill="#3b8e3b"/>
<rect x="61.98" y="448.75" width="1.5" height="1.5" fill="#3b8e3b"/>
<rect x="61.98" y="452.25" width="1.5" height="1.5" fill="#3b8e3b"/>
<rect x="64.88" y="453.25" width="1.5" height="1.5" fill="#3b8e3b"/>
<line x1="62.5" y1="435" x2="62.5" y2="421" stroke="#3b8e3b" stroke-width="0.8"/>
<line x1="60.23" y1="435.5" x2="65.23" y2="435.5" stroke="#3b8e3b" stroke-width="0.8"/>
<line x1="60.23" y1="421.5" x2="65.23" y2="421.5" stroke="#3b8e3b" stroke-width="0.8"/>
<line x1="58.73" y1="428.5" x2="66.73" y2="428.5" stroke="#1f3320" stroke-width="1.2"/>
<rect x="73.41" y="385.65" width="1.5" height="1.5" fill="#3a88c4"/>
<rect x="73.41" y="396.15" width="1.5" height="1.5" fill="#3a88c4"/>
<rect x="73.41" y="400.35" width="1.5" height="1.5" fill="#3a88c4"/>
<rect x="73.41" y="404.95" width="1.5" height="1.5" fill="#3a88c4"/>
<rect x="73.41" y="408.55" width="1.5" height="1.5" fill="#3a88c4"/>
<rect x="76.31" y="410.35" width="1.5" height="1.5" fill="#3a88c4"/>
<rect x="73.41" y="412.85" width="1.5" height="1.5" fill="#3a88c4"/>
<rect x="73.41" y="417.55" width="1.5" height="1.5" fill="#3a88c4"/>
<rect x="73.41" y="422.15" width="1.5" height="1.5" fill="#3a88c4"/>
<rect x="73.41" y="426.35" width="1.5" height="1.5" fill="#3a88c4"/>
<line x1="74.5" y1="413.5" x2="74.5" y2="405" stroke="#3a88c4" stroke-width="0.8"/>
<line x1="71.66" y1="413.5" x2="76.66" y2="413.5" stroke="#3a88c4" stroke-width="0.8"/>
<line x1="71.66" y1="405.5" x2="76.66" y2="405.5" stroke="#3a88c4" stroke-width="0.8"/>
<line x1="70.16" y1="409.5" x2="78.16" y2="409.5" stroke="#1e2a33" stroke-width="1.2"/>
<rect x="84.84" y="390.95" width="1.5" height="1.5" fill="#3b8e3b"/>
<rect x="84.84" y="393.25" width="1.5" height="1.5" fill="#3b8e3b"/>
<rect x="82.64" y="394.95" width="1.5" height="1.5" fill="#3b8e3b"/>
<rect x="84.84" y="401.35" width="1.5" height="1.5" fill="#3b8e3b"/>
<rect x="84.84" y="404.25" width="1.5" height="1.5" fill="#3b8e3b"/>
<rect x="87.04" y="404.75" width="1.5" height="1.5" fill="#3b8e3b"/>
<rect x="82.64" y="405.25" width="1.5" height="1.5" fill="#3b8e3b"/>
<rect x="89.24" y="405.65" width="1.5" height="1.5" fill="#3b8e3b"/>
<rect x="84.84" y="412.15" width="1.5" height="1.5" fill="#3b8e3b"/>
<rect x="87.04" y="413.55" width="1.5" height="1.5" fill="#3b8e3b"/>
<rect x="84.84" y="414.95" width="1.5" height="1.5" fill="#3b8e3b"/>
<rect x="82.64" y="416.65" width="1.5" height="1.5" fill="#3b8e3b"/>
<rect x="84.84" y="417.75" width="1.5" height="1.5" fill="#3b8e3b"/>
<rect x="87.04" y="419.25" width="1.5" height="1.5" fill="#3b8e3b"/>
<rect x="84.84" y="421.85" width="1.5" height="1.5" fill="#3b8e3b"/>
<rect x="84.84" y="428.25" width="1.5" height="1.5" fill="#3b8e3b"/>
<rect x="87.04" y="429.25" width="1.5" height="1.5" fill="#3b8e3b"/>
<rect x="82.64" y="429.95" width="1.5" height="1.5" fill="#3b8e3b"/>
<rect x="84.84" y="441.85" width="1.5" height="1.5" fill="#3b8e3b"/>
<rect x="82.64" y="442.75" width="1.5" height="1.5" fill="#3b8e3b"/>
<rect x="87.04" y="443.75" width="1.5" height="1.5" fill="#3b8e3b"/>
<rect x="84.84" y="444.95" width="1.5" height="1.5" fill="#3b8e3b"/>
<rect x="84.84" y="452.15" width="1.5" height="1.5" fill="#3b8e3b"/>
<line x1="85.5" y1="424.5" x2="85.5" y2="416" stroke="#3b8e3b" stroke-width="0.8"/>
<line x1="83.09" y1="424.5" x2="88.09" y2="424.5" stroke="#3b8e3b" stroke-width="0.8"/>
<line x1="83.09" y1="416.5" x2="88.09" y2="416.5" stroke="#3b8e3b" stroke-width="0.8"/>
<line x1="81.59" y1="420.5" x2="89.59" y2="420.5" stroke="#1f3320" stroke-width="1.2"/>
<rect x="96.27" y="391.85" width="1.5" height="1.5" fill="#3a88c4"/>
<rect x="96.27" y="396.35" width="1.5" height="1.5" fill="#3a88c4"/>
<rect x="96.27" y="399.95" width="1.5" height="1.5" fill="#3a88c4"/>
<rect x="96.27" y="403.55" width="1.5" height="1.5" fill="#3a88c4"/>
<rect x="96.27" y="406.65" width="1.5" height="1.5" fill="#3a88c4"/>
<rect x="96.27" y="409.95" width="1.5" height="1.5" fill="#3a88c4"/>
<line x1="97.5" y1="406.5" x2="97.5" y2="398.5" stroke="#3a88c4" stroke-width="0.8"/>
<line x1="94.52" y1="406.5" x2="99.52" y2="406.5" stroke="#3a88c4" stroke-width="0.8"/>
<line x1="94.52" y1="398.5" x2="99.52" y2="398.5" stroke="#3a88c4" stroke-width="0.8"/>
<line x1="93.02" y1="402.5" x2="101.02" y2="402.5" stroke="#1e2a33" stroke-width="1.2"/>
<rect x="107.7" y="385.65" width="1.5" height="1.5" fill="#3b8e3b"/>
<rect x="104.8" y="387.85" width="1.5" height="1.5" fill="#3b8e3b"/>
<rect x="107.7" y="401.35" width="1.5" height="1.5" fill="#3b8e3b"/>
<rect x="110.6" y="403.25" width="1.5" height="1.5" fill="#3b8e3b"/>
<rect x="107.7" y="406.35" width="1.5" height="1.5" fill="#3b8e3b"/>
<rect x="104.8" y="407.85" width="1.5" height="1.5" fill="#3b8e3b"/>
<rect x="107.7" y="409.25" width="1.5" height="1.5" fill="#3b8e3b"/>
<rect x="104.8" y="410.25" width="1.5" height="1.5" fill="#3b8e3b"/>
<rect x="110.6" y="411.25" width="1.5" height="1.5" fill="#3b8e3b"/>
<rect x="107.7" y="412.25" width="1.5" height="1.5" fill="#3b8e3b"/>
<rect x="104.8" y="413.55" width="1.5" height="1.5" fill="#3b8e3b"/>
<rect x="107.7" y="417.15" width="1.5" height="1.5" fill="#3b8e3b"/>
<rect x="107.7" y="424.25" width="1.5" height="1.5" fill="#3b8e3b"/>
<rect x="107.7" y="432.85" width="1.5" height="1.5" fill="#3b8e3b"/>
<rect x="110.6" y="433.55" width="1.5" height="1.5" fill="#3b8e3b"/>
<line x1="108.5" y1="415" x2="108.5" y2="408" stroke="#3b8e3b" stroke-width="0.8"/>
<line x1="105.95" y1="415.5" x2="110.95" y2="415.5" stroke="#3b8e3b" stroke-width="0.8"/>
<line x1="105.95" y1="408.5" x2="110.95" y2="408.5" stroke="#3b8e3b" stroke-width="0.8"/>
<line x1="104.45" y1="411.5" x2="112.45" y2="411.5" stroke="#1f3320" stroke-width="1.2"/>
<rect x="119.13" y="402.95" width="1.5" height="1.5" fill="#3a88c4"/>
<rect x="119.13" y="410.45" width="1.5" height="1.5" fill="#3a88c4"/>
<rect x="119.13" y="420.95" width="1.5" height="1.5" fill="#3a88c4"/>
<rect x="119.13" y="424.25" width="1.5" height="1.5" fill="#3a88c4"/>
<rect x="119.13" y="426.95" width="1.5" height="1.5" fill="#3a88c4"/>
<rect x="119.13" y="430.25" width="1.5" height="1.5" fill="#3a88c4"/>
<rect x="119.13" y="462.55" width="1.5" height="1.5" fill="#3a88c4"/>
<line x1="119.5" y1="433.3" x2="119.5" y2="421.3" stroke="#3a88c4" stroke-width="0.8"/>
<line x1="117.38" y1="433.5" x2="122.38" y2="433.5" stroke="#3a88c4" stroke-width="0.8"/>
<line x1="117.38" y1="421.5" x2="122.38" y2="421.5" stroke="#3a88c4" stroke-width="0.8"/>
<line x1="115.88" y1="427.5" x2="123.88" y2="427.5" stroke="#1e2a33" stroke-width="1.2"/>
<rect x="130.56" y="434.61" width="1.5" height="1.5" fill="#3b8e3b"/>
<rect x="130.56" y="409.62" width="1.5" height="1.5" fill="#3b8e3b"/>
<rect x="130.56" y="401.99" width="1.5" height="1.5" fill="#3b8e3b"/>
<rect x="130.56" y="456.55" width="1.5" height="1.5" fill="#3b8e3b"/>
<rect x="130.56" y="420.06" width="1.5" height="1.5" fill="#3b8e3b"/>
<rect x="130.56" y="425.9" width="1.5" height="1.5" fill="#3b8e3b"/>
<rect x="128.36" y="417.3" width="1.5" height="1.5" fill="#3b8e3b"/>
<rect x="128.36" y="421.91" width="1.5" height="1.5" fill="#3b8e3b"/>
<rect x="130.56" y="439.11" width="1.5" height="1.5" fill="#3b8e3b"/>
<rect x="126.16" y="422.26" width="1.5" height="1.5" fill="#3b8e3b"/>
<rect x="132.76" y="420.95" width="1.5" height="1.5" fill="#3b8e3b"/>
<rect x="130.56" y="451.29" width="1.5" height="1.5" fill="#3b8e3b"/>
<rect x="132.76" y="429.07" width="1.5" height="1.5" fill="#3b8e3b"/>
<rect x="130.56" y="398.75" width="1.5" height="1.5" fill="#3b8e3b"/>
<rect x="130.56" y="445.26" width="1.5" height="1.5" fill="#3b8e3b"/>
<rect x="130.56" y="430.93" width="1.5" height="1.5" fill="#3b8e3b"/>
<rect x="128.36" y="424.91" width="1.5" height="1.5" fill="#3b8e3b"/>
<rect x="128.36" y="436.66" width="1.5" height="1.5" fill="#3b8e3b"/>
<rect x="132.76" y="423.81" width="1.5" height="1.5" fill="#3b8e3b"/>
<rect x="132.76" y="418.21" width="1.5" height="1.5" fill="#3b8e3b"/>
<rect x="126.16" y="430.02" width="1.5" height="1.5" fill="#3b8e3b"/>
<rect x="130.56" y="428.28" width="1.5" height="1.5" fill="#3b8e3b"/>
<rect x="128.36" y="427.74" width="1.5" height="1.5" fill="#3b8e3b"/>
<rect x="130.56" y="413.04" width="1.5" height="1.5" fill="#3b8e3b"/>
<rect x="130.56" y="423.09" width="1.5" height="1.5" fill="#3b8e3b"/>
<rect x="130.56" y="448.11" width="1.5" height="1.5" fill="#3b8e3b"/>
<rect x="132.76" y="407.39" width="1.5" height="1.5" fill="#3b8e3b"/>
<rect x="132.76" y="426.51" width="1.5" height="1.5" fill="#3b8e3b"/>
<rect x="132.76" y="440.53" width="1.5" height="1.5" fill="#3b8e3b"/>
<rect x="130.56" y="416" width="1.5" height="1.5" fill="#3b8e3b"/>
<rect x="128.36" y="411.63" width="1.5" height="1.5" fill="#3b8e3b"/>
<rect x="126.16" y="426.85" width="1.5" height="1.5" fill="#3b8e3b"/>
<rect x="128.36" y="432.89" width="1.5" height="1.5" fill="#3b8e3b"/>
<rect x="130.56" y="405.49" width="1.5" height="1.5" fill="#3b8e3b"/>
<line x1="131.5" y1="431.5" x2="131.5" y2="425" stroke="#3b8e3b" stroke-width="0.8"/>
<line x1="128.81" y1="431.5" x2="133.81" y2="431.5" stroke="#3b8e3b" stroke-width="0.8"/>
<line x1="128.81" y1="425.5" x2="133.81" y2="425.5" stroke="#3b8e3b" stroke-width="0.8"/>
<line x1="127.31" y1="428.5" x2="135.31" y2="428.5" stroke="#1f3320" stroke-width="1.2"/>
<rect x="141.99" y="387.55" width="1.5" height="1.5" fill="#3a88c4"/>
<rect x="141.99" y="401.45" width="1.5" height="1.5" fill="#3a88c4"/>
<rect x="144.19" y="401.45" width="1.5" height="1.5" fill="#3a88c4"/>
<rect x="139.79" y="401.45" width="1.5" height="1.5" fill="#3a88c4"/>
<rect x="146.39" y="401.45" width="1.5" height="1.5" fill="#3a88c4"/>
<rect x="141.99" y="408.55" width="1.5" height="1.5" fill="#3a88c4"/>
<rect x="144.19" y="410.75" width="1.5" height="1.5" fill="#3a88c4"/>
<rect x="141.99" y="413.75" width="1.5" height="1.5" fill="#3a88c4"/>
<rect x="141.99" y="418.25" width="1.5" height="1.5" fill="#3a88c4"/>
<rect x="141.99" y="434.85" width="1.5" height="1.5" fill="#3a88c4"/>
<rect x="141.99" y="440.05" width="1.5" height="1.5" fill="#3a88c4"/>
<line x1="142.5" y1="419" x2="142.5" y2="408.5" stroke="#3a88c4" stroke-width="0.8"/>
<line x1="140.24" y1="419.5" x2="145.24" y2="419.5" stroke="#3a88c4" stroke-width="0.8"/>
<line x1="140.24" y1="408.5" x2="145.24" y2="408.5" stroke="#3a88c4" stroke-width="0.8"/>
<line x1="138.74" y1="414.5" x2="146.74" y2="414.5" stroke="#1e2a33" stroke-width="1.2"/>
<rect x="153.42" y="417.99" width="1.5" height="1.5" fill="#3b8e3b"/>
<rect x="153.42" y="404.25" width="1.5" height="1.5" fill="#3b8e3b"/>
<rect x="153.42" y="420.72" width="1.5" height="1.5" fill="#3b8e3b"/>
<rect x="151.22" y="424.92" width="1.5" height="1.5" fill="#3b8e3b"/>
<rect x="155.62" y="400.34" width="1.5" height="1.5" fill="#3b8e3b"/>
<rect x="149.02" y="424.01" width="1.5" height="1.5" fill="#3b8e3b"/>
<rect x="153.42" y="433.25" width="1.5" height="1.5" fill="#3b8e3b"/>
<rect x="153.42" y="436.01" width="1.5" height="1.5" fill="#3b8e3b"/>
<rect x="153.42" y="438.48" width="1.5" height="1.5" fill="#3b8e3b"/>
<rect x="153.42" y="444.4" width="1.5" height="1.5" fill="#3b8e3b"/>
<rect x="153.42" y="426.2" width="1.5" height="1.5" fill="#3b8e3b"/>
<rect x="155.62" y="415.98" width="1.5" height="1.5" fill="#3b8e3b"/>
<rect x="151.22" y="414.86" width="1.5" height="1.5" fill="#3b8e3b"/>
<rect x="153.42" y="407.38" width="1.5" height="1.5" fill="#3b8e3b"/>
<rect x="153.42" y="410.95" width="1.5" height="1.5" fill="#3b8e3b"/>
<rect x="153.42" y="428.61" width="1.5" height="1.5" fill="#3b8e3b"/>
<rect x="153.42" y="452.85" width="1.5" height="1.5" fill="#3b8e3b"/>
<rect x="153.42" y="448" width="1.5" height="1.5" fill="#3b8e3b"/>
<rect x="153.42" y="423.51" width="1.5" height="1.5" fill="#3b8e3b"/>
<rect x="151.22" y="422.04" width="1.5" height="1.5" fill="#3b8e3b"/>
<rect x="155.62" y="408.82" width="1.5" height="1.5" fill="#3b8e3b"/>
<rect x="153.42" y="413.72" width="1.5" height="1.5" fill="#3b8e3b"/>
<rect x="153.42" y="401.53" width="1.5" height="1.5" fill="#3b8e3b"/>
<rect x="155.62" y="422.7" width="1.5" height="1.5" fill="#3b8e3b"/>
<rect x="155.62" y="427" width="1.5" height="1.5" fill="#3b8e3b"/>
<rect x="153.42" y="441.46" width="1.5" height="1.5" fill="#3b8e3b"/>
<rect x="151.22" y="418.52" width="1.5" height="1.5" fill="#3b8e3b"/>
<rect x="153.42" y="395.75" width="1.5" height="1.5" fill="#3b8e3b"/>
<rect x="151.22" y="429.86" width="1.5" height="1.5" fill="#3b8e3b"/>
<rect x="153.42" y="398.19" width="1.5" height="1.5" fill="#3b8e3b"/>
<line x1="154.5" y1="427" x2="154.5" y2="419.5" stroke="#3b8e3b" stroke-width="0.8"/>
<line x1="151.67" y1="427.5" x2="156.67" y2="427.5" stroke="#3b8e3b" stroke-width="0.8"/>
<line x1="151.67" y1="419.5" x2="156.67" y2="419.5" stroke="#3b8e3b" stroke-width="0.8"/>
<line x1="150.17" y1="423.5" x2="158.17" y2="423.5" stroke="#1f3320" stroke-width="1.2"/>
<rect x="164.85" y="384.05" width="1.5" height="1.5" fill="#3a88c4"/>
<rect x="164.85" y="392.45" width="1.5" height="1.5" fill="#3a88c4"/>
<rect x="164.85" y="404.75" width="1.5" height="1.5" fill="#3a88c4"/>
<rect x="164.85" y="409.25" width="1.5" height="1.5" fill="#3a88c4"/>
<rect x="164.85" y="413.05" width="1.5" height="1.5" fill="#3a88c4"/>
<rect x="164.85" y="416.05" width="1.5" height="1.5" fill="#3a88c4"/>
<rect x="164.85" y="419.75" width="1.5" height="1.5" fill="#3a88c4"/>
<rect x="164.85" y="457.05" width="1.5" height="1.5" fill="#3a88c4"/>
<line x1="165.5" y1="420.8" x2="165.5" y2="405.5" stroke="#3a88c4" stroke-width="0.8"/>
<line x1="163.1" y1="420.5" x2="168.1" y2="420.5" stroke="#3a88c4" stroke-width="0.8"/>
<line x1="163.1" y1="405.5" x2="168.1" y2="405.5" stroke="#3a88c4" stroke-width="0.8"/>
<line x1="161.6" y1="413.5" x2="169.6" y2="413.5" stroke="#1e2a33" stroke-width="1.2"/>
<rect x="176.28" y="407.05" width="1.5" height="1.5" fill="#3b8e3b"/>
<rect x="176.28" y="413.75" width="1.5" height="1.5" fill="#3b8e3b"/>
<rect x="176.28" y="416.75" width="1.5" height="1.5" fill="#3b8e3b"/>
<rect x="176.28" y="419.75" width="1.5" height="1.5" fill="#3b8e3b"/>
<rect x="176.28" y="425.05" width="1.5" height="1.5" fill="#3b8e3b"/>
<rect x="173.38" y="427.25" width="1.5" height="1.5" fill="#3b8e3b"/>
<rect x="176.28" y="428.75" width="1.5" height="1.5" fill="#3b8e3b"/>
<rect x="179.18" y="430.25" width="1.5" height="1.5" fill="#3b8e3b"/>
<rect x="176.28" y="434.85" width="1.5" height="1.5" fill="#3b8e3b"/>
<rect x="176.28" y="447.55" width="1.5" height="1.5" fill="#3b8e3b"/>
<rect x="176.28" y="450.55" width="1.5" height="1.5" fill="#3b8e3b"/>
<rect x="176.28" y="453.55" width="1.5" height="1.5" fill="#3b8e3b"/>
<line x1="177.5" y1="435.6" x2="177.5" y2="425.8" stroke="#3b8e3b" stroke-width="0.8"/>
<line x1="174.53" y1="435.5" x2="179.53" y2="435.5" stroke="#3b8e3b" stroke-width="0.8"/>
<line x1="174.53" y1="425.5" x2="179.53" y2="425.5" stroke="#3b8e3b" stroke-width="0.8"/>
<line x1="173.03" y1="430.5" x2="181.03" y2="430.5" stroke="#1f3320" stroke-width="1.2"/>
<rect x="187.71" y="413.05" width="1.5" height="1.5" fill="#3a88c4"/>
<rect x="187.71" y="424.25" width="1.5" height="1.5" fill="#3a88c4"/>
<rect x="187.71" y="427.25" width="1.5" height="1.5" fill="#3a88c4"/>
<rect x="187.71" y="432.55" width="1.5" height="1.5" fill="#3a88c4"/>
<rect x="187.71" y="440.85" width="1.5" height="1.5" fill="#3a88c4"/>
<rect x="187.71" y="450.55" width="1.5" height="1.5" fill="#3a88c4"/>
<line x1="188.5" y1="442.3" x2="188.5" y2="425" stroke="#3a88c4" stroke-width="0.8"/>
<line x1="185.96" y1="442.5" x2="190.96" y2="442.5" stroke="#3a88c4" stroke-width="0.8"/>
<line x1="185.96" y1="425.5" x2="190.96" y2="425.5" stroke="#3a88c4" stroke-width="0.8"/>
<line x1="184.46" y1="433.5" x2="192.46" y2="433.5" stroke="#1e2a33" stroke-width="1.2"/>
<rect x="199.14" y="458.36" width="1.5" height="1.5" fill="#3b8e3b"/>
<rect x="199.14" y="426.78" width="1.5" height="1.5" fill="#3b8e3b"/>
<rect x="199.14" y="444.67" width="1.5" height="1.5" fill="#3b8e3b"/>
<rect x="199.14" y="450.51" width="1.5" height="1.5" fill="#3b8e3b"/>
<rect x="199.14" y="447.23" width="1.5" height="1.5" fill="#3b8e3b"/>
<rect x="202.04" y="443.39" width="1.5" height="1.5" fill="#3b8e3b"/>
<rect x="199.14" y="441.64" width="1.5" height="1.5" fill="#3b8e3b"/>
<rect x="202.04" y="448.05" width="1.5" height="1.5" fill="#3b8e3b"/>
<rect x="196.24" y="440.4" width="1.5" height="1.5" fill="#3b8e3b"/>
<rect x="199.14" y="467.05" width="1.5" height="1.5" fill="#3b8e3b"/>
<rect x="196.24" y="448.53" width="1.5" height="1.5" fill="#3b8e3b"/>
<rect x="196.24" y="436.28" width="1.5" height="1.5" fill="#3b8e3b"/>
<rect x="199.14" y="452.9" width="1.5" height="1.5" fill="#3b8e3b"/>
<rect x="202.04" y="462.02" width="1.5" height="1.5" fill="#3b8e3b"/>
<rect x="202.04" y="425.84" width="1.5" height="1.5" fill="#3b8e3b"/>
<rect x="199.14" y="430.57" width="1.5" height="1.5" fill="#3b8e3b"/>
<rect x="199.14" y="439" width="1.5" height="1.5" fill="#3b8e3b"/>
<rect x="196.24" y="454.15" width="1.5" height="1.5" fill="#3b8e3b"/>
<rect x="196.24" y="432.35" width="1.5" height="1.5" fill="#3b8e3b"/>
<rect x="196.24" y="445.76" width="1.5" height="1.5" fill="#3b8e3b"/>
<rect x="199.14" y="423.57" width="1.5" height="1.5" fill="#3b8e3b"/>
<rect x="199.14" y="418.55" width="1.5" height="1.5" fill="#3b8e3b"/>
<rect x="199.14" y="460.68" width="1.5" height="1.5" fill="#3b8e3b"/>
<rect x="199.14" y="434.78" width="1.5" height="1.5" fill="#3b8e3b"/>
<rect x="199.14" y="456.04" width="1.5" height="1.5" fill="#3b8e3b"/>
<rect x="202.04" y="437.05" width="1.5" height="1.5" fill="#3b8e3b"/>
<line x1="199.5" y1="449.5" x2="199.5" y2="441" stroke="#3b8e3b" stroke-width="0.8"/>
<line x1="197.39" y1="449.5" x2="202.39" y2="449.5" stroke="#3b8e3b" stroke-width="0.8"/>
<line x1="197.39" y1="441.5" x2="202.39" y2="441.5" stroke="#3b8e3b" stroke-width="0.8"/>
<line x1="195.89" y1="445.5" x2="203.89" y2="445.5" stroke="#1f3320" stroke-width="1.2"/>
<rect x="210.57" y="396.55" width="1.5" height="1.5" fill="#3a88c4"/>
<rect x="210.57" y="416.05" width="1.5" height="1.5" fill="#3a88c4"/>
<rect x="210.57" y="422.75" width="1.5" height="1.5" fill="#3a88c4"/>
<rect x="210.57" y="427.25" width="1.5" height="1.5" fill="#3a88c4"/>
<rect x="210.57" y="430.25" width="1.5" height="1.5" fill="#3a88c4"/>
<rect x="210.57" y="433.25" width="1.5" height="1.5" fill="#3a88c4"/>
<rect x="210.57" y="436.25" width="1.5" height="1.5" fill="#3a88c4"/>
<rect x="210.57" y="439.25" width="1.5" height="1.5" fill="#3a88c4"/>
<rect x="210.57" y="443.85" width="1.5" height="1.5" fill="#3a88c4"/>
<rect x="210.57" y="449.05" width="1.5" height="1.5" fill="#3a88c4"/>
<rect x="210.57" y="452.85" width="1.5" height="1.5" fill="#3a88c4"/>
<line x1="211.5" y1="438.5" x2="211.5" y2="427" stroke="#3a88c4" stroke-width="0.8"/>
<line x1="208.82" y1="438.5" x2="213.82" y2="438.5" stroke="#3a88c4" stroke-width="0.8"/>
<line x1="208.82" y1="427.5" x2="213.82" y2="427.5" stroke="#3a88c4" stroke-width="0.8"/>
<line x1="207.32" y1="432.5" x2="215.32" y2="432.5" stroke="#1e2a33" stroke-width="1.2"/>
<rect x="222" y="393.05" width="1.5" height="1.5" fill="#3b8e3b"/>
<rect x="222" y="410.05" width="1.5" height="1.5" fill="#3b8e3b"/>
<rect x="222" y="415.55" width="1.5" height="1.5" fill="#3b8e3b"/>
<rect x="222" y="422.75" width="1.5" height="1.5" fill="#3b8e3b"/>
<rect x="219.1" y="424.25" width="1.5" height="1.5" fill="#3b8e3b"/>
<rect x="222" y="426.25" width="1.5" height="1.5" fill="#3b8e3b"/>
<rect x="222" y="428.75" width="1.5" height="1.5" fill="#3b8e3b"/>
<rect x="222" y="431.75" width="1.5" height="1.5" fill="#3b8e3b"/>
<rect x="224.9" y="433.25" width="1.5" height="1.5" fill="#3b8e3b"/>
<rect x="222" y="435.25" width="1.5" height="1.5" fill="#3b8e3b"/>
<rect x="224.9" y="437.25" width="1.5" height="1.5" fill="#3b8e3b"/>
<rect x="222" y="439.25" width="1.5" height="1.5" fill="#3b8e3b"/>
<rect x="222" y="442.25" width="1.5" height="1.5" fill="#3b8e3b"/>
<rect x="222" y="446.85" width="1.5" height="1.5" fill="#3b8e3b"/>
<rect x="222" y="456.55" width="1.5" height="1.5" fill="#3b8e3b"/>
<rect x="222" y="462.55" width="1.5" height="1.5" fill="#3b8e3b"/>
<line x1="222.5" y1="443.5" x2="222.5" y2="435" stroke="#3b8e3b" stroke-width="0.8"/>
<line x1="220.25" y1="443.5" x2="225.25" y2="443.5" stroke="#3b8e3b" stroke-width="0.8"/>
<line x1="220.25" y1="435.5" x2="225.25" y2="435.5" stroke="#3b8e3b" stroke-width="0.8"/>
<line x1="218.75" y1="439.5" x2="226.75" y2="439.5" stroke="#1f3320" stroke-width="1.2"/>
<rect x="233.43" y="396.55" width="1.5" height="1.5" fill="#3a88c4"/>
<rect x="233.43" y="413.05" width="1.5" height="1.5" fill="#3a88c4"/>
<rect x="233.43" y="419.75" width="1.5" height="1.5" fill="#3a88c4"/>
<rect x="233.43" y="428.75" width="1.5" height="1.5" fill="#3a88c4"/>
<rect x="233.43" y="442.65" width="1.5" height="1.5" fill="#3a88c4"/>
<line x1="234.5" y1="431.3" x2="234.5" y2="413.3" stroke="#3a88c4" stroke-width="0.8"/>
<line x1="231.68" y1="431.5" x2="236.68" y2="431.5" stroke="#3a88c4" stroke-width="0.8"/>
<line x1="231.68" y1="413.5" x2="236.68" y2="413.5" stroke="#3a88c4" stroke-width="0.8"/>
<line x1="230.18" y1="420.5" x2="238.18" y2="420.5" stroke="#1e2a33" stroke-width="1.2"/>
<rect x="244.86" y="426.05" width="1.5" height="1.5" fill="#3b8e3b"/>
<rect x="244.86" y="437.05" width="1.5" height="1.5" fill="#3b8e3b"/>
<rect x="244.86" y="440.85" width="1.5" height="1.5" fill="#3b8e3b"/>
<rect x="244.86" y="445.25" width="1.5" height="1.5" fill="#3b8e3b"/>
<rect x="244.86" y="449.85" width="1.5" height="1.5" fill="#3b8e3b"/>
<rect x="244.86" y="454.05" width="1.5" height="1.5" fill="#3b8e3b"/>
<rect x="244.86" y="460.35" width="1.5" height="1.5" fill="#3b8e3b"/>
<rect x="244.86" y="468.55" width="1.5" height="1.5" fill="#3b8e3b"/>
<line x1="245.5" y1="452.5" x2="245.5" y2="441" stroke="#3b8e3b" stroke-width="0.8"/>
<line x1="243.11" y1="452.5" x2="248.11" y2="452.5" stroke="#3b8e3b" stroke-width="0.8"/>
<line x1="243.11" y1="441.5" x2="248.11" y2="441.5" stroke="#3b8e3b" stroke-width="0.8"/>
<line x1="241.61" y1="446.5" x2="249.61" y2="446.5" stroke="#1f3320" stroke-width="1.2"/>
<line x1="302.5" y1="368.6" x2="302.5" y2="484.3" stroke="#2b2b2b" stroke-width="1"/>
<line x1="299" y1="483.5" x2="302" y2="483.5" stroke="#2b2b2b" stroke-width="1"/>
<text x="295.6" y="485.92" font-size="7" fill="#2a2a2a" text-anchor="end">0</text>
<line x1="299" y1="446.5" x2="302" y2="446.5" stroke="#2b2b2b" stroke-width="1"/>
<text x="295.6" y="448.55" font-size="7" fill="#2a2a2a" text-anchor="end">2000</text>
<line x1="299" y1="408.5" x2="302" y2="408.5" stroke="#2b2b2b" stroke-width="1"/>
<text x="295.6" y="411.18" font-size="7" fill="#2a2a2a" text-anchor="end">4000</text>
<line x1="299" y1="371.5" x2="302" y2="371.5" stroke="#2b2b2b" stroke-width="1"/>
<text x="295.6" y="373.81" font-size="7" fill="#2a2a2a" text-anchor="end">6000</text>
<line x1="301.5" y1="483.5" x2="508.7" y2="483.5" stroke="#2b2b2b" stroke-width="1"/>
<line x1="309.5" y1="483.8" x2="309.5" y2="486.3" stroke="#2b2b2b" stroke-width="1"/>
<line x1="320.5" y1="483.8" x2="320.5" y2="486.3" stroke="#2b2b2b" stroke-width="1"/>
<line x1="332.5" y1="483.8" x2="332.5" y2="486.3" stroke="#2b2b2b" stroke-width="1"/>
<line x1="343.5" y1="483.8" x2="343.5" y2="486.3" stroke="#2b2b2b" stroke-width="1"/>
<line x1="354.5" y1="483.8" x2="354.5" y2="486.3" stroke="#2b2b2b" stroke-width="1"/>
<line x1="365.5" y1="483.8" x2="365.5" y2="486.3" stroke="#2b2b2b" stroke-width="1"/>
<line x1="377.5" y1="483.8" x2="377.5" y2="486.3" stroke="#2b2b2b" stroke-width="1"/>
<line x1="388.5" y1="483.8" x2="388.5" y2="486.3" stroke="#2b2b2b" stroke-width="1"/>
<line x1="399.5" y1="483.8" x2="399.5" y2="486.3" stroke="#2b2b2b" stroke-width="1"/>
<line x1="411.5" y1="483.8" x2="411.5" y2="486.3" stroke="#2b2b2b" stroke-width="1"/>
<line x1="422.5" y1="483.8" x2="422.5" y2="486.3" stroke="#2b2b2b" stroke-width="1"/>
<line x1="433.5" y1="483.8" x2="433.5" y2="486.3" stroke="#2b2b2b" stroke-width="1"/>
<line x1="444.5" y1="483.8" x2="444.5" y2="486.3" stroke="#2b2b2b" stroke-width="1"/>
<line x1="456.5" y1="483.8" x2="456.5" y2="486.3" stroke="#2b2b2b" stroke-width="1"/>
<line x1="467.5" y1="483.8" x2="467.5" y2="486.3" stroke="#2b2b2b" stroke-width="1"/>
<line x1="478.5" y1="483.8" x2="478.5" y2="486.3" stroke="#2b2b2b" stroke-width="1"/>
<line x1="489.5" y1="483.8" x2="489.5" y2="486.3" stroke="#2b2b2b" stroke-width="1"/>
<line x1="501.5" y1="483.8" x2="501.5" y2="486.3" stroke="#2b2b2b" stroke-width="1"/>
<text x="278.8" y="496.75" font-size="6.8" font-weight="normal" fill="#2a2a2a" textLength="18.7" lengthAdjust="spacingAndGlyphs">HLA-C</text>
<text x="315.14" y="496.75" font-size="6.8" font-weight="normal" fill="#2a2a2a" text-anchor="middle" textLength="19.5" lengthAdjust="spacingAndGlyphs">C1/C1</text>
<text x="337.7" y="496.75" font-size="6.8" font-weight="normal" fill="#2a2a2a" text-anchor="middle" textLength="19.5" lengthAdjust="spacingAndGlyphs">C1/C2</text>
<text x="360.26" y="496.75" font-size="6.8" font-weight="normal" fill="#2a2a2a" text-anchor="middle" textLength="19.5" lengthAdjust="spacingAndGlyphs">C2/C2</text>
<text x="382.82" y="496.75" font-size="6.8" font-weight="normal" fill="#2a2a2a" text-anchor="middle" textLength="19.5" lengthAdjust="spacingAndGlyphs">C1/C1</text>
<text x="405.38" y="496.75" font-size="6.8" font-weight="normal" fill="#2a2a2a" text-anchor="middle" textLength="19.5" lengthAdjust="spacingAndGlyphs">C1/C2</text>
<text x="427.94" y="496.75" font-size="6.8" font-weight="normal" fill="#2a2a2a" text-anchor="middle" textLength="19.5" lengthAdjust="spacingAndGlyphs">C2/C2</text>
<text x="450.5" y="496.75" font-size="6.8" font-weight="normal" fill="#2a2a2a" text-anchor="middle" textLength="19.5" lengthAdjust="spacingAndGlyphs">C1/C1</text>
<text x="473.06" y="496.75" font-size="6.8" font-weight="normal" fill="#2a2a2a" text-anchor="middle" textLength="19.5" lengthAdjust="spacingAndGlyphs">C1/C2</text>
<text x="495.62" y="496.75" font-size="6.8" font-weight="normal" fill="#2a2a2a" text-anchor="middle" textLength="19.5" lengthAdjust="spacingAndGlyphs">C2/C2</text>
<line x1="308" y1="502.5" x2="368.4" y2="502.5" stroke="#333" stroke-width="1"/>
<text class="g" x="338.2" y="513.9" font-size="8.6" font-weight="normal" fill="#1a1a1a" text-anchor="middle" textLength="42.5" lengthAdjust="spacingAndGlyphs">NKG2A 440C/C</text>
<line x1="375.68" y1="502.5" x2="436.08" y2="502.5" stroke="#333" stroke-width="1"/>
<text class="g" x="405.88" y="513.9" font-size="8.6" font-weight="normal" fill="#1a1a1a" text-anchor="middle" textLength="42.5" lengthAdjust="spacingAndGlyphs">NKG2A 440C/T</text>
<line x1="443.36" y1="502.5" x2="503.76" y2="502.5" stroke="#333" stroke-width="1"/>
<text class="g" x="473.56" y="513.9" font-size="8.6" font-weight="normal" fill="#1a1a1a" text-anchor="middle" textLength="42.5" lengthAdjust="spacingAndGlyphs">NKG2A 440T/T</text>
<text class="v" transform="translate(274.31,428.5) rotate(-90)" x="0" y="0" font-size="7.8" fill="#2a2a2a" text-anchor="middle" textLength="99" lengthAdjust="spacingAndGlyphs">MFI of NKG2A+ CD56<tspan font-size="4.5" dy="-2.2">dim</tspan><tspan dy="2.2"> NK cells</tspan></text>
<line x1="319.4" y1="358.5" x2="367.9" y2="358.5" stroke="#3a3a3a" stroke-width="1"/>
<text x="343.6" y="359.26" font-size="7" fill="#2a2a2a" text-anchor="middle">**</text>
<line x1="310.2" y1="372.5" x2="358.7" y2="372.5" stroke="#3a3a3a" stroke-width="1"/>
<text x="334.5" y="372.76" font-size="7" fill="#2a2a2a" text-anchor="middle">**</text>
<line x1="310.2" y1="387.5" x2="330.2" y2="387.5" stroke="#3a3a3a" stroke-width="1"/>
<text x="320.2" y="387.56" font-size="7" fill="#2a2a2a" text-anchor="middle">*</text>
<line x1="376.7" y1="394.5" x2="423.3" y2="394.5" stroke="#3a3a3a" stroke-width="1"/>
<text x="399.6" y="394.26" font-size="7" fill="#2a2a2a" text-anchor="middle">*</text>
<circle cx="483.1" cy="370.8" r="0.9" fill="#3a88c4"/>
<circle cx="483.1" cy="381.4" r="0.9" fill="#3b8e3b"/>
<text x="487.1" y="373.54" font-size="7.6" font-weight="normal" fill="#2a2a2a" textLength="23.7" lengthAdjust="spacingAndGlyphs">HCMV&#8722;</text>
<text x="487.1" y="384.14" font-size="7.6" font-weight="normal" fill="#2a2a2a" textLength="23.7" lengthAdjust="spacingAndGlyphs">HCMV+</text>
<rect x="308.75" y="423.75" width="1.5" height="1.5" fill="#3a88c4"/>
<rect x="308.75" y="428.45" width="1.5" height="1.5" fill="#3a88c4"/>
<rect x="308.75" y="434.75" width="1.5" height="1.5" fill="#3a88c4"/>
<rect x="311.65" y="436.75" width="1.5" height="1.5" fill="#3a88c4"/>
<rect x="308.75" y="438.75" width="1.5" height="1.5" fill="#3a88c4"/>
<rect x="311.65" y="440.75" width="1.5" height="1.5" fill="#3a88c4"/>
<rect x="308.75" y="442.65" width="1.5" height="1.5" fill="#3a88c4"/>
<rect x="308.75" y="445.05" width="1.5" height="1.5" fill="#3a88c4"/>
<line x1="309.5" y1="443.4" x2="309.5" y2="429.2" stroke="#3a88c4" stroke-width="0.8"/>
<line x1="307" y1="443.5" x2="312" y2="443.5" stroke="#3a88c4" stroke-width="0.8"/>
<line x1="307" y1="429.5" x2="312" y2="429.5" stroke="#3a88c4" stroke-width="0.8"/>
<line x1="305.5" y1="439.5" x2="313.5" y2="439.5" stroke="#1e2a33" stroke-width="1.2"/>
<rect x="320.03" y="409.65" width="1.5" height="1.5" fill="#3b8e3b"/>
<rect x="320.03" y="416.65" width="1.5" height="1.5" fill="#3b8e3b"/>
<rect x="320.03" y="423.75" width="1.5" height="1.5" fill="#3b8e3b"/>
<rect x="320.03" y="434.75" width="1.5" height="1.5" fill="#3b8e3b"/>
<rect x="320.03" y="449.25" width="1.5" height="1.5" fill="#3b8e3b"/>
<rect x="320.03" y="454.45" width="1.5" height="1.5" fill="#3b8e3b"/>
<line x1="320.5" y1="440.3" x2="320.5" y2="417.4" stroke="#3b8e3b" stroke-width="0.8"/>
<line x1="318.28" y1="440.5" x2="323.28" y2="440.5" stroke="#3b8e3b" stroke-width="0.8"/>
<line x1="318.28" y1="417.5" x2="323.28" y2="417.5" stroke="#3b8e3b" stroke-width="0.8"/>
<line x1="316.78" y1="424.5" x2="324.78" y2="424.5" stroke="#1f3320" stroke-width="1.2"/>
<rect x="331.31" y="401.75" width="1.5" height="1.5" fill="#3a88c4"/>
<rect x="331.31" y="413.55" width="1.5" height="1.5" fill="#3a88c4"/>
<rect x="328.41" y="415.15" width="1.5" height="1.5" fill="#3a88c4"/>
<rect x="331.31" y="420.65" width="1.5" height="1.5" fill="#3a88c4"/>
<rect x="331.31" y="433.25" width="1.5" height="1.5" fill="#3a88c4"/>
<rect x="328.41" y="435.25" width="1.5" height="1.5" fill="#3a88c4"/>
<rect x="331.31" y="437.25" width="1.5" height="1.5" fill="#3a88c4"/>
<rect x="331.31" y="439.55" width="1.5" height="1.5" fill="#3a88c4"/>
<line x1="332.5" y1="436" x2="332.5" y2="414" stroke="#3a88c4" stroke-width="0.8"/>
<line x1="329.56" y1="436.5" x2="334.56" y2="436.5" stroke="#3a88c4" stroke-width="0.8"/>
<line x1="329.56" y1="414.5" x2="334.56" y2="414.5" stroke="#3a88c4" stroke-width="0.8"/>
<line x1="328.06" y1="421.5" x2="336.06" y2="421.5" stroke="#1e2a33" stroke-width="1.2"/>
<rect x="342.59" y="377.85" width="1.5" height="1.5" fill="#3b8e3b"/>
<rect x="342.59" y="396.25" width="1.5" height="1.5" fill="#3b8e3b"/>
<rect x="342.59" y="399.25" width="1.5" height="1.5" fill="#3b8e3b"/>
<rect x="345.49" y="400.95" width="1.5" height="1.5" fill="#3b8e3b"/>
<rect x="342.59" y="402.25" width="1.5" height="1.5" fill="#3b8e3b"/>
<rect x="339.69" y="403.75" width="1.5" height="1.5" fill="#3b8e3b"/>
<rect x="342.59" y="405.25" width="1.5" height="1.5" fill="#3b8e3b"/>
<rect x="339.69" y="406.75" width="1.5" height="1.5" fill="#3b8e3b"/>
<rect x="342.59" y="408.25" width="1.5" height="1.5" fill="#3b8e3b"/>
<rect x="345.49" y="409.75" width="1.5" height="1.5" fill="#3b8e3b"/>
<rect x="342.59" y="411.25" width="1.5" height="1.5" fill="#3b8e3b"/>
<rect x="342.59" y="419.05" width="1.5" height="1.5" fill="#3b8e3b"/>
<rect x="339.69" y="420.25" width="1.5" height="1.5" fill="#3b8e3b"/>
<rect x="342.59" y="421.75" width="1.5" height="1.5" fill="#3b8e3b"/>
<rect x="339.69" y="423.25" width="1.5" height="1.5" fill="#3b8e3b"/>
<rect x="342.59" y="424.75" width="1.5" height="1.5" fill="#3b8e3b"/>
<rect x="339.69" y="426.25" width="1.5" height="1.5" fill="#3b8e3b"/>
<rect x="342.59" y="427.75" width="1.5" height="1.5" fill="#3b8e3b"/>
<rect x="345.49" y="428.45" width="1.5" height="1.5" fill="#3b8e3b"/>
<rect x="342.59" y="436.25" width="1.5" height="1.5" fill="#3b8e3b"/>
<rect x="339.69" y="438.25" width="1.5" height="1.5" fill="#3b8e3b"/>
<rect x="342.59" y="440.25" width="1.5" height="1.5" fill="#3b8e3b"/>
<rect x="339.69" y="442.25" width="1.5" height="1.5" fill="#3b8e3b"/>
<rect x="342.59" y="444.25" width="1.5" height="1.5" fill="#3b8e3b"/>
<line x1="343.5" y1="430" x2="343.5" y2="405" stroke="#3b8e3b" stroke-width="0.8"/>
<line x1="340.84" y1="430.5" x2="345.84" y2="430.5" stroke="#3b8e3b" stroke-width="0.8"/>
<line x1="340.84" y1="405.5" x2="345.84" y2="405.5" stroke="#3b8e3b" stroke-width="0.8"/>
<line x1="339.34" y1="419.5" x2="347.34" y2="419.5" stroke="#1f3320" stroke-width="1.2"/>
<rect x="353.87" y="404.05" width="1.5" height="1.5" fill="#3a88c4"/>
<rect x="353.87" y="414.25" width="1.5" height="1.5" fill="#3a88c4"/>
<rect x="356.77" y="415.25" width="1.5" height="1.5" fill="#3a88c4"/>
<line x1="354.5" y1="415" x2="354.5" y2="404.8" stroke="#3a88c4" stroke-width="0.8"/>
<line x1="352.12" y1="415.5" x2="357.12" y2="415.5" stroke="#3a88c4" stroke-width="0.8"/>
<line x1="352.12" y1="404.5" x2="357.12" y2="404.5" stroke="#3a88c4" stroke-width="0.8"/>
<line x1="350.62" y1="415.5" x2="358.62" y2="415.5" stroke="#1e2a33" stroke-width="1.2"/>
<rect x="365.15" y="376.25" width="1.5" height="1.5" fill="#3b8e3b"/>
<rect x="365.15" y="391.45" width="1.5" height="1.5" fill="#3b8e3b"/>
<rect x="365.15" y="396.95" width="1.5" height="1.5" fill="#3b8e3b"/>
<rect x="365.15" y="401.75" width="1.5" height="1.5" fill="#3b8e3b"/>
<rect x="365.15" y="404.25" width="1.5" height="1.5" fill="#3b8e3b"/>
<rect x="365.15" y="406.75" width="1.5" height="1.5" fill="#3b8e3b"/>
<rect x="365.15" y="409.25" width="1.5" height="1.5" fill="#3b8e3b"/>
<rect x="365.15" y="411.75" width="1.5" height="1.5" fill="#3b8e3b"/>
<rect x="365.15" y="414.25" width="1.5" height="1.5" fill="#3b8e3b"/>
<rect x="365.15" y="417.25" width="1.5" height="1.5" fill="#3b8e3b"/>
<rect x="365.15" y="420.25" width="1.5" height="1.5" fill="#3b8e3b"/>
<rect x="365.15" y="423.25" width="1.5" height="1.5" fill="#3b8e3b"/>
<rect x="368.05" y="425.25" width="1.5" height="1.5" fill="#3b8e3b"/>
<rect x="365.15" y="431.25" width="1.5" height="1.5" fill="#3b8e3b"/>
<line x1="365.5" y1="424" x2="365.5" y2="397.7" stroke="#3b8e3b" stroke-width="0.8"/>
<line x1="363.4" y1="424.5" x2="368.4" y2="424.5" stroke="#3b8e3b" stroke-width="0.8"/>
<line x1="363.4" y1="397.5" x2="368.4" y2="397.5" stroke="#3b8e3b" stroke-width="0.8"/>
<line x1="361.9" y1="410.5" x2="369.9" y2="410.5" stroke="#1f3320" stroke-width="1.2"/>
<rect x="376.43" y="431.85" width="1.5" height="1.5" fill="#3a88c4"/>
<rect x="376.43" y="436.25" width="1.5" height="1.5" fill="#3a88c4"/>
<rect x="376.43" y="441.75" width="1.5" height="1.5" fill="#3a88c4"/>
<rect x="379.33" y="443.25" width="1.5" height="1.5" fill="#3a88c4"/>
<rect x="376.43" y="444.25" width="1.5" height="1.5" fill="#3a88c4"/>
<rect x="379.33" y="445.75" width="1.5" height="1.5" fill="#3a88c4"/>
<rect x="376.43" y="449.65" width="1.5" height="1.5" fill="#3a88c4"/>
<line x1="377.5" y1="446.5" x2="377.5" y2="437" stroke="#3a88c4" stroke-width="0.8"/>
<line x1="374.68" y1="446.5" x2="379.68" y2="446.5" stroke="#3a88c4" stroke-width="0.8"/>
<line x1="374.68" y1="437.5" x2="379.68" y2="437.5" stroke="#3a88c4" stroke-width="0.8"/>
<line x1="373.18" y1="444.5" x2="381.18" y2="444.5" stroke="#1e2a33" stroke-width="1.2"/>
<rect x="385.51" y="434.51" width="1.5" height="1.5" fill="#3b8e3b"/>
<rect x="387.71" y="410.7" width="1.5" height="1.5" fill="#3b8e3b"/>
<rect x="387.71" y="447.34" width="1.5" height="1.5" fill="#3b8e3b"/>
<rect x="389.91" y="435.99" width="1.5" height="1.5" fill="#3b8e3b"/>
<rect x="385.51" y="430.68" width="1.5" height="1.5" fill="#3b8e3b"/>
<rect x="389.91" y="445.21" width="1.5" height="1.5" fill="#3b8e3b"/>
<rect x="389.91" y="433.04" width="1.5" height="1.5" fill="#3b8e3b"/>
<rect x="387.71" y="419.74" width="1.5" height="1.5" fill="#3b8e3b"/>
<rect x="387.71" y="401.35" width="1.5" height="1.5" fill="#3b8e3b"/>
<rect x="387.71" y="415.26" width="1.5" height="1.5" fill="#3b8e3b"/>
<rect x="387.71" y="444.55" width="1.5" height="1.5" fill="#3b8e3b"/>
<rect x="385.51" y="416.94" width="1.5" height="1.5" fill="#3b8e3b"/>
<rect x="385.51" y="437.18" width="1.5" height="1.5" fill="#3b8e3b"/>
<rect x="387.71" y="426.16" width="1.5" height="1.5" fill="#3b8e3b"/>
<rect x="385.51" y="421.77" width="1.5" height="1.5" fill="#3b8e3b"/>
<rect x="385.51" y="428.23" width="1.5" height="1.5" fill="#3b8e3b"/>
<rect x="389.91" y="426.56" width="1.5" height="1.5" fill="#3b8e3b"/>
<rect x="392.11" y="436.59" width="1.5" height="1.5" fill="#3b8e3b"/>
<rect x="387.71" y="435.39" width="1.5" height="1.5" fill="#3b8e3b"/>
<rect x="387.71" y="438.22" width="1.5" height="1.5" fill="#3b8e3b"/>
<rect x="385.51" y="424.58" width="1.5" height="1.5" fill="#3b8e3b"/>
<rect x="389.91" y="438.79" width="1.5" height="1.5" fill="#3b8e3b"/>
<rect x="387.71" y="422.75" width="1.5" height="1.5" fill="#3b8e3b"/>
<rect x="387.71" y="456.75" width="1.5" height="1.5" fill="#3b8e3b"/>
<rect x="389.91" y="442.35" width="1.5" height="1.5" fill="#3b8e3b"/>
<rect x="387.71" y="451.47" width="1.5" height="1.5" fill="#3b8e3b"/>
<rect x="389.91" y="449.33" width="1.5" height="1.5" fill="#3b8e3b"/>
<rect x="385.51" y="442.85" width="1.5" height="1.5" fill="#3b8e3b"/>
<rect x="387.71" y="432.61" width="1.5" height="1.5" fill="#3b8e3b"/>
<rect x="387.71" y="429.27" width="1.5" height="1.5" fill="#3b8e3b"/>
<rect x="392.11" y="439.22" width="1.5" height="1.5" fill="#3b8e3b"/>
<rect x="387.71" y="440.92" width="1.5" height="1.5" fill="#3b8e3b"/>
<line x1="388.5" y1="442" x2="388.5" y2="430" stroke="#3b8e3b" stroke-width="0.8"/>
<line x1="385.96" y1="442.5" x2="390.96" y2="442.5" stroke="#3b8e3b" stroke-width="0.8"/>
<line x1="385.96" y1="430.5" x2="390.96" y2="430.5" stroke="#3b8e3b" stroke-width="0.8"/>
<line x1="384.46" y1="436.5" x2="392.46" y2="436.5" stroke="#1f3320" stroke-width="1.2"/>
<rect x="398.99" y="419.75" width="1.5" height="1.5" fill="#3a88c4"/>
<rect x="398.99" y="428.45" width="1.5" height="1.5" fill="#3a88c4"/>
<rect x="398.99" y="434.75" width="1.5" height="1.5" fill="#3a88c4"/>
<rect x="398.99" y="438.25" width="1.5" height="1.5" fill="#3a88c4"/>
<rect x="398.99" y="441.25" width="1.5" height="1.5" fill="#3a88c4"/>
<rect x="398.99" y="444.25" width="1.5" height="1.5" fill="#3a88c4"/>
<rect x="398.99" y="447.25" width="1.5" height="1.5" fill="#3a88c4"/>
<rect x="398.99" y="450.45" width="1.5" height="1.5" fill="#3a88c4"/>
<rect x="398.99" y="454.35" width="1.5" height="1.5" fill="#3a88c4"/>
<line x1="399.5" y1="451" x2="399.5" y2="435.5" stroke="#3a88c4" stroke-width="0.8"/>
<line x1="397.24" y1="451.5" x2="402.24" y2="451.5" stroke="#3a88c4" stroke-width="0.8"/>
<line x1="397.24" y1="435.5" x2="402.24" y2="435.5" stroke="#3a88c4" stroke-width="0.8"/>
<line x1="395.74" y1="444.5" x2="403.74" y2="444.5" stroke="#1e2a33" stroke-width="1.2"/>
<rect x="414.67" y="439.39" width="1.5" height="1.5" fill="#3b8e3b"/>
<rect x="410.27" y="428.08" width="1.5" height="1.5" fill="#3b8e3b"/>
<rect x="410.27" y="441.11" width="1.5" height="1.5" fill="#3b8e3b"/>
<rect x="408.07" y="417.06" width="1.5" height="1.5" fill="#3b8e3b"/>
<rect x="408.07" y="431.25" width="1.5" height="1.5" fill="#3b8e3b"/>
<rect x="414.67" y="436.32" width="1.5" height="1.5" fill="#3b8e3b"/>
<rect x="410.27" y="420.87" width="1.5" height="1.5" fill="#3b8e3b"/>
<rect x="408.07" y="437.24" width="1.5" height="1.5" fill="#3b8e3b"/>
<rect x="410.27" y="444.01" width="1.5" height="1.5" fill="#3b8e3b"/>
<rect x="408.07" y="426.33" width="1.5" height="1.5" fill="#3b8e3b"/>
<rect x="410.27" y="437.95" width="1.5" height="1.5" fill="#3b8e3b"/>
<rect x="408.07" y="440.09" width="1.5" height="1.5" fill="#3b8e3b"/>
<rect x="408.07" y="445.11" width="1.5" height="1.5" fill="#3b8e3b"/>
<rect x="412.47" y="432.21" width="1.5" height="1.5" fill="#3b8e3b"/>
<rect x="410.27" y="435.6" width="1.5" height="1.5" fill="#3b8e3b"/>
<rect x="410.27" y="430.77" width="1.5" height="1.5" fill="#3b8e3b"/>
<rect x="412.47" y="421.79" width="1.5" height="1.5" fill="#3b8e3b"/>
<rect x="412.47" y="435.01" width="1.5" height="1.5" fill="#3b8e3b"/>
<rect x="410.27" y="415.05" width="1.5" height="1.5" fill="#3b8e3b"/>
<rect x="412.47" y="445.66" width="1.5" height="1.5" fill="#3b8e3b"/>
<rect x="408.07" y="448.85" width="1.5" height="1.5" fill="#3b8e3b"/>
<rect x="412.47" y="438.62" width="1.5" height="1.5" fill="#3b8e3b"/>
<rect x="410.27" y="433.16" width="1.5" height="1.5" fill="#3b8e3b"/>
<rect x="410.27" y="446.81" width="1.5" height="1.5" fill="#3b8e3b"/>
<rect x="412.47" y="429.49" width="1.5" height="1.5" fill="#3b8e3b"/>
<rect x="408.07" y="434.31" width="1.5" height="1.5" fill="#3b8e3b"/>
<rect x="412.47" y="442.92" width="1.5" height="1.5" fill="#3b8e3b"/>
<rect x="410.27" y="424.94" width="1.5" height="1.5" fill="#3b8e3b"/>
<line x1="411.5" y1="441" x2="411.5" y2="431" stroke="#3b8e3b" stroke-width="0.8"/>
<line x1="408.52" y1="441.5" x2="413.52" y2="441.5" stroke="#3b8e3b" stroke-width="0.8"/>
<line x1="408.52" y1="431.5" x2="413.52" y2="431.5" stroke="#3b8e3b" stroke-width="0.8"/>
<line x1="407.02" y1="436.5" x2="415.02" y2="436.5" stroke="#1f3320" stroke-width="1.2"/>
<rect x="421.55" y="406.45" width="1.5" height="1.5" fill="#3a88c4"/>
<rect x="421.55" y="415.05" width="1.5" height="1.5" fill="#3a88c4"/>
<rect x="421.55" y="418.25" width="1.5" height="1.5" fill="#3a88c4"/>
<rect x="421.55" y="426.05" width="1.5" height="1.5" fill="#3a88c4"/>
<rect x="421.55" y="434.75" width="1.5" height="1.5" fill="#3a88c4"/>
<rect x="424.45" y="436.25" width="1.5" height="1.5" fill="#3a88c4"/>
<rect x="421.55" y="437.85" width="1.5" height="1.5" fill="#3a88c4"/>
<rect x="421.55" y="451.75" width="1.5" height="1.5" fill="#3a88c4"/>
<line x1="422.5" y1="438.6" x2="422.5" y2="418.5" stroke="#3a88c4" stroke-width="0.8"/>
<line x1="419.8" y1="438.5" x2="424.8" y2="438.5" stroke="#3a88c4" stroke-width="0.8"/>
<line x1="419.8" y1="418.5" x2="424.8" y2="418.5" stroke="#3a88c4" stroke-width="0.8"/>
<line x1="418.3" y1="435.5" x2="426.3" y2="435.5" stroke="#1e2a33" stroke-width="1.2"/>
<rect x="432.83" y="407.95" width="1.5" height="1.5" fill="#3b8e3b"/>
<rect x="432.83" y="410.35" width="1.5" height="1.5" fill="#3b8e3b"/>
<rect x="432.83" y="416.65" width="1.5" height="1.5" fill="#3b8e3b"/>
<rect x="432.83" y="422.15" width="1.5" height="1.5" fill="#3b8e3b"/>
<rect x="432.83" y="430.05" width="1.5" height="1.5" fill="#3b8e3b"/>
<rect x="432.83" y="439.45" width="1.5" height="1.5" fill="#3b8e3b"/>
<rect x="432.83" y="444.95" width="1.5" height="1.5" fill="#3b8e3b"/>
<rect x="432.83" y="449.65" width="1.5" height="1.5" fill="#3b8e3b"/>
<line x1="433.5" y1="445.7" x2="433.5" y2="417.4" stroke="#3b8e3b" stroke-width="0.8"/>
<line x1="431.08" y1="445.5" x2="436.08" y2="445.5" stroke="#3b8e3b" stroke-width="0.8"/>
<line x1="431.08" y1="417.5" x2="436.08" y2="417.5" stroke="#3b8e3b" stroke-width="0.8"/>
<line x1="429.58" y1="430.5" x2="437.58" y2="430.5" stroke="#1f3320" stroke-width="1.2"/>
<rect x="444.11" y="447.25" width="1.5" height="1.5" fill="#3a88c4"/>
<rect x="447.01" y="448.75" width="1.5" height="1.5" fill="#3a88c4"/>
<rect x="444.11" y="450.25" width="1.5" height="1.5" fill="#3a88c4"/>
<rect x="441.21" y="451.75" width="1.5" height="1.5" fill="#3a88c4"/>
<rect x="444.11" y="453.25" width="1.5" height="1.5" fill="#3a88c4"/>
<rect x="441.21" y="454.35" width="1.5" height="1.5" fill="#3a88c4"/>
<line x1="444.5" y1="453" x2="444.5" y2="449" stroke="#3a88c4" stroke-width="0.8"/>
<line x1="442.36" y1="453.5" x2="447.36" y2="453.5" stroke="#3a88c4" stroke-width="0.8"/>
<line x1="442.36" y1="449.5" x2="447.36" y2="449.5" stroke="#3a88c4" stroke-width="0.8"/>
<line x1="440.86" y1="451.5" x2="448.86" y2="451.5" stroke="#1e2a33" stroke-width="1.2"/>
<rect x="457.59" y="450.08" width="1.5" height="1.5" fill="#3b8e3b"/>
<rect x="450.99" y="453.63" width="1.5" height="1.5" fill="#3b8e3b"/>
<rect x="455.39" y="444.08" width="1.5" height="1.5" fill="#3b8e3b"/>
<rect x="455.39" y="438.83" width="1.5" height="1.5" fill="#3b8e3b"/>
<rect x="459.79" y="448.8" width="1.5" height="1.5" fill="#3b8e3b"/>
<rect x="455.39" y="449.41" width="1.5" height="1.5" fill="#3b8e3b"/>
<rect x="455.39" y="441.62" width="1.5" height="1.5" fill="#3b8e3b"/>
<rect x="453.19" y="448.25" width="1.5" height="1.5" fill="#3b8e3b"/>
<rect x="453.19" y="451.37" width="1.5" height="1.5" fill="#3b8e3b"/>
<rect x="457.59" y="433.17" width="1.5" height="1.5" fill="#3b8e3b"/>
<rect x="455.39" y="431.12" width="1.5" height="1.5" fill="#3b8e3b"/>
<rect x="457.59" y="437.79" width="1.5" height="1.5" fill="#3b8e3b"/>
<rect x="457.59" y="440.15" width="1.5" height="1.5" fill="#3b8e3b"/>
<rect x="455.39" y="452.26" width="1.5" height="1.5" fill="#3b8e3b"/>
<rect x="455.39" y="455.15" width="1.5" height="1.5" fill="#3b8e3b"/>
<rect x="455.39" y="414.55" width="1.5" height="1.5" fill="#3b8e3b"/>
<rect x="457.59" y="447.63" width="1.5" height="1.5" fill="#3b8e3b"/>
<rect x="457.59" y="452.83" width="1.5" height="1.5" fill="#3b8e3b"/>
<rect x="457.59" y="442.55" width="1.5" height="1.5" fill="#3b8e3b"/>
<rect x="455.39" y="446.84" width="1.5" height="1.5" fill="#3b8e3b"/>
<rect x="455.39" y="436.41" width="1.5" height="1.5" fill="#3b8e3b"/>
<rect x="453.19" y="445.87" width="1.5" height="1.5" fill="#3b8e3b"/>
<line x1="456.5" y1="451" x2="456.5" y2="443" stroke="#3b8e3b" stroke-width="0.8"/>
<line x1="453.64" y1="451.5" x2="458.64" y2="451.5" stroke="#3b8e3b" stroke-width="0.8"/>
<line x1="453.64" y1="443.5" x2="458.64" y2="443.5" stroke="#3b8e3b" stroke-width="0.8"/>
<line x1="452.14" y1="447.5" x2="460.14" y2="447.5" stroke="#1f3320" stroke-width="1.2"/>
<rect x="466.67" y="418.25" width="1.5" height="1.5" fill="#3a88c4"/>
<rect x="466.67" y="425.25" width="1.5" height="1.5" fill="#3a88c4"/>
<rect x="466.67" y="431.55" width="1.5" height="1.5" fill="#3a88c4"/>
<rect x="466.67" y="435.25" width="1.5" height="1.5" fill="#3a88c4"/>
<rect x="466.67" y="439.25" width="1.5" height="1.5" fill="#3a88c4"/>
<rect x="466.67" y="443.25" width="1.5" height="1.5" fill="#3a88c4"/>
<rect x="466.67" y="447.25" width="1.5" height="1.5" fill="#3a88c4"/>
<rect x="466.67" y="451.25" width="1.5" height="1.5" fill="#3a88c4"/>
<rect x="466.67" y="453.55" width="1.5" height="1.5" fill="#3a88c4"/>
<line x1="467.5" y1="454" x2="467.5" y2="432.3" stroke="#3a88c4" stroke-width="0.8"/>
<line x1="464.92" y1="454.5" x2="469.92" y2="454.5" stroke="#3a88c4" stroke-width="0.8"/>
<line x1="464.92" y1="432.5" x2="469.92" y2="432.5" stroke="#3a88c4" stroke-width="0.8"/>
<line x1="463.42" y1="444.5" x2="471.42" y2="444.5" stroke="#1e2a33" stroke-width="1.2"/>
<rect x="477.95" y="438.63" width="1.5" height="1.5" fill="#3b8e3b"/>
<rect x="475.75" y="445.64" width="1.5" height="1.5" fill="#3b8e3b"/>
<rect x="477.95" y="444.34" width="1.5" height="1.5" fill="#3b8e3b"/>
<rect x="480.15" y="437.32" width="1.5" height="1.5" fill="#3b8e3b"/>
<rect x="477.95" y="441.38" width="1.5" height="1.5" fill="#3b8e3b"/>
<rect x="480.15" y="453.39" width="1.5" height="1.5" fill="#3b8e3b"/>
<rect x="477.95" y="452.58" width="1.5" height="1.5" fill="#3b8e3b"/>
<rect x="477.95" y="430.42" width="1.5" height="1.5" fill="#3b8e3b"/>
<rect x="480.15" y="424.87" width="1.5" height="1.5" fill="#3b8e3b"/>
<rect x="480.15" y="445.14" width="1.5" height="1.5" fill="#3b8e3b"/>
<rect x="477.95" y="403.25" width="1.5" height="1.5" fill="#3b8e3b"/>
<rect x="477.95" y="450.17" width="1.5" height="1.5" fill="#3b8e3b"/>
<rect x="477.95" y="426.87" width="1.5" height="1.5" fill="#3b8e3b"/>
<rect x="475.75" y="442.8" width="1.5" height="1.5" fill="#3b8e3b"/>
<rect x="475.75" y="451.38" width="1.5" height="1.5" fill="#3b8e3b"/>
<rect x="480.15" y="449.17" width="1.5" height="1.5" fill="#3b8e3b"/>
<rect x="477.95" y="447.21" width="1.5" height="1.5" fill="#3b8e3b"/>
<rect x="477.95" y="455.15" width="1.5" height="1.5" fill="#3b8e3b"/>
<rect x="480.15" y="440.58" width="1.5" height="1.5" fill="#3b8e3b"/>
<rect x="477.95" y="435.5" width="1.5" height="1.5" fill="#3b8e3b"/>
<rect x="475.75" y="428.5" width="1.5" height="1.5" fill="#3b8e3b"/>
<rect x="477.95" y="433.03" width="1.5" height="1.5" fill="#3b8e3b"/>
<rect x="475.75" y="448.35" width="1.5" height="1.5" fill="#3b8e3b"/>
<rect x="473.55" y="446.23" width="1.5" height="1.5" fill="#3b8e3b"/>
<rect x="477.95" y="424.45" width="1.5" height="1.5" fill="#3b8e3b"/>
<line x1="478.5" y1="450" x2="478.5" y2="438" stroke="#3b8e3b" stroke-width="0.8"/>
<line x1="476.2" y1="450.5" x2="481.2" y2="450.5" stroke="#3b8e3b" stroke-width="0.8"/>
<line x1="476.2" y1="438.5" x2="481.2" y2="438.5" stroke="#3b8e3b" stroke-width="0.8"/>
<line x1="474.7" y1="444.5" x2="482.7" y2="444.5" stroke="#1f3320" stroke-width="1.2"/>
<rect x="489.23" y="422.15" width="1.5" height="1.5" fill="#3a88c4"/>
<rect x="489.23" y="431.55" width="1.5" height="1.5" fill="#3a88c4"/>
<rect x="489.23" y="443.35" width="1.5" height="1.5" fill="#3a88c4"/>
<rect x="489.23" y="447.25" width="1.5" height="1.5" fill="#3a88c4"/>
<rect x="489.23" y="452.05" width="1.5" height="1.5" fill="#3a88c4"/>
<line x1="489.5" y1="449.6" x2="489.5" y2="432.3" stroke="#3a88c4" stroke-width="0.8"/>
<line x1="487.48" y1="449.5" x2="492.48" y2="449.5" stroke="#3a88c4" stroke-width="0.8"/>
<line x1="487.48" y1="432.5" x2="492.48" y2="432.5" stroke="#3a88c4" stroke-width="0.8"/>
<line x1="485.98" y1="444.5" x2="493.98" y2="444.5" stroke="#1e2a33" stroke-width="1.2"/>
<rect x="500.51" y="398.25" width="1.5" height="1.5" fill="#3b8e3b"/>
<rect x="500.51" y="423.45" width="1.5" height="1.5" fill="#3b8e3b"/>
<rect x="500.51" y="431.55" width="1.5" height="1.5" fill="#3b8e3b"/>
<rect x="500.51" y="435.25" width="1.5" height="1.5" fill="#3b8e3b"/>
<rect x="500.51" y="439.25" width="1.5" height="1.5" fill="#3b8e3b"/>
<rect x="500.51" y="443.25" width="1.5" height="1.5" fill="#3b8e3b"/>
<rect x="500.51" y="447.25" width="1.5" height="1.5" fill="#3b8e3b"/>
<rect x="500.51" y="450.45" width="1.5" height="1.5" fill="#3b8e3b"/>
<rect x="500.51" y="455.95" width="1.5" height="1.5" fill="#3b8e3b"/>
<line x1="501.5" y1="451" x2="501.5" y2="432.3" stroke="#3b8e3b" stroke-width="0.8"/>
<line x1="498.76" y1="451.5" x2="503.76" y2="451.5" stroke="#3b8e3b" stroke-width="0.8"/>
<line x1="498.76" y1="432.5" x2="503.76" y2="432.5" stroke="#3b8e3b" stroke-width="0.8"/>
<line x1="497.26" y1="441.5" x2="505.26" y2="441.5" stroke="#1f3320" stroke-width="1.2"/>
<text x="124.8" y="543.13" font-size="11.6" font-weight="bold" fill="#111" text-anchor="middle">D</text>
<line x1="155.5" y1="545" x2="155.5" y2="674.2" stroke="#2b2b2b" stroke-width="1"/>
<line x1="152.2" y1="673.5" x2="155.2" y2="673.5" stroke="#2b2b2b" stroke-width="1"/>
<text x="149.3" y="676.02" font-size="7" fill="#2a2a2a" text-anchor="end">0</text>
<line x1="152.2" y1="648.5" x2="155.2" y2="648.5" stroke="#2b2b2b" stroke-width="1"/>
<text x="149.3" y="650.92" font-size="7" fill="#2a2a2a" text-anchor="end">20</text>
<line x1="152.2" y1="623.5" x2="155.2" y2="623.5" stroke="#2b2b2b" stroke-width="1"/>
<text x="149.3" y="625.82" font-size="7" fill="#2a2a2a" text-anchor="end">40</text>
<line x1="152.2" y1="598.5" x2="155.2" y2="598.5" stroke="#2b2b2b" stroke-width="1"/>
<text x="149.3" y="600.72" font-size="7" fill="#2a2a2a" text-anchor="end">60</text>
<line x1="152.2" y1="573.5" x2="155.2" y2="573.5" stroke="#2b2b2b" stroke-width="1"/>
<text x="149.3" y="575.62" font-size="7" fill="#2a2a2a" text-anchor="end">80</text>
<line x1="152.2" y1="548.5" x2="155.2" y2="548.5" stroke="#2b2b2b" stroke-width="1"/>
<text x="149.3" y="550.52" font-size="7" fill="#2a2a2a" text-anchor="end">100</text>
<line x1="154.7" y1="673.5" x2="238.5" y2="673.5" stroke="#2b2b2b" stroke-width="1"/>
<line x1="173.5" y1="673.7" x2="173.5" y2="676.7" stroke="#2b2b2b" stroke-width="1"/>
<line x1="202.5" y1="673.7" x2="202.5" y2="676.7" stroke="#2b2b2b" stroke-width="1"/>
<line x1="230.5" y1="673.7" x2="230.5" y2="676.7" stroke="#2b2b2b" stroke-width="1"/>
<text x="138.2" y="686.65" font-size="6.8" font-weight="normal" fill="#2a2a2a" textLength="20" lengthAdjust="spacingAndGlyphs">HLA-C</text>
<text x="163" y="686.65" font-size="6.8" font-weight="normal" fill="#2a2a2a" textLength="20.3" lengthAdjust="spacingAndGlyphs">C1/C1</text>
<text x="191.3" y="686.65" font-size="6.8" font-weight="normal" fill="#2a2a2a" textLength="20.2" lengthAdjust="spacingAndGlyphs">C1/C2</text>
<text x="219.6" y="686.65" font-size="6.8" font-weight="normal" fill="#2a2a2a" textLength="20.2" lengthAdjust="spacingAndGlyphs">C2/C2</text>
<text class="v" transform="translate(130.01,609.45) rotate(-90)" x="0" y="0" font-size="7.8" fill="#2a2a2a" text-anchor="middle" textLength="109.1" lengthAdjust="spacingAndGlyphs">% CD107a<tspan font-size="4.5" dy="-2.2">+</tspan><tspan dy="2.2"> NKG2Aop CD56</tspan><tspan font-size="4.5" dy="-2.2">dim</tspan><tspan dy="2.2"> NK cells</tspan></text>
<line x1="172.6" y1="549.5" x2="231.4" y2="549.5" stroke="#555" stroke-width="1.2"/>
<text x="196.7" y="545.02" font-size="7" font-weight="normal" fill="#2a2a2a" textLength="10.8" lengthAdjust="spacingAndGlyphs">NS</text>
<line x1="164.3" y1="577.5" x2="183.3" y2="577.5" stroke="#3a3a3a" stroke-width="1.1"/>
<circle cx="168.88" cy="582.95" r="0.85" fill="#c4b6cf"/>
<circle cx="170.08" cy="588" r="0.85" fill="#c4b6cf"/>
<circle cx="179.55" cy="587.2" r="0.85" fill="#c4b6cf"/>
<circle cx="166.09" cy="571.89" r="0.85" fill="#c4b6cf"/>
<circle cx="173.83" cy="589.4" r="0.85" fill="#c4b6cf"/>
<circle cx="173.79" cy="610.12" r="0.85" fill="#c4b6cf"/>
<circle cx="166.97" cy="565.4" r="0.85" fill="#c4b6cf"/>
<circle cx="168.58" cy="578.2" r="0.85" fill="#c4b6cf"/>
<circle cx="173.71" cy="579.16" r="0.85" fill="#c4b6cf"/>
<circle cx="167.98" cy="572.78" r="0.85" fill="#c4b6cf"/>
<circle cx="177.54" cy="573.82" r="0.85" fill="#c4b6cf"/>
<circle cx="179.7" cy="569.91" r="0.85" fill="#c4b6cf"/>
<circle cx="170.56" cy="566.78" r="0.85" fill="#c4b6cf"/>
<circle cx="175.11" cy="593" r="0.85" fill="#c4b6cf"/>
<circle cx="170.64" cy="568.76" r="0.85" fill="#c4b6cf"/>
<circle cx="181.11" cy="586.11" r="0.85" fill="#c4b6cf"/>
<circle cx="172.39" cy="582.6" r="0.85" fill="#c4b6cf"/>
<circle cx="173.88" cy="647.34" r="0.85" fill="#c4b6cf"/>
<circle cx="179.22" cy="562.42" r="0.85" fill="#c4b6cf"/>
<circle cx="174.83" cy="575.37" r="0.85" fill="#c4b6cf"/>
<circle cx="176.8" cy="584.2" r="0.85" fill="#c4b6cf"/>
<circle cx="172.8" cy="585.14" r="0.85" fill="#c4b6cf"/>
<circle cx="173.24" cy="567.74" r="0.85" fill="#c4b6cf"/>
<circle cx="178.96" cy="580.83" r="0.85" fill="#c4b6cf"/>
<circle cx="174.06" cy="637.18" r="0.85" fill="#c4b6cf"/>
<circle cx="170.97" cy="561.11" r="0.85" fill="#c4b6cf"/>
<circle cx="175.03" cy="562.63" r="0.85" fill="#c4b6cf"/>
<circle cx="179.2" cy="572.21" r="0.85" fill="#c4b6cf"/>
<circle cx="171.48" cy="589.64" r="0.85" fill="#c4b6cf"/>
<circle cx="172.06" cy="599.19" r="0.85" fill="#c4b6cf"/>
<circle cx="179.84" cy="559.66" r="0.85" fill="#c4b6cf"/>
<circle cx="179.55" cy="567.07" r="0.85" fill="#c4b6cf"/>
<circle cx="175.34" cy="585.64" r="0.85" fill="#c4b6cf"/>
<circle cx="170.04" cy="572.3" r="0.85" fill="#c4b6cf"/>
<circle cx="170.42" cy="593.57" r="0.85" fill="#c4b6cf"/>
<circle cx="178.04" cy="585.51" r="0.85" fill="#c4b6cf"/>
<circle cx="174.86" cy="582.35" r="0.85" fill="#c4b6cf"/>
<circle cx="172.15" cy="565.86" r="0.85" fill="#c4b6cf"/>
<circle cx="176.29" cy="569.28" r="0.85" fill="#c4b6cf"/>
<circle cx="171.77" cy="587.11" r="0.85" fill="#c4b6cf"/>
<circle cx="167.81" cy="584.93" r="0.85" fill="#c4b6cf"/>
<circle cx="169.34" cy="579.52" r="0.85" fill="#c4b6cf"/>
<circle cx="176.32" cy="575.82" r="0.85" fill="#c4b6cf"/>
<circle cx="177.78" cy="583.11" r="0.85" fill="#c4b6cf"/>
<circle cx="174.82" cy="571.07" r="0.85" fill="#c4b6cf"/>
<circle cx="173.72" cy="623.56" r="0.85" fill="#c4b6cf"/>
<circle cx="171.64" cy="579.9" r="0.85" fill="#c4b6cf"/>
<circle cx="177.16" cy="563.46" r="0.85" fill="#c4b6cf"/>
<circle cx="174.1" cy="607.52" r="0.85" fill="#c4b6cf"/>
<circle cx="167.05" cy="576.57" r="0.85" fill="#c4b6cf"/>
<circle cx="172.37" cy="563.18" r="0.85" fill="#c4b6cf"/>
<circle cx="175.31" cy="568.57" r="0.85" fill="#c4b6cf"/>
<circle cx="176.42" cy="586.85" r="0.85" fill="#c4b6cf"/>
<circle cx="174.67" cy="566.07" r="0.85" fill="#c4b6cf"/>
<circle cx="174.05" cy="635.18" r="0.85" fill="#c4b6cf"/>
<circle cx="179.14" cy="584.43" r="0.85" fill="#c4b6cf"/>
<circle cx="171.92" cy="570.78" r="0.85" fill="#c4b6cf"/>
<circle cx="177.21" cy="571.88" r="0.85" fill="#c4b6cf"/>
<circle cx="168.07" cy="587.55" r="0.85" fill="#c4b6cf"/>
<circle cx="181.74" cy="573.25" r="0.85" fill="#c4b6cf"/>
<circle cx="173.34" cy="574.58" r="0.85" fill="#c4b6cf"/>
<circle cx="181.07" cy="582.02" r="0.85" fill="#c4b6cf"/>
<circle cx="172.03" cy="602.27" r="0.85" fill="#c4b6cf"/>
<circle cx="173.93" cy="583.69" r="0.85" fill="#c4b6cf"/>
<circle cx="175.01" cy="580.31" r="0.85" fill="#c4b6cf"/>
<circle cx="170.42" cy="591.07" r="0.85" fill="#c4b6cf"/>
<circle cx="175.32" cy="577.55" r="0.85" fill="#c4b6cf"/>
<circle cx="171.63" cy="558.58" r="0.85" fill="#c4b6cf"/>
<circle cx="169.52" cy="562.39" r="0.85" fill="#c4b6cf"/>
<circle cx="173.96" cy="591.97" r="0.85" fill="#c4b6cf"/>
<circle cx="179.09" cy="574.88" r="0.85" fill="#c4b6cf"/>
<circle cx="175.61" cy="564.99" r="0.85" fill="#c4b6cf"/>
<circle cx="169.77" cy="585.94" r="0.85" fill="#c4b6cf"/>
<circle cx="174.09" cy="601.47" r="0.85" fill="#c4b6cf"/>
<circle cx="174.09" cy="630.19" r="0.85" fill="#c4b6cf"/>
<circle cx="173.72" cy="561.77" r="0.85" fill="#c4b6cf"/>
<circle cx="173.83" cy="615.63" r="0.85" fill="#c4b6cf"/>
<circle cx="170.19" cy="581.93" r="0.85" fill="#c4b6cf"/>
<circle cx="167.07" cy="573.76" r="0.85" fill="#c4b6cf"/>
<circle cx="178.18" cy="579.64" r="0.85" fill="#c4b6cf"/>
<circle cx="172.18" cy="625.46" r="0.85" fill="#c4b6cf"/>
<circle cx="171.22" cy="564.66" r="0.85" fill="#c4b6cf"/>
<circle cx="175.9" cy="590.1" r="0.85" fill="#c4b6cf"/>
<circle cx="173.91" cy="581.47" r="0.85" fill="#c4b6cf"/>
<circle cx="176.78" cy="581.33" r="0.85" fill="#c4b6cf"/>
<circle cx="167.88" cy="560.7" r="0.85" fill="#c4b6cf"/>
<circle cx="179.88" cy="577.37" r="0.85" fill="#c4b6cf"/>
<circle cx="175.55" cy="595.82" r="0.85" fill="#c4b6cf"/>
<circle cx="175.77" cy="598.09" r="0.85" fill="#c4b6cf"/>
<circle cx="175.54" cy="573.62" r="0.85" fill="#c4b6cf"/>
<circle cx="181.25" cy="578.99" r="0.85" fill="#c4b6cf"/>
<circle cx="178.35" cy="559.5" r="0.85" fill="#c4b6cf"/>
<circle cx="173.72" cy="594.09" r="0.85" fill="#c4b6cf"/>
<circle cx="166.15" cy="567.44" r="0.85" fill="#c4b6cf"/>
<circle cx="169.35" cy="569.83" r="0.85" fill="#c4b6cf"/>
<circle cx="178.23" cy="577.16" r="0.85" fill="#c4b6cf"/>
<circle cx="170.27" cy="574.66" r="0.85" fill="#c4b6cf"/>
<circle cx="173.54" cy="651.1" r="0.85" fill="#c4b6cf"/>
<circle cx="181.23" cy="570.74" r="0.85" fill="#c4b6cf"/>
<circle cx="176.19" cy="558.48" r="0.85" fill="#c4b6cf"/>
<circle cx="171.98" cy="576.09" r="0.85" fill="#c4b6cf"/>
<circle cx="173.78" cy="605.09" r="0.85" fill="#c4b6cf"/>
<circle cx="172.73" cy="560.4" r="0.85" fill="#c4b6cf"/>
<circle cx="177.69" cy="567.86" r="0.85" fill="#c4b6cf"/>
<circle cx="175.67" cy="560.76" r="0.85" fill="#c4b6cf"/>
<circle cx="171.34" cy="592.11" r="0.85" fill="#c4b6cf"/>
<circle cx="168.26" cy="580.48" r="0.85" fill="#c4b6cf"/>
<circle cx="164.99" cy="569.24" r="0.85" fill="#c4b6cf"/>
<circle cx="173.83" cy="572.61" r="0.85" fill="#c4b6cf"/>
<circle cx="175.25" cy="587.89" r="0.85" fill="#c4b6cf"/>
<circle cx="169.38" cy="559.15" r="0.85" fill="#c4b6cf"/>
<circle cx="176.21" cy="566.68" r="0.85" fill="#c4b6cf"/>
<circle cx="168.14" cy="574.98" r="0.85" fill="#c4b6cf"/>
<circle cx="171.24" cy="577.71" r="0.85" fill="#c4b6cf"/>
<circle cx="176.52" cy="578.68" r="0.85" fill="#c4b6cf"/>
<circle cx="173.73" cy="570.45" r="0.85" fill="#c4b6cf"/>
<circle cx="173.49" cy="613.21" r="0.85" fill="#c4b6cf"/>
<circle cx="173.62" cy="586.3" r="0.85" fill="#c4b6cf"/>
<circle cx="168.31" cy="563.83" r="0.85" fill="#c4b6cf"/>
<circle cx="168.31" cy="567.54" r="0.85" fill="#c4b6cf"/>
<circle cx="171.15" cy="584.05" r="0.85" fill="#c4b6cf"/>
<circle cx="174.16" cy="559.96" r="0.85" fill="#c4b6cf"/>
<circle cx="173.98" cy="557.98" r="0.85" fill="#c4b6cf"/>
<circle cx="180.44" cy="568.47" r="0.85" fill="#c4b6cf"/>
<circle cx="178.85" cy="565.26" r="0.85" fill="#c4b6cf"/>
<circle cx="172.84" cy="577.19" r="0.85" fill="#c4b6cf"/>
<circle cx="167.74" cy="570.67" r="0.85" fill="#c4b6cf"/>
<circle cx="178.16" cy="561.63" r="0.85" fill="#c4b6cf"/>
<circle cx="173.67" cy="597.4" r="0.85" fill="#c4b6cf"/>
<circle cx="173.67" cy="564.28" r="0.85" fill="#c4b6cf"/>
<circle cx="181.17" cy="575.06" r="0.85" fill="#c4b6cf"/>
<circle cx="173.49" cy="656.56" r="0.85" fill="#c4b6cf"/>
<circle cx="172.1" cy="573.43" r="0.85" fill="#c4b6cf"/>
<circle cx="173.41" cy="618.24" r="0.85" fill="#c4b6cf"/>
<circle cx="169.79" cy="576.21" r="0.85" fill="#c4b6cf"/>
<line x1="192.6" y1="577.5" x2="211.6" y2="577.5" stroke="#3a3a3a" stroke-width="1.1"/>
<circle cx="198.32" cy="578.97" r="0.85" fill="#8a5c9c"/>
<circle cx="201.32" cy="570.32" r="0.85" fill="#8a5c9c"/>
<circle cx="199.29" cy="587.32" r="0.85" fill="#8a5c9c"/>
<circle cx="203.84" cy="582.24" r="0.85" fill="#8a5c9c"/>
<circle cx="199.76" cy="619.11" r="0.85" fill="#8a5c9c"/>
<circle cx="197.24" cy="583.88" r="0.85" fill="#8a5c9c"/>
<circle cx="202.46" cy="558.4" r="0.85" fill="#8a5c9c"/>
<circle cx="208.95" cy="572.27" r="0.85" fill="#8a5c9c"/>
<circle cx="200.86" cy="565.87" r="0.85" fill="#8a5c9c"/>
<circle cx="204.85" cy="587.71" r="0.85" fill="#8a5c9c"/>
<circle cx="195.2" cy="571.21" r="0.85" fill="#8a5c9c"/>
<circle cx="201.37" cy="632.73" r="0.85" fill="#8a5c9c"/>
<circle cx="204.64" cy="558.25" r="0.85" fill="#8a5c9c"/>
<circle cx="201.85" cy="594.07" r="0.85" fill="#8a5c9c"/>
<circle cx="201.22" cy="597.6" r="0.85" fill="#8a5c9c"/>
<circle cx="193.7" cy="569.84" r="0.85" fill="#8a5c9c"/>
<circle cx="200.82" cy="589.51" r="0.85" fill="#8a5c9c"/>
<circle cx="196.35" cy="567.48" r="0.85" fill="#8a5c9c"/>
<circle cx="203.93" cy="596.98" r="0.85" fill="#8a5c9c"/>
<circle cx="201.06" cy="600.24" r="0.85" fill="#8a5c9c"/>
<circle cx="206.42" cy="557.97" r="0.85" fill="#8a5c9c"/>
<circle cx="209.14" cy="576.12" r="0.85" fill="#8a5c9c"/>
<circle cx="206.69" cy="573.08" r="0.85" fill="#8a5c9c"/>
<circle cx="203.32" cy="587.52" r="0.85" fill="#8a5c9c"/>
<circle cx="200.43" cy="621.8" r="0.85" fill="#8a5c9c"/>
<circle cx="202.12" cy="623.22" r="0.85" fill="#8a5c9c"/>
<circle cx="208.88" cy="564.9" r="0.85" fill="#8a5c9c"/>
<circle cx="206.59" cy="568.89" r="0.85" fill="#8a5c9c"/>
<circle cx="203.35" cy="611.64" r="0.85" fill="#8a5c9c"/>
<circle cx="204.72" cy="602.65" r="0.85" fill="#8a5c9c"/>
<circle cx="207.88" cy="571.67" r="0.85" fill="#8a5c9c"/>
<circle cx="203.27" cy="604.25" r="0.85" fill="#8a5c9c"/>
<circle cx="197.61" cy="573.26" r="0.85" fill="#8a5c9c"/>
<circle cx="202.67" cy="589.85" r="0.85" fill="#8a5c9c"/>
<circle cx="199.74" cy="560.12" r="0.85" fill="#8a5c9c"/>
<circle cx="201.33" cy="591.36" r="0.85" fill="#8a5c9c"/>
<circle cx="203.26" cy="577.12" r="0.85" fill="#8a5c9c"/>
<circle cx="203.24" cy="606.44" r="0.85" fill="#8a5c9c"/>
<circle cx="200.38" cy="567.94" r="0.85" fill="#8a5c9c"/>
<circle cx="206.2" cy="561.1" r="0.85" fill="#8a5c9c"/>
<circle cx="199.8" cy="570.66" r="0.85" fill="#8a5c9c"/>
<circle cx="201.97" cy="634.72" r="0.85" fill="#8a5c9c"/>
<circle cx="197.29" cy="580.6" r="0.85" fill="#8a5c9c"/>
<circle cx="205.62" cy="579.26" r="0.85" fill="#8a5c9c"/>
<circle cx="195.37" cy="565.74" r="0.85" fill="#8a5c9c"/>
<circle cx="200.95" cy="572.16" r="0.85" fill="#8a5c9c"/>
<circle cx="203.77" cy="613.71" r="0.85" fill="#8a5c9c"/>
<circle cx="207.73" cy="563.56" r="0.85" fill="#8a5c9c"/>
<circle cx="200.64" cy="592.3" r="0.85" fill="#8a5c9c"/>
<circle cx="199.33" cy="566.7" r="0.85" fill="#8a5c9c"/>
<circle cx="195.4" cy="574.93" r="0.85" fill="#8a5c9c"/>
<circle cx="205.86" cy="570.75" r="0.85" fill="#8a5c9c"/>
<circle cx="201.28" cy="619.82" r="0.85" fill="#8a5c9c"/>
<circle cx="196.71" cy="571.25" r="0.85" fill="#8a5c9c"/>
<circle cx="203.25" cy="609.22" r="0.85" fill="#8a5c9c"/>
<circle cx="200.52" cy="611.98" r="0.85" fill="#8a5c9c"/>
<circle cx="203.58" cy="568.18" r="0.85" fill="#8a5c9c"/>
<circle cx="201.06" cy="559.49" r="0.85" fill="#8a5c9c"/>
<circle cx="204.16" cy="566.09" r="0.85" fill="#8a5c9c"/>
<circle cx="201.32" cy="588.21" r="0.85" fill="#8a5c9c"/>
<circle cx="202.53" cy="626.98" r="0.85" fill="#8a5c9c"/>
<circle cx="199.18" cy="583.19" r="0.85" fill="#8a5c9c"/>
<circle cx="198.02" cy="566.55" r="0.85" fill="#8a5c9c"/>
<circle cx="207.77" cy="566.98" r="0.85" fill="#8a5c9c"/>
<circle cx="201" cy="595.5" r="0.85" fill="#8a5c9c"/>
<circle cx="203.42" cy="574.98" r="0.85" fill="#8a5c9c"/>
<circle cx="203.44" cy="584.75" r="0.85" fill="#8a5c9c"/>
<circle cx="199.49" cy="568.62" r="0.85" fill="#8a5c9c"/>
<circle cx="203.39" cy="615.91" r="0.85" fill="#8a5c9c"/>
<circle cx="203.26" cy="628.11" r="0.85" fill="#8a5c9c"/>
<circle cx="203.21" cy="633.22" r="0.85" fill="#8a5c9c"/>
<circle cx="208.38" cy="573.72" r="0.85" fill="#8a5c9c"/>
<circle cx="206.48" cy="581.55" r="0.85" fill="#8a5c9c"/>
<circle cx="201.56" cy="578.11" r="0.85" fill="#8a5c9c"/>
<circle cx="202.35" cy="618.55" r="0.85" fill="#8a5c9c"/>
<circle cx="201.72" cy="567.54" r="0.85" fill="#8a5c9c"/>
<circle cx="203.48" cy="557.06" r="0.85" fill="#8a5c9c"/>
<circle cx="201.31" cy="625.59" r="0.85" fill="#8a5c9c"/>
<circle cx="198.7" cy="576.77" r="0.85" fill="#8a5c9c"/>
<circle cx="199.26" cy="562.2" r="0.85" fill="#8a5c9c"/>
<circle cx="206.34" cy="576.85" r="0.85" fill="#8a5c9c"/>
<circle cx="195.56" cy="572.93" r="0.85" fill="#8a5c9c"/>
<circle cx="207.83" cy="577.89" r="0.85" fill="#8a5c9c"/>
<circle cx="202.64" cy="562.8" r="0.85" fill="#8a5c9c"/>
<circle cx="202.2" cy="571.8" r="0.85" fill="#8a5c9c"/>
<circle cx="205.31" cy="566.97" r="0.85" fill="#8a5c9c"/>
<circle cx="201.67" cy="603.13" r="0.85" fill="#8a5c9c"/>
<circle cx="197.44" cy="586.1" r="0.85" fill="#8a5c9c"/>
<circle cx="202.16" cy="586.08" r="0.85" fill="#8a5c9c"/>
<circle cx="200.01" cy="564.27" r="0.85" fill="#8a5c9c"/>
<circle cx="202.27" cy="561.09" r="0.85" fill="#8a5c9c"/>
<circle cx="200.27" cy="584.39" r="0.85" fill="#8a5c9c"/>
<circle cx="204.55" cy="562.37" r="0.85" fill="#8a5c9c"/>
<circle cx="207.32" cy="575.37" r="0.85" fill="#8a5c9c"/>
<circle cx="201.77" cy="630.38" r="0.85" fill="#8a5c9c"/>
<circle cx="201.78" cy="640.21" r="0.85" fill="#8a5c9c"/>
<circle cx="193.47" cy="573.95" r="0.85" fill="#8a5c9c"/>
<circle cx="204.81" cy="578.15" r="0.85" fill="#8a5c9c"/>
<circle cx="198.34" cy="564.77" r="0.85" fill="#8a5c9c"/>
<circle cx="206.79" cy="585.59" r="0.85" fill="#8a5c9c"/>
<circle cx="202.41" cy="581.49" r="0.85" fill="#8a5c9c"/>
<circle cx="203.87" cy="561.61" r="0.85" fill="#8a5c9c"/>
<circle cx="210.79" cy="570.66" r="0.85" fill="#8a5c9c"/>
<circle cx="202.33" cy="584.24" r="0.85" fill="#8a5c9c"/>
<circle cx="209.93" cy="565.99" r="0.85" fill="#8a5c9c"/>
<circle cx="197.82" cy="562.99" r="0.85" fill="#8a5c9c"/>
<circle cx="203.23" cy="591.2" r="0.85" fill="#8a5c9c"/>
<circle cx="202.11" cy="601.23" r="0.85" fill="#8a5c9c"/>
<circle cx="205.8" cy="583.53" r="0.85" fill="#8a5c9c"/>
<circle cx="200.74" cy="574.4" r="0.85" fill="#8a5c9c"/>
<circle cx="205.11" cy="580.97" r="0.85" fill="#8a5c9c"/>
<circle cx="200.74" cy="557.48" r="0.85" fill="#8a5c9c"/>
<circle cx="203.88" cy="599.62" r="0.85" fill="#8a5c9c"/>
<circle cx="202.22" cy="620.97" r="0.85" fill="#8a5c9c"/>
<circle cx="200.97" cy="602.43" r="0.85" fill="#8a5c9c"/>
<circle cx="204.25" cy="586.26" r="0.85" fill="#8a5c9c"/>
<circle cx="202.16" cy="605.61" r="0.85" fill="#8a5c9c"/>
<circle cx="204.49" cy="569.99" r="0.85" fill="#8a5c9c"/>
<circle cx="203.88" cy="580.42" r="0.85" fill="#8a5c9c"/>
<circle cx="199.8" cy="578.39" r="0.85" fill="#8a5c9c"/>
<circle cx="200.95" cy="617.64" r="0.85" fill="#8a5c9c"/>
<circle cx="203.76" cy="572.63" r="0.85" fill="#8a5c9c"/>
<circle cx="201.85" cy="615.4" r="0.85" fill="#8a5c9c"/>
<circle cx="202.47" cy="579.68" r="0.85" fill="#8a5c9c"/>
<circle cx="197.2" cy="577.24" r="0.85" fill="#8a5c9c"/>
<circle cx="206.27" cy="563.17" r="0.85" fill="#8a5c9c"/>
<circle cx="207.95" cy="569.09" r="0.85" fill="#8a5c9c"/>
<circle cx="204.41" cy="560.49" r="0.85" fill="#8a5c9c"/>
<circle cx="198.05" cy="575.62" r="0.85" fill="#8a5c9c"/>
<circle cx="200.21" cy="605.3" r="0.85" fill="#8a5c9c"/>
<circle cx="203.33" cy="624.01" r="0.85" fill="#8a5c9c"/>
<circle cx="201.88" cy="610.23" r="0.85" fill="#8a5c9c"/>
<circle cx="209.13" cy="568" r="0.85" fill="#8a5c9c"/>
<circle cx="201.71" cy="596.5" r="0.85" fill="#8a5c9c"/>
<circle cx="204.04" cy="593.61" r="0.85" fill="#8a5c9c"/>
<circle cx="202.36" cy="565.13" r="0.85" fill="#8a5c9c"/>
<circle cx="201.41" cy="627.49" r="0.85" fill="#8a5c9c"/>
<circle cx="197.44" cy="569.34" r="0.85" fill="#8a5c9c"/>
<circle cx="205.46" cy="575.94" r="0.85" fill="#8a5c9c"/>
<circle cx="200.22" cy="586.77" r="0.85" fill="#8a5c9c"/>
<circle cx="202.89" cy="592.76" r="0.85" fill="#8a5c9c"/>
<circle cx="196.23" cy="563.47" r="0.85" fill="#8a5c9c"/>
<circle cx="200.98" cy="614.3" r="0.85" fill="#8a5c9c"/>
<circle cx="194.19" cy="572.68" r="0.85" fill="#8a5c9c"/>
<circle cx="201.32" cy="636.05" r="0.85" fill="#8a5c9c"/>
<circle cx="206.52" cy="565.33" r="0.85" fill="#8a5c9c"/>
<circle cx="200.87" cy="582.16" r="0.85" fill="#8a5c9c"/>
<circle cx="200.6" cy="609.82" r="0.85" fill="#8a5c9c"/>
<circle cx="203.83" cy="559.1" r="0.85" fill="#8a5c9c"/>
<circle cx="200.94" cy="561.7" r="0.85" fill="#8a5c9c"/>
<circle cx="202.67" cy="573.94" r="0.85" fill="#8a5c9c"/>
<circle cx="199.78" cy="606.71" r="0.85" fill="#8a5c9c"/>
<circle cx="204.52" cy="583.11" r="0.85" fill="#8a5c9c"/>
<circle cx="202.43" cy="576.05" r="0.85" fill="#8a5c9c"/>
<circle cx="203.97" cy="588.99" r="0.85" fill="#8a5c9c"/>
<circle cx="195.19" cy="567.84" r="0.85" fill="#8a5c9c"/>
<circle cx="200.6" cy="630.44" r="0.85" fill="#8a5c9c"/>
<circle cx="199.37" cy="574.36" r="0.85" fill="#8a5c9c"/>
<circle cx="205.76" cy="575.03" r="0.85" fill="#8a5c9c"/>
<circle cx="199.86" cy="557.58" r="0.85" fill="#8a5c9c"/>
<circle cx="200.88" cy="607.77" r="0.85" fill="#8a5c9c"/>
<circle cx="201.97" cy="612.93" r="0.85" fill="#8a5c9c"/>
<circle cx="201.68" cy="564" r="0.85" fill="#8a5c9c"/>
<circle cx="205.25" cy="585.54" r="0.85" fill="#8a5c9c"/>
<circle cx="202.26" cy="556.29" r="0.85" fill="#8a5c9c"/>
<circle cx="205.39" cy="569.09" r="0.85" fill="#8a5c9c"/>
<circle cx="199" cy="572.88" r="0.85" fill="#8a5c9c"/>
<circle cx="197.02" cy="564.85" r="0.85" fill="#8a5c9c"/>
<circle cx="194.47" cy="576.54" r="0.85" fill="#8a5c9c"/>
<circle cx="203.13" cy="595.23" r="0.85" fill="#8a5c9c"/>
<circle cx="201.26" cy="579.75" r="0.85" fill="#8a5c9c"/>
<circle cx="202.34" cy="599.03" r="0.85" fill="#8a5c9c"/>
<circle cx="204.97" cy="574.03" r="0.85" fill="#8a5c9c"/>
<circle cx="204.92" cy="572.03" r="0.85" fill="#8a5c9c"/>
<circle cx="204.64" cy="598.68" r="0.85" fill="#8a5c9c"/>
<circle cx="209.73" cy="573.71" r="0.85" fill="#8a5c9c"/>
<circle cx="202.43" cy="644.19" r="0.85" fill="#8a5c9c"/>
<circle cx="198.27" cy="558.82" r="0.85" fill="#8a5c9c"/>
<circle cx="198.22" cy="571.27" r="0.85" fill="#8a5c9c"/>
<circle cx="202.62" cy="569.49" r="0.85" fill="#8a5c9c"/>
<circle cx="205.27" cy="565.08" r="0.85" fill="#8a5c9c"/>
<circle cx="203.61" cy="601.79" r="0.85" fill="#8a5c9c"/>
<circle cx="199.48" cy="584.96" r="0.85" fill="#8a5c9c"/>
<circle cx="196.65" cy="574.94" r="0.85" fill="#8a5c9c"/>
<circle cx="203.83" cy="564.39" r="0.85" fill="#8a5c9c"/>
<circle cx="200.75" cy="576.5" r="0.85" fill="#8a5c9c"/>
<circle cx="199.97" cy="580.31" r="0.85" fill="#8a5c9c"/>
<circle cx="196.04" cy="569.34" r="0.85" fill="#8a5c9c"/>
<circle cx="202.27" cy="608.3" r="0.85" fill="#8a5c9c"/>
<circle cx="209.36" cy="569.78" r="0.85" fill="#8a5c9c"/>
<line x1="220.9" y1="574.5" x2="239.9" y2="574.5" stroke="#3a3a3a" stroke-width="1.1"/>
<circle cx="226.91" cy="576.83" r="0.85" fill="#4e1a5e"/>
<circle cx="230.77" cy="594.93" r="0.85" fill="#4e1a5e"/>
<circle cx="226.82" cy="569.02" r="0.85" fill="#4e1a5e"/>
<circle cx="230.17" cy="611.05" r="0.85" fill="#4e1a5e"/>
<circle cx="228.45" cy="615.74" r="0.85" fill="#4e1a5e"/>
<circle cx="222.17" cy="573.86" r="0.85" fill="#4e1a5e"/>
<circle cx="232.72" cy="598.77" r="0.85" fill="#4e1a5e"/>
<circle cx="231.85" cy="573.63" r="0.85" fill="#4e1a5e"/>
<circle cx="228.52" cy="612.76" r="0.85" fill="#4e1a5e"/>
<circle cx="232.04" cy="576.46" r="0.85" fill="#4e1a5e"/>
<circle cx="224.99" cy="575.11" r="0.85" fill="#4e1a5e"/>
<circle cx="230.34" cy="569.44" r="0.85" fill="#4e1a5e"/>
<circle cx="225.64" cy="563.98" r="0.85" fill="#4e1a5e"/>
<circle cx="228.77" cy="581.48" r="0.85" fill="#4e1a5e"/>
<circle cx="233.37" cy="566.18" r="0.85" fill="#4e1a5e"/>
<circle cx="224.08" cy="568.41" r="0.85" fill="#4e1a5e"/>
<circle cx="230.32" cy="592.07" r="0.85" fill="#4e1a5e"/>
<circle cx="223.78" cy="564.86" r="0.85" fill="#4e1a5e"/>
<circle cx="228.65" cy="572.91" r="0.85" fill="#4e1a5e"/>
<circle cx="230.02" cy="588.6" r="0.85" fill="#4e1a5e"/>
<circle cx="222.01" cy="570.31" r="0.85" fill="#4e1a5e"/>
<circle cx="228.34" cy="562.67" r="0.85" fill="#4e1a5e"/>
<circle cx="227.48" cy="565.68" r="0.85" fill="#4e1a5e"/>
<circle cx="231.9" cy="570.94" r="0.85" fill="#4e1a5e"/>
<circle cx="228.8" cy="593.32" r="0.85" fill="#4e1a5e"/>
<circle cx="232.3" cy="560.13" r="0.85" fill="#4e1a5e"/>
<circle cx="226.84" cy="561.97" r="0.85" fill="#4e1a5e"/>
<circle cx="232.03" cy="619.17" r="0.85" fill="#4e1a5e"/>
<circle cx="228.78" cy="609.39" r="0.85" fill="#4e1a5e"/>
<circle cx="230.89" cy="567.28" r="0.85" fill="#4e1a5e"/>
<circle cx="230.91" cy="621.07" r="0.85" fill="#4e1a5e"/>
<circle cx="232.53" cy="590.21" r="0.85" fill="#4e1a5e"/>
<circle cx="234.23" cy="563.89" r="0.85" fill="#4e1a5e"/>
<circle cx="230.56" cy="582.9" r="0.85" fill="#4e1a5e"/>
<circle cx="232.43" cy="596.53" r="0.85" fill="#4e1a5e"/>
<circle cx="230.11" cy="598" r="0.85" fill="#4e1a5e"/>
<circle cx="238.63" cy="570.04" r="0.85" fill="#4e1a5e"/>
<circle cx="230.71" cy="559.01" r="0.85" fill="#4e1a5e"/>
<circle cx="226.27" cy="566.73" r="0.85" fill="#4e1a5e"/>
<circle cx="230.77" cy="601.51" r="0.85" fill="#4e1a5e"/>
<circle cx="228.49" cy="583.55" r="0.85" fill="#4e1a5e"/>
<circle cx="233.99" cy="574.91" r="0.85" fill="#4e1a5e"/>
<circle cx="231.17" cy="608.54" r="0.85" fill="#4e1a5e"/>
<circle cx="230.22" cy="580.55" r="0.85" fill="#4e1a5e"/>
<circle cx="232.74" cy="581.2" r="0.85" fill="#4e1a5e"/>
<circle cx="233.76" cy="568.17" r="0.85" fill="#4e1a5e"/>
<circle cx="234.53" cy="571.7" r="0.85" fill="#4e1a5e"/>
<circle cx="236.05" cy="566.54" r="0.85" fill="#4e1a5e"/>
<circle cx="232.74" cy="562.21" r="0.85" fill="#4e1a5e"/>
<circle cx="227.15" cy="571.38" r="0.85" fill="#4e1a5e"/>
<circle cx="234.95" cy="582.47" r="0.85" fill="#4e1a5e"/>
<circle cx="230.37" cy="565.54" r="0.85" fill="#4e1a5e"/>
<circle cx="230.64" cy="577.89" r="0.85" fill="#4e1a5e"/>
<circle cx="234.66" cy="561.02" r="0.85" fill="#4e1a5e"/>
<circle cx="230.44" cy="617.53" r="0.85" fill="#4e1a5e"/>
<circle cx="230.27" cy="614.91" r="0.85" fill="#4e1a5e"/>
<circle cx="228.45" cy="587.64" r="0.85" fill="#4e1a5e"/>
<circle cx="224.49" cy="572.31" r="0.85" fill="#4e1a5e"/>
<circle cx="227.38" cy="559.6" r="0.85" fill="#4e1a5e"/>
<circle cx="230.05" cy="561.1" r="0.85" fill="#4e1a5e"/>
<circle cx="230.1" cy="603.58" r="0.85" fill="#4e1a5e"/>
<circle cx="231.18" cy="563.31" r="0.85" fill="#4e1a5e"/>
<circle cx="228.75" cy="575.59" r="0.85" fill="#4e1a5e"/>
<circle cx="226.99" cy="573.88" r="0.85" fill="#4e1a5e"/>
<circle cx="228.75" cy="568.01" r="0.85" fill="#4e1a5e"/>
<circle cx="228.32" cy="579.06" r="0.85" fill="#4e1a5e"/>
<circle cx="232.03" cy="584.14" r="0.85" fill="#4e1a5e"/>
<circle cx="233.25" cy="578.31" r="0.85" fill="#4e1a5e"/>
<circle cx="236.57" cy="572.66" r="0.85" fill="#4e1a5e"/>
<circle cx="230.24" cy="571.78" r="0.85" fill="#4e1a5e"/>
<circle cx="236.26" cy="564.92" r="0.85" fill="#4e1a5e"/>
<circle cx="230.59" cy="606.76" r="0.85" fill="#4e1a5e"/>
<circle cx="234.98" cy="579.74" r="0.85" fill="#4e1a5e"/>
<circle cx="229.68" cy="619.77" r="0.85" fill="#4e1a5e"/>
<circle cx="232.4" cy="602.26" r="0.85" fill="#4e1a5e"/>
<circle cx="229.01" cy="570.97" r="0.85" fill="#4e1a5e"/>
<circle cx="230.05" cy="574.44" r="0.85" fill="#4e1a5e"/>
<circle cx="235.69" cy="569.14" r="0.85" fill="#4e1a5e"/>
<circle cx="234.94" cy="577.06" r="0.85" fill="#4e1a5e"/>
<circle cx="230.6" cy="585.98" r="0.85" fill="#4e1a5e"/>
<text x="269.6" y="543.03" font-size="11.6" font-weight="bold" fill="#111" text-anchor="middle">E</text>
<line x1="296.5" y1="545.5" x2="296.5" y2="661.2" stroke="#2b2b2b" stroke-width="1"/>
<line x1="293.9" y1="660.5" x2="296.9" y2="660.5" stroke="#2b2b2b" stroke-width="1"/>
<text x="292.3" y="663.02" font-size="7" fill="#2a2a2a" text-anchor="end">0</text>
<line x1="293.9" y1="638.5" x2="296.9" y2="638.5" stroke="#2b2b2b" stroke-width="1"/>
<text x="292.3" y="640.56" font-size="7" fill="#2a2a2a" text-anchor="end">20</text>
<line x1="293.9" y1="615.5" x2="296.9" y2="615.5" stroke="#2b2b2b" stroke-width="1"/>
<text x="292.3" y="618.1" font-size="7" fill="#2a2a2a" text-anchor="end">40</text>
<line x1="293.9" y1="593.5" x2="296.9" y2="593.5" stroke="#2b2b2b" stroke-width="1"/>
<text x="292.3" y="595.64" font-size="7" fill="#2a2a2a" text-anchor="end">60</text>
<line x1="293.9" y1="570.5" x2="296.9" y2="570.5" stroke="#2b2b2b" stroke-width="1"/>
<text x="292.3" y="573.18" font-size="7" fill="#2a2a2a" text-anchor="end">80</text>
<line x1="293.9" y1="548.5" x2="296.9" y2="548.5" stroke="#2b2b2b" stroke-width="1"/>
<text x="292.3" y="550.72" font-size="7" fill="#2a2a2a" text-anchor="end">100</text>
<line x1="296.4" y1="660.5" x2="392" y2="660.5" stroke="#2b2b2b" stroke-width="1"/>
<line x1="326.5" y1="660.7" x2="326.5" y2="663.7" stroke="#2b2b2b" stroke-width="1"/>
<line x1="370.5" y1="660.7" x2="370.5" y2="663.7" stroke="#2b2b2b" stroke-width="1"/>
<text x="280.1" y="673.75" font-size="6.8" font-weight="normal" fill="#2a2a2a" textLength="20.5" lengthAdjust="spacingAndGlyphs">HLA-C</text>
<text x="317" y="673.95" font-size="6.8" font-weight="normal" fill="#2a2a2a" textLength="19.7" lengthAdjust="spacingAndGlyphs">C1/C1</text>
<text x="361" y="673.95" font-size="6.8" font-weight="normal" fill="#2a2a2a" textLength="20.2" lengthAdjust="spacingAndGlyphs">C2/C2</text>
<line x1="313.8" y1="678.5" x2="381.2" y2="678.5" stroke="#333" stroke-width="1"/>
<text class="g" x="348.2" y="689.6" font-size="8.6" font-weight="normal" fill="#1a1a1a" text-anchor="middle" textLength="44.4" lengthAdjust="spacingAndGlyphs">NKG2A 440C/C</text>
<text class="v" transform="translate(273.21,602.45) rotate(-90)" x="0" y="0" font-size="7.8" fill="#2a2a2a" text-anchor="middle" textLength="78.3" lengthAdjust="spacingAndGlyphs">Percent inhibition of CD107a</text>
<line x1="326.5" y1="562.5" x2="369.4" y2="562.5" stroke="#3a3a3a" stroke-width="1"/>
<text x="347.9" y="562.86" font-size="7" fill="#2a2a2a" text-anchor="middle">*</text>
<line x1="326.5" y1="599.3" x2="326.5" y2="615.4" stroke="#c9c4cf" stroke-width="0.9"/>
<line x1="319.65" y1="599.5" x2="334.15" y2="599.5" stroke="#c9c4cf" stroke-width="0.9"/>
<line x1="319.65" y1="615.5" x2="334.15" y2="615.5" stroke="#c9c4cf" stroke-width="0.9"/>
<line x1="312.25" y1="607.7" x2="341.55" y2="607.7" stroke="#444" stroke-width="1.3"/>
<circle cx="326.9" cy="582.9" r="1.2" fill="#c3bccb"/>
<circle cx="326.9" cy="586.5" r="1.2" fill="#c3bccb"/>
<circle cx="326.9" cy="592" r="1.2" fill="#c3bccb"/>
<circle cx="326.9" cy="604.4" r="1.2" fill="#c3bccb"/>
<circle cx="326.9" cy="626.4" r="1.2" fill="#c3bccb"/>
<circle cx="324.1" cy="630.7" r="1.2" fill="#c3bccb"/>
<circle cx="329.2" cy="630.7" r="1.2" fill="#c3bccb"/>
<line x1="370.5" y1="581.4" x2="370.5" y2="591.1" stroke="#c9c4cf" stroke-width="0.9"/>
<line x1="363.55" y1="581.5" x2="378.25" y2="581.5" stroke="#c9c4cf" stroke-width="0.9"/>
<line x1="363.55" y1="591.5" x2="378.25" y2="591.5" stroke="#c9c4cf" stroke-width="0.9"/>
<line x1="356.25" y1="586.5" x2="385.55" y2="586.5" stroke="#444" stroke-width="1.3"/>
<circle cx="370.9" cy="571.9" r="1.25" fill="#1c0f22"/>
<circle cx="366.1" cy="577" r="1.25" fill="#1c0f22"/>
<circle cx="370.9" cy="578.9" r="1.25" fill="#1c0f22"/>
<circle cx="375.8" cy="578.3" r="1.25" fill="#1c0f22"/>
<circle cx="370.9" cy="593.5" r="1.25" fill="#1c0f22"/>
<circle cx="370.9" cy="598.4" r="1.25" fill="#1c0f22"/>
<circle cx="370.9" cy="607.2" r="1.25" fill="#1c0f22"/>
<rect x="0.5" y="0.5" width="519" height="698" fill="none" stroke="#555" stroke-width="1"/>
</svg>
</body></html>
